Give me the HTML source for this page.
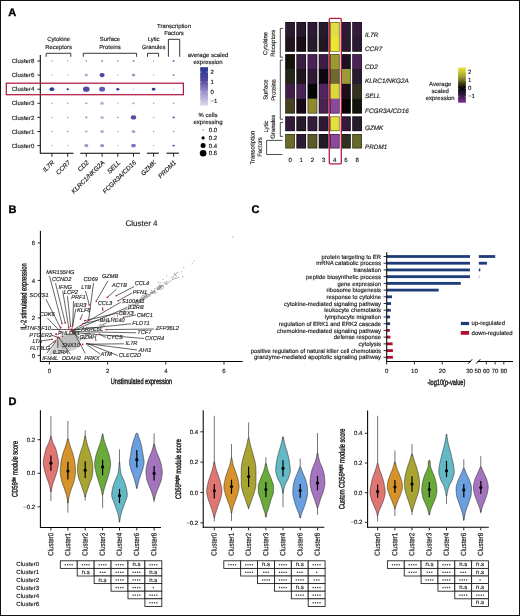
<!DOCTYPE html>
<html><head><meta charset="utf-8"><style>
html,body{margin:0;padding:0;background:#fff;}
body{width:520px;height:616px;overflow:hidden;}
svg{display:block;font-family:"Liberation Sans", sans-serif;will-change:transform;text-rendering:geometricPrecision;}
</style></head><body>
<svg width="520" height="616" viewBox="0 0 520 616">
<rect x="0" y="0" width="520" height="616" fill="#fff"/>
<text x="8.2" y="16.2" font-size="11" text-anchor="start" fill="#000" stroke="#000" stroke-width="0.35" font-weight="bold">A</text>
<line x1="40.3" y1="55" x2="40.3" y2="153.6" stroke="#000" stroke-width="1.05"/>
<line x1="37.4" y1="61" x2="40.3" y2="61" stroke="#111" stroke-width="0.9"/>
<text x="34.4" y="63.1" font-size="6.1" text-anchor="end" fill="#1a1a1a" stroke="#1a1a1a" stroke-width="0.15">Cluster8</text>
<line x1="37.4" y1="75.1" x2="40.3" y2="75.1" stroke="#111" stroke-width="0.9"/>
<text x="34.4" y="77.2" font-size="6.1" text-anchor="end" fill="#1a1a1a" stroke="#1a1a1a" stroke-width="0.15">Cluster6</text>
<line x1="37.4" y1="89.2" x2="40.3" y2="89.2" stroke="#111" stroke-width="0.9"/>
<text x="34.4" y="91.3" font-size="6.1" text-anchor="end" fill="#1a1a1a" stroke="#1a1a1a" stroke-width="0.15">Cluster4</text>
<line x1="37.4" y1="103.3" x2="40.3" y2="103.3" stroke="#111" stroke-width="0.9"/>
<text x="34.4" y="105.4" font-size="6.1" text-anchor="end" fill="#1a1a1a" stroke="#1a1a1a" stroke-width="0.15">Cluster3</text>
<line x1="37.4" y1="117.4" x2="40.3" y2="117.4" stroke="#111" stroke-width="0.9"/>
<text x="34.4" y="119.5" font-size="6.1" text-anchor="end" fill="#1a1a1a" stroke="#1a1a1a" stroke-width="0.15">Cluster2</text>
<line x1="37.4" y1="131.5" x2="40.3" y2="131.5" stroke="#111" stroke-width="0.9"/>
<text x="34.4" y="133.6" font-size="6.1" text-anchor="end" fill="#1a1a1a" stroke="#1a1a1a" stroke-width="0.15">Cluster1</text>
<line x1="37.4" y1="145.6" x2="40.3" y2="145.6" stroke="#111" stroke-width="0.9"/>
<text x="34.4" y="147.7" font-size="6.1" text-anchor="end" fill="#1a1a1a" stroke="#1a1a1a" stroke-width="0.15">Cluster0</text>
<line x1="40.3" y1="153.2" x2="73.5" y2="153.2" stroke="#000" stroke-width="1.05"/>
<line x1="80.2" y1="153.2" x2="140" y2="153.2" stroke="#000" stroke-width="1.05"/>
<line x1="146.9" y1="153.2" x2="158.9" y2="153.2" stroke="#000" stroke-width="1.05"/>
<line x1="166.5" y1="153.2" x2="178.9" y2="153.2" stroke="#000" stroke-width="1.05"/>
<line x1="51.9" y1="153.2" x2="51.9" y2="156.8" stroke="#111" stroke-width="0.9"/>
<text x="54.9" y="162.9" font-size="6.4" text-anchor="end" fill="#1a1a1a" stroke="#1a1a1a" stroke-width="0.15" font-style="italic" transform="rotate(-45 54.9 162.9)">IL7R</text>
<line x1="67.7" y1="153.2" x2="67.7" y2="156.8" stroke="#111" stroke-width="0.9"/>
<text x="70.7" y="162.9" font-size="6.4" text-anchor="end" fill="#1a1a1a" stroke="#1a1a1a" stroke-width="0.15" font-style="italic" transform="rotate(-45 70.7 162.9)">CCR7</text>
<line x1="86.3" y1="153.2" x2="86.3" y2="156.8" stroke="#111" stroke-width="0.9"/>
<text x="89.3" y="162.9" font-size="6.4" text-anchor="end" fill="#1a1a1a" stroke="#1a1a1a" stroke-width="0.15" font-style="italic" transform="rotate(-45 89.3 162.9)">CD2</text>
<line x1="102.1" y1="153.2" x2="102.1" y2="156.8" stroke="#111" stroke-width="0.9"/>
<text x="105.1" y="162.9" font-size="6.4" text-anchor="end" fill="#1a1a1a" stroke="#1a1a1a" stroke-width="0.15" font-style="italic" transform="rotate(-45 105.1 162.9)">KLRC1/NKG2A</text>
<line x1="117.8" y1="153.2" x2="117.8" y2="156.8" stroke="#111" stroke-width="0.9"/>
<text x="120.8" y="162.9" font-size="6.4" text-anchor="end" fill="#1a1a1a" stroke="#1a1a1a" stroke-width="0.15" font-style="italic" transform="rotate(-45 120.8 162.9)">SELL</text>
<line x1="133.5" y1="153.2" x2="133.5" y2="156.8" stroke="#111" stroke-width="0.9"/>
<text x="136.5" y="162.9" font-size="6.4" text-anchor="end" fill="#1a1a1a" stroke="#1a1a1a" stroke-width="0.15" font-style="italic" transform="rotate(-45 136.5 162.9)">FCGR3A/CD16</text>
<line x1="153.6" y1="153.2" x2="153.6" y2="156.8" stroke="#111" stroke-width="0.9"/>
<text x="156.6" y="162.9" font-size="6.4" text-anchor="end" fill="#1a1a1a" stroke="#1a1a1a" stroke-width="0.15" font-style="italic" transform="rotate(-45 156.6 162.9)">GZMK</text>
<line x1="173.6" y1="153.2" x2="173.6" y2="156.8" stroke="#111" stroke-width="0.9"/>
<text x="176.6" y="162.9" font-size="6.4" text-anchor="end" fill="#1a1a1a" stroke="#1a1a1a" stroke-width="0.15" font-style="italic" transform="rotate(-45 176.6 162.9)">PRDM1</text>
<path d="M46.2 56.8 L46.2 53.3 L70.8 53.3 L70.8 56.8" stroke="#222" stroke-width="0.9" fill="none"/>
<path d="M83.3 56.8 L83.3 53.3 L136.6 53.3 L136.6 56.8" stroke="#222" stroke-width="0.9" fill="none"/>
<path d="M147.5 56.8 L147.5 53.3 L158.6 53.3 L158.6 56.8" stroke="#222" stroke-width="0.9" fill="none"/>
<path d="M168.4 56.8 L168.4 39.3 L179.7 39.3 L179.7 56.8" stroke="#222" stroke-width="0.9" fill="none"/>
<text x="58.6" y="41.3" font-size="5.9" text-anchor="middle" fill="#1a1a1a" stroke="#1a1a1a" stroke-width="0.15">Cytokine</text>
<text x="58.6" y="48.5" font-size="5.9" text-anchor="middle" fill="#1a1a1a" stroke="#1a1a1a" stroke-width="0.15">Receptors</text>
<text x="110" y="41.3" font-size="5.9" text-anchor="middle" fill="#1a1a1a" stroke="#1a1a1a" stroke-width="0.15">Surface</text>
<text x="110" y="48.5" font-size="5.9" text-anchor="middle" fill="#1a1a1a" stroke="#1a1a1a" stroke-width="0.15">Proteins</text>
<text x="153.6" y="41.3" font-size="5.9" text-anchor="middle" fill="#1a1a1a" stroke="#1a1a1a" stroke-width="0.15">Lytic</text>
<text x="153.6" y="48.5" font-size="5.9" text-anchor="middle" fill="#1a1a1a" stroke="#1a1a1a" stroke-width="0.15">Granules</text>
<text x="174" y="27.5" font-size="5.9" text-anchor="middle" fill="#1a1a1a" stroke="#1a1a1a" stroke-width="0.15">Transcription</text>
<text x="174" y="34.6" font-size="5.9" text-anchor="middle" fill="#1a1a1a" stroke="#1a1a1a" stroke-width="0.15">Factors</text>
<ellipse cx="51.9" cy="61" rx="0.75" ry="0.68" fill="#a49ccf"/>
<ellipse cx="67.7" cy="61" rx="0.75" ry="0.68" fill="#a49ccf"/>
<ellipse cx="86.3" cy="61" rx="0.8" ry="0.72" fill="#7d73ba"/>
<ellipse cx="102.1" cy="61" rx="1" ry="0.9" fill="#9b92ca"/>
<ellipse cx="117.8" cy="61" rx="0.8" ry="0.72" fill="#7368b4"/>
<ellipse cx="133.5" cy="61" rx="1.1" ry="0.88" fill="#968cc7"/>
<ellipse cx="153.6" cy="61" rx="0.75" ry="0.68" fill="#a49ccf"/>
<ellipse cx="173.6" cy="61" rx="1" ry="0.9" fill="#7368b4"/>
<ellipse cx="51.9" cy="75.1" rx="0.75" ry="0.68" fill="#a49ccf"/>
<ellipse cx="67.7" cy="75.1" rx="0.75" ry="0.68" fill="#a49ccf"/>
<ellipse cx="86.3" cy="75.1" rx="1.6" ry="1.28" fill="#aea6d4"/>
<ellipse cx="102.1" cy="75.1" rx="2.6" ry="2.08" fill="#4a479f"/>
<ellipse cx="117.8" cy="75.1" rx="0.75" ry="0.68" fill="#9b92ca"/>
<ellipse cx="133.5" cy="75.1" rx="1.8" ry="1.44" fill="#a097cc"/>
<ellipse cx="153.6" cy="75.1" rx="0.75" ry="0.68" fill="#a49ccf"/>
<ellipse cx="173.6" cy="75.1" rx="1" ry="0.9" fill="#786eb7"/>
<ellipse cx="51.9" cy="89.2" rx="2.4" ry="1.92" fill="#303994"/>
<ellipse cx="67.7" cy="89.2" rx="1.2" ry="0.96" fill="#26348f"/>
<ellipse cx="86.3" cy="89.2" rx="3.3" ry="2.64" fill="#554ca4"/>
<ellipse cx="102.1" cy="89.2" rx="3" ry="2.4" fill="#6459ac"/>
<ellipse cx="117.8" cy="89.2" rx="1.6" ry="1.28" fill="#363c96"/>
<ellipse cx="133.5" cy="89.2" rx="0.75" ry="0.68" fill="#c7c1e1"/>
<ellipse cx="153.6" cy="89.2" rx="1.8" ry="1.44" fill="#303994"/>
<ellipse cx="173.6" cy="89.2" rx="0.75" ry="0.68" fill="#c7c1e1"/>
<ellipse cx="51.9" cy="103.3" rx="0.75" ry="0.68" fill="#a49ccf"/>
<ellipse cx="67.7" cy="103.3" rx="0.75" ry="0.68" fill="#9b92ca"/>
<ellipse cx="86.3" cy="103.3" rx="1.3" ry="1.04" fill="#aea6d4"/>
<ellipse cx="102.1" cy="103.3" rx="1.9" ry="1.52" fill="#b8b1d9"/>
<ellipse cx="117.8" cy="103.3" rx="0.75" ry="0.68" fill="#b3acd7"/>
<ellipse cx="133.5" cy="103.3" rx="1.4" ry="1.12" fill="#b8b1d9"/>
<ellipse cx="153.6" cy="103.3" rx="0.75" ry="0.68" fill="#a49ccf"/>
<ellipse cx="173.6" cy="103.3" rx="0.9" ry="0.81" fill="#a49ccf"/>
<ellipse cx="51.9" cy="117.4" rx="0.75" ry="0.68" fill="#a49ccf"/>
<ellipse cx="67.7" cy="117.4" rx="0.75" ry="0.68" fill="#968cc7"/>
<ellipse cx="86.3" cy="117.4" rx="1.3" ry="1.04" fill="#aea6d4"/>
<ellipse cx="102.1" cy="117.4" rx="1.9" ry="1.52" fill="#bdb6dc"/>
<ellipse cx="117.8" cy="117.4" rx="0.8" ry="0.72" fill="#7368b4"/>
<ellipse cx="133.5" cy="117.4" rx="2.7" ry="2.16" fill="#554ca4"/>
<ellipse cx="153.6" cy="117.4" rx="0.75" ry="0.68" fill="#a9a1d2"/>
<ellipse cx="173.6" cy="117.4" rx="1.1" ry="0.88" fill="#4a479f"/>
<ellipse cx="51.9" cy="131.5" rx="0.75" ry="0.68" fill="#a097cc"/>
<ellipse cx="67.7" cy="131.5" rx="0.75" ry="0.68" fill="#7d73ba"/>
<ellipse cx="86.3" cy="131.5" rx="1.3" ry="1.04" fill="#aea6d4"/>
<ellipse cx="102.1" cy="131.5" rx="1.9" ry="1.52" fill="#b3acd7"/>
<ellipse cx="117.8" cy="131.5" rx="0.75" ry="0.68" fill="#aea6d4"/>
<ellipse cx="133.5" cy="131.5" rx="1.9" ry="1.52" fill="#aea6d4"/>
<ellipse cx="153.6" cy="131.5" rx="0.75" ry="0.68" fill="#a49ccf"/>
<ellipse cx="173.6" cy="131.5" rx="0.8" ry="0.72" fill="#8278bc"/>
<ellipse cx="51.9" cy="145.6" rx="0.75" ry="0.68" fill="#a9a1d2"/>
<ellipse cx="67.7" cy="145.6" rx="0.75" ry="0.68" fill="#a49ccf"/>
<ellipse cx="86.3" cy="145.6" rx="2" ry="1.6" fill="#9b92ca"/>
<ellipse cx="102.1" cy="145.6" rx="2" ry="1.6" fill="#968cc7"/>
<ellipse cx="117.8" cy="145.6" rx="0.75" ry="0.68" fill="#a9a1d2"/>
<ellipse cx="133.5" cy="145.6" rx="2.4" ry="1.92" fill="#7d73ba"/>
<ellipse cx="153.6" cy="145.6" rx="0.75" ry="0.68" fill="#a49ccf"/>
<ellipse cx="173.6" cy="145.6" rx="1.2" ry="0.96" fill="#4a479f"/>
<rect x="6.3" y="83.2" width="177.1" height="11.5" fill="none" stroke="#b3193f" stroke-width="1.25"/>
<text x="208" y="57.1" font-size="6" text-anchor="middle" fill="#1a1a1a" stroke="#1a1a1a" stroke-width="0.15">average scaled</text>
<text x="208" y="64.1" font-size="6" text-anchor="middle" fill="#1a1a1a" stroke="#1a1a1a" stroke-width="0.15">expression</text>
<defs><linearGradient id="gA" x1="0" y1="0" x2="0" y2="1"><stop offset="0" stop-color="#283892"/><stop offset="0.35" stop-color="#5448a0"/><stop offset="0.65" stop-color="#9d96cb"/><stop offset="1" stop-color="#dbd8ec"/></linearGradient></defs>
<rect x="200.2" y="67.2" width="7.8" height="38.4" fill="url(#gA)"/>
<line x1="200.2" y1="72.1" x2="201.6" y2="72.1" stroke="#fff" stroke-width="0.5"/>
<line x1="206.6" y1="72.1" x2="208" y2="72.1" stroke="#fff" stroke-width="0.5"/>
<text x="210.6" y="74.2" font-size="6" text-anchor="start" fill="#1a1a1a" stroke="#1a1a1a" stroke-width="0.15">2</text>
<line x1="200.2" y1="81.9" x2="201.6" y2="81.9" stroke="#fff" stroke-width="0.5"/>
<line x1="206.6" y1="81.9" x2="208" y2="81.9" stroke="#fff" stroke-width="0.5"/>
<text x="210.6" y="84" font-size="6" text-anchor="start" fill="#1a1a1a" stroke="#1a1a1a" stroke-width="0.15">1</text>
<line x1="200.2" y1="91.7" x2="201.6" y2="91.7" stroke="#fff" stroke-width="0.5"/>
<line x1="206.6" y1="91.7" x2="208" y2="91.7" stroke="#fff" stroke-width="0.5"/>
<text x="210.6" y="93.8" font-size="6" text-anchor="start" fill="#1a1a1a" stroke="#1a1a1a" stroke-width="0.15">0</text>
<line x1="200.2" y1="101.3" x2="201.6" y2="101.3" stroke="#fff" stroke-width="0.5"/>
<line x1="206.6" y1="101.3" x2="208" y2="101.3" stroke="#fff" stroke-width="0.5"/>
<text x="210.6" y="103.4" font-size="6" text-anchor="start" fill="#1a1a1a" stroke="#1a1a1a" stroke-width="0.15">−1</text>
<text x="208" y="116.5" font-size="6" text-anchor="middle" fill="#1a1a1a" stroke="#1a1a1a" stroke-width="0.15">% cells</text>
<text x="208" y="123.7" font-size="6" text-anchor="middle" fill="#1a1a1a" stroke="#1a1a1a" stroke-width="0.15">expressing</text>
<circle cx="203.1" cy="129.8" r="0.5" fill="#000"/>
<text x="208.8" y="131.9" font-size="6" text-anchor="start" fill="#1a1a1a" stroke="#1a1a1a" stroke-width="0.15">0.0</text>
<circle cx="203.1" cy="137.9" r="1.6" fill="#000"/>
<text x="208.8" y="140" font-size="6" text-anchor="start" fill="#1a1a1a" stroke="#1a1a1a" stroke-width="0.15">0.2</text>
<circle cx="203.1" cy="145.5" r="2.5" fill="#000"/>
<text x="208.8" y="147.6" font-size="6" text-anchor="start" fill="#1a1a1a" stroke="#1a1a1a" stroke-width="0.15">0.4</text>
<circle cx="203.1" cy="153.2" r="3.3" fill="#000"/>
<text x="208.8" y="155.3" font-size="6" text-anchor="start" fill="#1a1a1a" stroke="#1a1a1a" stroke-width="0.15">0.6</text>
<rect x="285.3" y="22" width="9.6" height="15.15" fill="#2c1a31"/>
<rect x="296.47" y="22" width="9.6" height="15.15" fill="#261a2b"/>
<rect x="307.64" y="22" width="9.6" height="15.15" fill="#2e1a34"/>
<rect x="318.81" y="22" width="9.6" height="15.15" fill="#251b29"/>
<rect x="329.98" y="22" width="9.6" height="15.15" fill="#e2dd45"/>
<rect x="341.15" y="22" width="9.6" height="15.15" fill="#2d1a34"/>
<rect x="352.32" y="22" width="9.6" height="15.15" fill="#361c3e"/>
<rect x="285.3" y="36.9" width="9.6" height="14.8" fill="#22151f"/>
<rect x="296.47" y="36.9" width="9.6" height="14.8" fill="#1a0d18"/>
<rect x="307.64" y="36.9" width="9.6" height="14.8" fill="#271a2c"/>
<rect x="318.81" y="36.9" width="9.6" height="14.8" fill="#221825"/>
<rect x="329.98" y="36.9" width="9.6" height="14.8" fill="#ede532"/>
<rect x="341.15" y="36.9" width="9.6" height="14.8" fill="#2b1b31"/>
<rect x="352.32" y="36.9" width="9.6" height="14.8" fill="#2a1a31"/>
<rect x="285.3" y="54.2" width="9.6" height="15.05" fill="#13130c"/>
<rect x="296.47" y="54.2" width="9.6" height="15.05" fill="#3a1e41"/>
<rect x="307.64" y="54.2" width="9.6" height="15.05" fill="#4a2255"/>
<rect x="318.81" y="54.2" width="9.6" height="15.05" fill="#3d1f46"/>
<rect x="329.98" y="54.2" width="9.6" height="15.05" fill="#9e9a31"/>
<rect x="341.15" y="54.2" width="9.6" height="15.05" fill="#1e1021"/>
<rect x="352.32" y="54.2" width="9.6" height="15.05" fill="#4d2357"/>
<rect x="285.3" y="69" width="9.6" height="15.05" fill="#25251a"/>
<rect x="296.47" y="69" width="9.6" height="15.05" fill="#20141f"/>
<rect x="307.64" y="69" width="9.6" height="15.05" fill="#2f1935"/>
<rect x="318.81" y="69" width="9.6" height="15.05" fill="#0b0712"/>
<rect x="329.98" y="69" width="9.6" height="15.05" fill="#6e6a2e"/>
<rect x="341.15" y="69" width="9.6" height="15.05" fill="#9d9934"/>
<rect x="352.32" y="69" width="9.6" height="15.05" fill="#2a1a2f"/>
<rect x="285.3" y="83.8" width="9.6" height="15.15" fill="#3f1d48"/>
<rect x="296.47" y="83.8" width="9.6" height="15.15" fill="#4b2457"/>
<rect x="307.64" y="83.8" width="9.6" height="15.15" fill="#050505"/>
<rect x="318.81" y="83.8" width="9.6" height="15.15" fill="#51265e"/>
<rect x="329.98" y="83.8" width="9.6" height="15.15" fill="#dcd73b"/>
<rect x="341.15" y="83.8" width="9.6" height="15.15" fill="#1c0c1c"/>
<rect x="352.32" y="83.8" width="9.6" height="15.15" fill="#35331f"/>
<rect x="285.3" y="98.7" width="9.6" height="14.8" fill="#45401f"/>
<rect x="296.47" y="98.7" width="9.6" height="14.8" fill="#170818"/>
<rect x="307.64" y="98.7" width="9.6" height="14.8" fill="#8f8c30"/>
<rect x="318.81" y="98.7" width="9.6" height="14.8" fill="#4a2353"/>
<rect x="329.98" y="98.7" width="9.6" height="14.8" fill="#8a4a9b"/>
<rect x="341.15" y="98.7" width="9.6" height="14.8" fill="#070305"/>
<rect x="352.32" y="98.7" width="9.6" height="14.8" fill="#13140c"/>
<rect x="285.3" y="116.4" width="9.6" height="14.7" fill="#331a39"/>
<rect x="296.47" y="116.4" width="9.6" height="14.7" fill="#241a28"/>
<rect x="307.64" y="116.4" width="9.6" height="14.7" fill="#351c3d"/>
<rect x="318.81" y="116.4" width="9.6" height="14.7" fill="#2f1a34"/>
<rect x="329.98" y="116.4" width="9.6" height="14.7" fill="#e5e03d"/>
<rect x="341.15" y="116.4" width="9.6" height="14.7" fill="#331a39"/>
<rect x="352.32" y="116.4" width="9.6" height="14.7" fill="#261a2d"/>
<rect x="285.3" y="134" width="9.6" height="14.4" fill="#6d6b2a"/>
<rect x="296.47" y="134" width="9.6" height="14.4" fill="#2e1a34"/>
<rect x="307.64" y="134" width="9.6" height="14.4" fill="#5c5a28"/>
<rect x="318.81" y="134" width="9.6" height="14.4" fill="#231b28"/>
<rect x="329.98" y="134" width="9.6" height="14.4" fill="#8c489a"/>
<rect x="341.15" y="134" width="9.6" height="14.4" fill="#2f2f1f"/>
<rect x="352.32" y="134" width="9.6" height="14.4" fill="#686a2c"/>
<rect x="285.65" y="22.35" width="8.9" height="29" fill="none" stroke="#000" stroke-opacity="0.55" stroke-width="0.7"/>
<rect x="296.82" y="22.35" width="8.9" height="29" fill="none" stroke="#000" stroke-opacity="0.55" stroke-width="0.7"/>
<rect x="307.99" y="22.35" width="8.9" height="29" fill="none" stroke="#000" stroke-opacity="0.55" stroke-width="0.7"/>
<rect x="319.16" y="22.35" width="8.9" height="29" fill="none" stroke="#000" stroke-opacity="0.55" stroke-width="0.7"/>
<rect x="330.33" y="22.35" width="8.9" height="29" fill="none" stroke="#000" stroke-opacity="0.55" stroke-width="0.7"/>
<rect x="341.5" y="22.35" width="8.9" height="29" fill="none" stroke="#000" stroke-opacity="0.55" stroke-width="0.7"/>
<rect x="352.67" y="22.35" width="8.9" height="29" fill="none" stroke="#000" stroke-opacity="0.55" stroke-width="0.7"/>
<rect x="285.65" y="54.55" width="8.9" height="58.6" fill="none" stroke="#000" stroke-opacity="0.55" stroke-width="0.7"/>
<rect x="296.82" y="54.55" width="8.9" height="58.6" fill="none" stroke="#000" stroke-opacity="0.55" stroke-width="0.7"/>
<rect x="307.99" y="54.55" width="8.9" height="58.6" fill="none" stroke="#000" stroke-opacity="0.55" stroke-width="0.7"/>
<rect x="319.16" y="54.55" width="8.9" height="58.6" fill="none" stroke="#000" stroke-opacity="0.55" stroke-width="0.7"/>
<rect x="330.33" y="54.55" width="8.9" height="58.6" fill="none" stroke="#000" stroke-opacity="0.55" stroke-width="0.7"/>
<rect x="341.5" y="54.55" width="8.9" height="58.6" fill="none" stroke="#000" stroke-opacity="0.55" stroke-width="0.7"/>
<rect x="352.67" y="54.55" width="8.9" height="58.6" fill="none" stroke="#000" stroke-opacity="0.55" stroke-width="0.7"/>
<rect x="285.65" y="116.75" width="8.9" height="14" fill="none" stroke="#000" stroke-opacity="0.55" stroke-width="0.7"/>
<rect x="296.82" y="116.75" width="8.9" height="14" fill="none" stroke="#000" stroke-opacity="0.55" stroke-width="0.7"/>
<rect x="307.99" y="116.75" width="8.9" height="14" fill="none" stroke="#000" stroke-opacity="0.55" stroke-width="0.7"/>
<rect x="319.16" y="116.75" width="8.9" height="14" fill="none" stroke="#000" stroke-opacity="0.55" stroke-width="0.7"/>
<rect x="330.33" y="116.75" width="8.9" height="14" fill="none" stroke="#000" stroke-opacity="0.55" stroke-width="0.7"/>
<rect x="341.5" y="116.75" width="8.9" height="14" fill="none" stroke="#000" stroke-opacity="0.55" stroke-width="0.7"/>
<rect x="352.67" y="116.75" width="8.9" height="14" fill="none" stroke="#000" stroke-opacity="0.55" stroke-width="0.7"/>
<rect x="285.65" y="134.35" width="8.9" height="13.7" fill="none" stroke="#000" stroke-opacity="0.55" stroke-width="0.7"/>
<rect x="296.82" y="134.35" width="8.9" height="13.7" fill="none" stroke="#000" stroke-opacity="0.55" stroke-width="0.7"/>
<rect x="307.99" y="134.35" width="8.9" height="13.7" fill="none" stroke="#000" stroke-opacity="0.55" stroke-width="0.7"/>
<rect x="319.16" y="134.35" width="8.9" height="13.7" fill="none" stroke="#000" stroke-opacity="0.55" stroke-width="0.7"/>
<rect x="330.33" y="134.35" width="8.9" height="13.7" fill="none" stroke="#000" stroke-opacity="0.55" stroke-width="0.7"/>
<rect x="341.5" y="134.35" width="8.9" height="13.7" fill="none" stroke="#000" stroke-opacity="0.55" stroke-width="0.7"/>
<rect x="352.67" y="134.35" width="8.9" height="13.7" fill="none" stroke="#000" stroke-opacity="0.55" stroke-width="0.7"/>
<rect x="329.3" y="18.3" width="12.0" height="145.5" rx="1" fill="none" stroke="#b81c44" stroke-width="1.3"/>
<text x="290.1" y="161.8" font-size="6" text-anchor="middle" fill="#1a1a1a" stroke="#1a1a1a" stroke-width="0.15">0</text>
<text x="301.27" y="161.8" font-size="6" text-anchor="middle" fill="#1a1a1a" stroke="#1a1a1a" stroke-width="0.15">1</text>
<text x="312.44" y="161.8" font-size="6" text-anchor="middle" fill="#1a1a1a" stroke="#1a1a1a" stroke-width="0.15">2</text>
<text x="323.61" y="161.8" font-size="6" text-anchor="middle" fill="#1a1a1a" stroke="#1a1a1a" stroke-width="0.15">3</text>
<text x="334.78" y="161.8" font-size="6" text-anchor="middle" fill="#1a1a1a" stroke="#1a1a1a" stroke-width="0.15">4</text>
<text x="345.95" y="161.8" font-size="6" text-anchor="middle" fill="#1a1a1a" stroke="#1a1a1a" stroke-width="0.15">6</text>
<text x="357.12" y="161.8" font-size="6" text-anchor="middle" fill="#1a1a1a" stroke="#1a1a1a" stroke-width="0.15">8</text>
<text x="365" y="36.6" font-size="6.35" text-anchor="start" fill="#1a1a1a" stroke="#1a1a1a" stroke-width="0.15" font-style="italic">IL7R</text>
<text x="365" y="51.2" font-size="6.35" text-anchor="start" fill="#1a1a1a" stroke="#1a1a1a" stroke-width="0.15" font-style="italic">CCR7</text>
<text x="365" y="68.5" font-size="6.35" text-anchor="start" fill="#1a1a1a" stroke="#1a1a1a" stroke-width="0.15" font-style="italic">CD2</text>
<text x="365" y="83.4" font-size="6.35" text-anchor="start" fill="#1a1a1a" stroke="#1a1a1a" stroke-width="0.15" font-style="italic">KLRC1/NKG2A</text>
<text x="365" y="98.4" font-size="6.35" text-anchor="start" fill="#1a1a1a" stroke="#1a1a1a" stroke-width="0.15" font-style="italic">SELL</text>
<text x="365" y="113.1" font-size="6.35" text-anchor="start" fill="#1a1a1a" stroke="#1a1a1a" stroke-width="0.15" font-style="italic">FCGR3A/CD16</text>
<text x="365" y="130.3" font-size="6.35" text-anchor="start" fill="#1a1a1a" stroke="#1a1a1a" stroke-width="0.15" font-style="italic">GZMK</text>
<text x="365" y="148.5" font-size="6.35" text-anchor="start" fill="#1a1a1a" stroke="#1a1a1a" stroke-width="0.15" font-style="italic">PRDM1</text>
<path d="M283 28.4 L280.3 28.4 L280.3 57.2 L283 57.2" stroke="#222" stroke-width="0.8" fill="none"/>
<path d="M283 60.1 L280.3 60.1 L280.3 119.2 L283 119.2" stroke="#222" stroke-width="0.8" fill="none"/>
<path d="M283 122.4 L280.3 122.4 L280.3 136.4 L283 136.4" stroke="#222" stroke-width="0.8" fill="none"/>
<path d="M282.4 140.4 L266.6 140.4 L266.6 154.5 L282.4 154.5" stroke="#222" stroke-width="0.8" fill="none"/>
<text x="267.3" y="43.5" font-size="5.9" text-anchor="middle" fill="#1a1a1a" stroke="#1a1a1a" stroke-width="0.15" transform="rotate(-89.9 267.3 43.5)">Cytokine</text>
<text x="274.9" y="43.2" font-size="5.9" text-anchor="middle" fill="#1a1a1a" stroke="#1a1a1a" stroke-width="0.15" transform="rotate(-89.9 274.9 43.2)">Receptors</text>
<text x="267.6" y="89.7" font-size="5.9" text-anchor="middle" fill="#1a1a1a" stroke="#1a1a1a" stroke-width="0.15" transform="rotate(-89.9 267.6 89.7)">Surface</text>
<text x="275.6" y="90" font-size="5.9" text-anchor="middle" fill="#1a1a1a" stroke="#1a1a1a" stroke-width="0.15" transform="rotate(-89.9 275.6 90)">Proteins</text>
<text x="268" y="126.5" font-size="5.9" text-anchor="middle" fill="#1a1a1a" stroke="#1a1a1a" stroke-width="0.15" transform="rotate(-89.9 268 126.5)">Lytic</text>
<text x="274.9" y="126.7" font-size="5.9" text-anchor="middle" fill="#1a1a1a" stroke="#1a1a1a" stroke-width="0.15" transform="rotate(-89.9 274.9 126.7)">Granules</text>
<text x="254.6" y="147.5" font-size="5.9" text-anchor="middle" fill="#1a1a1a" stroke="#1a1a1a" stroke-width="0.15" transform="rotate(-89.9 254.6 147.5)">Transcription</text>
<text x="261.7" y="147" font-size="5.9" text-anchor="middle" fill="#1a1a1a" stroke="#1a1a1a" stroke-width="0.15" transform="rotate(-89.9 261.7 147)">Factors</text>
<text x="440.2" y="86" font-size="6" text-anchor="middle" fill="#1a1a1a" stroke="#1a1a1a" stroke-width="0.15">Average</text>
<text x="440.2" y="92.9" font-size="6" text-anchor="middle" fill="#1a1a1a" stroke="#1a1a1a" stroke-width="0.15">scaled</text>
<text x="440.2" y="100.4" font-size="6" text-anchor="middle" fill="#1a1a1a" stroke="#1a1a1a" stroke-width="0.15">expression</text>
<defs><linearGradient id="gH" x1="0" y1="0" x2="0" y2="1"><stop offset="0" stop-color="#ece63a"/><stop offset="0.25" stop-color="#a6a233"/><stop offset="0.58" stop-color="#050505"/><stop offset="0.8" stop-color="#3c1a46"/><stop offset="1" stop-color="#7d2f95"/></linearGradient></defs>
<rect x="458.1" y="67.5" width="7.8" height="35.2" fill="url(#gH)"/>
<line x1="458.1" y1="71.5" x2="459.5" y2="71.5" stroke="#fff" stroke-width="0.5" opacity="0.6"/>
<line x1="464.5" y1="71.5" x2="465.9" y2="71.5" stroke="#fff" stroke-width="0.5" opacity="0.6"/>
<text x="467.9" y="73.6" font-size="6" text-anchor="start" fill="#1a1a1a" stroke="#1a1a1a" stroke-width="0.15">2</text>
<line x1="458.1" y1="80.2" x2="459.5" y2="80.2" stroke="#fff" stroke-width="0.5" opacity="0.6"/>
<line x1="464.5" y1="80.2" x2="465.9" y2="80.2" stroke="#fff" stroke-width="0.5" opacity="0.6"/>
<text x="467.9" y="82.3" font-size="6" text-anchor="start" fill="#1a1a1a" stroke="#1a1a1a" stroke-width="0.15">1</text>
<line x1="458.1" y1="88.3" x2="459.5" y2="88.3" stroke="#fff" stroke-width="0.5" opacity="0.6"/>
<line x1="464.5" y1="88.3" x2="465.9" y2="88.3" stroke="#fff" stroke-width="0.5" opacity="0.6"/>
<text x="467.9" y="90.4" font-size="6" text-anchor="start" fill="#1a1a1a" stroke="#1a1a1a" stroke-width="0.15">0</text>
<line x1="458.1" y1="96.3" x2="459.5" y2="96.3" stroke="#fff" stroke-width="0.5" opacity="0.6"/>
<line x1="464.5" y1="96.3" x2="465.9" y2="96.3" stroke="#fff" stroke-width="0.5" opacity="0.6"/>
<text x="467.9" y="98.4" font-size="6" text-anchor="start" fill="#1a1a1a" stroke="#1a1a1a" stroke-width="0.15">−1</text>
<text x="8.6" y="213.1" font-size="11" text-anchor="start" fill="#000" stroke="#000" stroke-width="0.35" font-weight="bold">B</text>
<text x="141.5" y="226" font-size="8" text-anchor="middle" fill="#1a1a1a" stroke="#1a1a1a" stroke-width="0.15">Cluster 4</text>
<circle cx="81.97" cy="337.49" r="0.55" fill="#8e8e8e"/>
<circle cx="140.02" cy="302.09" r="0.55" fill="#8e8e8e"/>
<circle cx="161.05" cy="287" r="0.55" fill="#8e8e8e"/>
<circle cx="84.67" cy="339.71" r="0.55" fill="#8e8e8e"/>
<circle cx="100.79" cy="328" r="0.55" fill="#8e8e8e"/>
<circle cx="145.76" cy="296.75" r="0.55" fill="#8e8e8e"/>
<circle cx="108.7" cy="320.44" r="0.55" fill="#8e8e8e"/>
<circle cx="154.71" cy="290.61" r="0.55" fill="#8e8e8e"/>
<circle cx="94.87" cy="330.38" r="0.55" fill="#8e8e8e"/>
<circle cx="77.69" cy="340.52" r="0.55" fill="#8e8e8e"/>
<circle cx="128.78" cy="308.67" r="0.55" fill="#8e8e8e"/>
<circle cx="87.31" cy="334.53" r="0.55" fill="#8e8e8e"/>
<circle cx="121.98" cy="312.97" r="0.55" fill="#8e8e8e"/>
<circle cx="117.45" cy="316.31" r="0.55" fill="#8e8e8e"/>
<circle cx="91.44" cy="329.13" r="0.55" fill="#8e8e8e"/>
<circle cx="117.12" cy="315.01" r="0.55" fill="#8e8e8e"/>
<circle cx="107.95" cy="321.65" r="0.55" fill="#8e8e8e"/>
<circle cx="103.53" cy="324.64" r="0.55" fill="#8e8e8e"/>
<circle cx="125.26" cy="309.55" r="0.55" fill="#8e8e8e"/>
<circle cx="104.89" cy="321.13" r="0.55" fill="#8e8e8e"/>
<circle cx="132.38" cy="304.6" r="0.55" fill="#8e8e8e"/>
<circle cx="136.49" cy="300.28" r="0.55" fill="#8e8e8e"/>
<circle cx="111.2" cy="318.45" r="0.55" fill="#8e8e8e"/>
<circle cx="114.19" cy="318.86" r="0.55" fill="#8e8e8e"/>
<circle cx="128.75" cy="304.85" r="0.55" fill="#8e8e8e"/>
<circle cx="76.31" cy="342.27" r="0.55" fill="#8e8e8e"/>
<circle cx="83.83" cy="336.89" r="0.55" fill="#8e8e8e"/>
<circle cx="137.98" cy="303.84" r="0.55" fill="#8e8e8e"/>
<circle cx="158.7" cy="288.02" r="0.55" fill="#8e8e8e"/>
<circle cx="102.68" cy="324.67" r="0.55" fill="#8e8e8e"/>
<circle cx="128.39" cy="309.32" r="0.55" fill="#8e8e8e"/>
<circle cx="86.95" cy="334.53" r="0.55" fill="#8e8e8e"/>
<circle cx="104" cy="325.54" r="0.55" fill="#8e8e8e"/>
<circle cx="117.78" cy="314.49" r="0.55" fill="#8e8e8e"/>
<circle cx="86.41" cy="333.53" r="0.55" fill="#8e8e8e"/>
<circle cx="100.81" cy="324.41" r="0.55" fill="#8e8e8e"/>
<circle cx="88.88" cy="331.91" r="0.55" fill="#8e8e8e"/>
<circle cx="141.35" cy="297.15" r="0.55" fill="#8e8e8e"/>
<circle cx="142.76" cy="295.65" r="0.55" fill="#8e8e8e"/>
<circle cx="144.87" cy="299.05" r="0.55" fill="#8e8e8e"/>
<circle cx="153.96" cy="292.64" r="0.55" fill="#8e8e8e"/>
<circle cx="158.1" cy="289.48" r="0.55" fill="#8e8e8e"/>
<circle cx="78.81" cy="339.46" r="0.55" fill="#8e8e8e"/>
<circle cx="117.67" cy="315.56" r="0.55" fill="#8e8e8e"/>
<circle cx="144.5" cy="296.73" r="0.55" fill="#8e8e8e"/>
<circle cx="133.5" cy="305.16" r="0.55" fill="#8e8e8e"/>
<circle cx="82.61" cy="338.69" r="0.55" fill="#8e8e8e"/>
<circle cx="112.48" cy="317.62" r="0.55" fill="#8e8e8e"/>
<circle cx="128.65" cy="308.67" r="0.55" fill="#8e8e8e"/>
<circle cx="142.48" cy="299.5" r="0.55" fill="#8e8e8e"/>
<circle cx="75.25" cy="340.94" r="0.55" fill="#8e8e8e"/>
<circle cx="78.35" cy="337.49" r="0.55" fill="#8e8e8e"/>
<circle cx="123.87" cy="312.16" r="0.55" fill="#8e8e8e"/>
<circle cx="158.14" cy="289.2" r="0.55" fill="#8e8e8e"/>
<circle cx="87.38" cy="335.15" r="0.55" fill="#8e8e8e"/>
<circle cx="86.13" cy="333.85" r="0.55" fill="#8e8e8e"/>
<circle cx="94.09" cy="328.67" r="0.55" fill="#8e8e8e"/>
<circle cx="144.12" cy="298.12" r="0.55" fill="#8e8e8e"/>
<circle cx="150.44" cy="293.78" r="0.55" fill="#8e8e8e"/>
<circle cx="144.71" cy="296.84" r="0.55" fill="#8e8e8e"/>
<circle cx="160.04" cy="286.67" r="0.55" fill="#8e8e8e"/>
<circle cx="151.66" cy="292.35" r="0.55" fill="#8e8e8e"/>
<circle cx="154.73" cy="290.67" r="0.55" fill="#8e8e8e"/>
<circle cx="137.19" cy="300.74" r="0.55" fill="#8e8e8e"/>
<circle cx="149.81" cy="294.69" r="0.55" fill="#8e8e8e"/>
<circle cx="145.26" cy="295.97" r="0.55" fill="#8e8e8e"/>
<circle cx="124.33" cy="311.53" r="0.55" fill="#8e8e8e"/>
<circle cx="78.96" cy="339.1" r="0.55" fill="#8e8e8e"/>
<circle cx="75.81" cy="341.18" r="0.55" fill="#8e8e8e"/>
<circle cx="88.48" cy="333.45" r="0.55" fill="#8e8e8e"/>
<circle cx="79.28" cy="341.73" r="0.55" fill="#8e8e8e"/>
<circle cx="113.08" cy="318.08" r="0.55" fill="#8e8e8e"/>
<circle cx="88.15" cy="334.91" r="0.55" fill="#8e8e8e"/>
<circle cx="156.2" cy="288.08" r="0.55" fill="#8e8e8e"/>
<circle cx="163.58" cy="286.99" r="0.55" fill="#8e8e8e"/>
<circle cx="151.01" cy="293.11" r="0.55" fill="#8e8e8e"/>
<circle cx="127.99" cy="307.15" r="0.55" fill="#8e8e8e"/>
<circle cx="85.28" cy="334.64" r="0.55" fill="#8e8e8e"/>
<circle cx="154.92" cy="290.62" r="0.55" fill="#8e8e8e"/>
<circle cx="111.56" cy="318.1" r="0.55" fill="#8e8e8e"/>
<circle cx="93.8" cy="333.29" r="0.55" fill="#8e8e8e"/>
<circle cx="104.69" cy="325.05" r="0.55" fill="#8e8e8e"/>
<circle cx="139.59" cy="300.28" r="0.55" fill="#8e8e8e"/>
<circle cx="106.16" cy="321.78" r="0.55" fill="#8e8e8e"/>
<circle cx="107.49" cy="319.95" r="0.55" fill="#8e8e8e"/>
<circle cx="114.42" cy="316.23" r="0.55" fill="#8e8e8e"/>
<circle cx="100.43" cy="326.88" r="0.55" fill="#8e8e8e"/>
<circle cx="108.99" cy="320.45" r="0.55" fill="#8e8e8e"/>
<circle cx="133.63" cy="306.22" r="0.55" fill="#8e8e8e"/>
<circle cx="81.46" cy="338.81" r="0.55" fill="#8e8e8e"/>
<circle cx="140.73" cy="300.14" r="0.55" fill="#8e8e8e"/>
<circle cx="101.2" cy="326.11" r="0.55" fill="#8e8e8e"/>
<circle cx="135.12" cy="304.68" r="0.55" fill="#8e8e8e"/>
<circle cx="89.54" cy="334.42" r="0.55" fill="#8e8e8e"/>
<circle cx="160.49" cy="287.15" r="0.55" fill="#8e8e8e"/>
<circle cx="127.9" cy="308.88" r="0.55" fill="#8e8e8e"/>
<circle cx="80.17" cy="340.46" r="0.55" fill="#8e8e8e"/>
<circle cx="92.59" cy="331.76" r="0.55" fill="#8e8e8e"/>
<circle cx="102.93" cy="324.97" r="0.55" fill="#8e8e8e"/>
<circle cx="82.34" cy="335.97" r="0.55" fill="#8e8e8e"/>
<circle cx="151.73" cy="290.27" r="0.55" fill="#8e8e8e"/>
<circle cx="83.33" cy="335.17" r="0.55" fill="#8e8e8e"/>
<circle cx="135.79" cy="303.7" r="0.55" fill="#8e8e8e"/>
<circle cx="97.71" cy="328.99" r="0.55" fill="#8e8e8e"/>
<circle cx="144.38" cy="297.93" r="0.55" fill="#8e8e8e"/>
<circle cx="126.04" cy="309.14" r="0.55" fill="#8e8e8e"/>
<circle cx="102.87" cy="326.99" r="0.55" fill="#8e8e8e"/>
<circle cx="98.37" cy="327.55" r="0.55" fill="#8e8e8e"/>
<circle cx="150.33" cy="294.84" r="0.55" fill="#8e8e8e"/>
<circle cx="148.36" cy="294.86" r="0.55" fill="#8e8e8e"/>
<circle cx="83.08" cy="335.61" r="0.55" fill="#8e8e8e"/>
<circle cx="142.33" cy="300.14" r="0.55" fill="#8e8e8e"/>
<circle cx="123.79" cy="311.97" r="0.55" fill="#8e8e8e"/>
<circle cx="80.5" cy="338.68" r="0.55" fill="#8e8e8e"/>
<circle cx="124.09" cy="310.51" r="0.55" fill="#8e8e8e"/>
<circle cx="141.31" cy="299.54" r="0.55" fill="#8e8e8e"/>
<circle cx="124.82" cy="310.49" r="0.55" fill="#8e8e8e"/>
<circle cx="105.79" cy="323.5" r="0.55" fill="#8e8e8e"/>
<circle cx="160.93" cy="286.11" r="0.55" fill="#8e8e8e"/>
<circle cx="108.36" cy="322.41" r="0.55" fill="#8e8e8e"/>
<circle cx="152.75" cy="293.07" r="0.55" fill="#8e8e8e"/>
<circle cx="131.53" cy="305.55" r="0.55" fill="#8e8e8e"/>
<circle cx="104.24" cy="323.41" r="0.55" fill="#8e8e8e"/>
<circle cx="89.92" cy="333.2" r="0.55" fill="#8e8e8e"/>
<circle cx="101.2" cy="324.94" r="0.55" fill="#8e8e8e"/>
<circle cx="159.83" cy="288.08" r="0.55" fill="#8e8e8e"/>
<circle cx="123.04" cy="312.89" r="0.55" fill="#8e8e8e"/>
<circle cx="120.6" cy="312.04" r="0.55" fill="#8e8e8e"/>
<circle cx="83.69" cy="336.77" r="0.55" fill="#8e8e8e"/>
<circle cx="85.16" cy="334.78" r="0.55" fill="#8e8e8e"/>
<circle cx="94.17" cy="329.77" r="0.55" fill="#8e8e8e"/>
<circle cx="162.81" cy="285.75" r="0.55" fill="#8e8e8e"/>
<circle cx="80.46" cy="339.73" r="0.55" fill="#8e8e8e"/>
<circle cx="151.46" cy="290.53" r="0.55" fill="#8e8e8e"/>
<circle cx="146.14" cy="294.82" r="0.55" fill="#8e8e8e"/>
<circle cx="149.85" cy="295.93" r="0.55" fill="#8e8e8e"/>
<circle cx="151.8" cy="293.3" r="0.55" fill="#8e8e8e"/>
<circle cx="84.71" cy="336.84" r="0.55" fill="#8e8e8e"/>
<circle cx="102.76" cy="325.88" r="0.55" fill="#8e8e8e"/>
<circle cx="145.22" cy="293.13" r="0.55" fill="#8e8e8e"/>
<circle cx="95.36" cy="327.94" r="0.55" fill="#8e8e8e"/>
<circle cx="144.59" cy="299.18" r="0.55" fill="#8e8e8e"/>
<circle cx="91.84" cy="330.41" r="0.55" fill="#8e8e8e"/>
<circle cx="94.05" cy="330.01" r="0.55" fill="#8e8e8e"/>
<circle cx="157.83" cy="289.74" r="0.55" fill="#8e8e8e"/>
<circle cx="121.08" cy="312.29" r="0.55" fill="#8e8e8e"/>
<circle cx="78.17" cy="339.24" r="0.55" fill="#8e8e8e"/>
<circle cx="105.95" cy="322.95" r="0.55" fill="#8e8e8e"/>
<circle cx="160.63" cy="289.57" r="0.55" fill="#8e8e8e"/>
<circle cx="140.09" cy="300.19" r="0.55" fill="#8e8e8e"/>
<circle cx="85.33" cy="335.87" r="0.55" fill="#8e8e8e"/>
<circle cx="99.3" cy="325.34" r="0.55" fill="#8e8e8e"/>
<circle cx="140.26" cy="300.31" r="0.55" fill="#8e8e8e"/>
<circle cx="144.38" cy="297.1" r="0.55" fill="#8e8e8e"/>
<circle cx="140.35" cy="301.03" r="0.55" fill="#8e8e8e"/>
<circle cx="118.47" cy="313.66" r="0.55" fill="#8e8e8e"/>
<circle cx="90.33" cy="333.37" r="0.55" fill="#8e8e8e"/>
<circle cx="137.14" cy="302.99" r="0.55" fill="#8e8e8e"/>
<circle cx="159.08" cy="287.22" r="0.55" fill="#8e8e8e"/>
<circle cx="87.76" cy="333.24" r="0.55" fill="#8e8e8e"/>
<circle cx="146.68" cy="294.27" r="0.55" fill="#8e8e8e"/>
<circle cx="144.59" cy="296.18" r="0.55" fill="#8e8e8e"/>
<circle cx="139.66" cy="300.67" r="0.55" fill="#8e8e8e"/>
<circle cx="139.57" cy="300.55" r="0.55" fill="#8e8e8e"/>
<circle cx="146.49" cy="297.84" r="0.55" fill="#8e8e8e"/>
<circle cx="141.04" cy="301.28" r="0.55" fill="#8e8e8e"/>
<circle cx="145.9" cy="296.59" r="0.55" fill="#8e8e8e"/>
<circle cx="153.84" cy="291.75" r="0.55" fill="#8e8e8e"/>
<circle cx="157.79" cy="289.02" r="0.55" fill="#8e8e8e"/>
<circle cx="155.81" cy="292.91" r="0.55" fill="#8e8e8e"/>
<circle cx="143.57" cy="297.03" r="0.55" fill="#8e8e8e"/>
<circle cx="161.39" cy="287.75" r="0.55" fill="#8e8e8e"/>
<circle cx="147.9" cy="294.95" r="0.55" fill="#8e8e8e"/>
<circle cx="158.18" cy="287.01" r="0.55" fill="#8e8e8e"/>
<circle cx="154.8" cy="288.46" r="0.55" fill="#8e8e8e"/>
<circle cx="142.72" cy="298.45" r="0.55" fill="#8e8e8e"/>
<circle cx="161.95" cy="285.88" r="0.55" fill="#8e8e8e"/>
<circle cx="142.5" cy="299.42" r="0.55" fill="#8e8e8e"/>
<circle cx="149.06" cy="294.56" r="0.55" fill="#8e8e8e"/>
<circle cx="147.51" cy="294.05" r="0.55" fill="#8e8e8e"/>
<circle cx="152.16" cy="292.96" r="0.55" fill="#8e8e8e"/>
<circle cx="159.68" cy="286.89" r="0.55" fill="#8e8e8e"/>
<circle cx="159.98" cy="287.34" r="0.55" fill="#8e8e8e"/>
<circle cx="141.49" cy="299.95" r="0.55" fill="#8e8e8e"/>
<circle cx="145.66" cy="296.94" r="0.55" fill="#8e8e8e"/>
<circle cx="142.61" cy="299.35" r="0.55" fill="#8e8e8e"/>
<circle cx="142.5" cy="298.39" r="0.55" fill="#8e8e8e"/>
<circle cx="142.28" cy="298.34" r="0.55" fill="#8e8e8e"/>
<circle cx="136.54" cy="301.04" r="0.55" fill="#8e8e8e"/>
<circle cx="149.58" cy="294.67" r="0.55" fill="#8e8e8e"/>
<circle cx="160.49" cy="286.81" r="0.55" fill="#8e8e8e"/>
<circle cx="150.39" cy="292.26" r="0.55" fill="#8e8e8e"/>
<circle cx="142.58" cy="297.93" r="0.55" fill="#8e8e8e"/>
<circle cx="136.33" cy="301.43" r="0.55" fill="#8e8e8e"/>
<circle cx="157.81" cy="288.14" r="0.55" fill="#8e8e8e"/>
<circle cx="154.76" cy="292.83" r="0.55" fill="#8e8e8e"/>
<circle cx="145.56" cy="294.36" r="0.55" fill="#8e8e8e"/>
<circle cx="146.9" cy="296.52" r="0.55" fill="#8e8e8e"/>
<circle cx="162.92" cy="286.33" r="0.55" fill="#8e8e8e"/>
<circle cx="135.29" cy="304.05" r="0.55" fill="#8e8e8e"/>
<circle cx="146.39" cy="295.53" r="0.55" fill="#8e8e8e"/>
<circle cx="143.33" cy="298.05" r="0.55" fill="#8e8e8e"/>
<circle cx="133.87" cy="305.2" r="0.55" fill="#8e8e8e"/>
<circle cx="152.3" cy="291.83" r="0.55" fill="#8e8e8e"/>
<circle cx="153.11" cy="291.85" r="0.55" fill="#8e8e8e"/>
<circle cx="139.17" cy="301.21" r="0.55" fill="#8e8e8e"/>
<circle cx="159.94" cy="285.43" r="0.55" fill="#8e8e8e"/>
<circle cx="146.72" cy="297.3" r="0.55" fill="#8e8e8e"/>
<circle cx="140.99" cy="301.63" r="0.55" fill="#8e8e8e"/>
<circle cx="147.9" cy="296.04" r="0.55" fill="#8e8e8e"/>
<circle cx="157.36" cy="289.55" r="0.55" fill="#8e8e8e"/>
<circle cx="161.76" cy="285.41" r="0.55" fill="#8e8e8e"/>
<circle cx="137.68" cy="304.57" r="0.55" fill="#8e8e8e"/>
<circle cx="141.61" cy="299.33" r="0.55" fill="#8e8e8e"/>
<circle cx="159.28" cy="284.84" r="0.55" fill="#8e8e8e"/>
<circle cx="158.08" cy="286.63" r="0.55" fill="#8e8e8e"/>
<circle cx="131.19" cy="305.88" r="0.55" fill="#8e8e8e"/>
<circle cx="144.07" cy="295.18" r="0.55" fill="#8e8e8e"/>
<circle cx="131.2" cy="304.92" r="0.55" fill="#8e8e8e"/>
<circle cx="160.28" cy="285.84" r="0.55" fill="#8e8e8e"/>
<circle cx="160.84" cy="287.81" r="0.55" fill="#8e8e8e"/>
<circle cx="158.65" cy="288.6" r="0.55" fill="#8e8e8e"/>
<circle cx="143.13" cy="298.73" r="0.55" fill="#8e8e8e"/>
<circle cx="140.42" cy="299.16" r="0.55" fill="#8e8e8e"/>
<circle cx="133.16" cy="307.41" r="0.55" fill="#8e8e8e"/>
<circle cx="152.9" cy="292.94" r="0.55" fill="#8e8e8e"/>
<circle cx="162.67" cy="288.6" r="0.55" fill="#8e8e8e"/>
<circle cx="137.29" cy="301.13" r="0.55" fill="#8e8e8e"/>
<circle cx="137.28" cy="300.46" r="0.55" fill="#8e8e8e"/>
<circle cx="131.96" cy="305.79" r="0.55" fill="#8e8e8e"/>
<circle cx="141.94" cy="298.27" r="0.55" fill="#8e8e8e"/>
<circle cx="159.32" cy="289.08" r="0.55" fill="#8e8e8e"/>
<circle cx="154.04" cy="292.28" r="0.55" fill="#8e8e8e"/>
<circle cx="133.51" cy="304.98" r="0.55" fill="#8e8e8e"/>
<circle cx="136.31" cy="302.46" r="0.55" fill="#8e8e8e"/>
<circle cx="142.76" cy="297.98" r="0.55" fill="#8e8e8e"/>
<circle cx="159.14" cy="286.97" r="0.55" fill="#8e8e8e"/>
<circle cx="139.45" cy="300.62" r="0.55" fill="#8e8e8e"/>
<circle cx="131.03" cy="306.17" r="0.55" fill="#8e8e8e"/>
<circle cx="146.9" cy="295.53" r="0.55" fill="#8e8e8e"/>
<circle cx="138.16" cy="300.72" r="0.55" fill="#8e8e8e"/>
<circle cx="151.75" cy="292.61" r="0.55" fill="#8e8e8e"/>
<circle cx="143.44" cy="298.23" r="0.55" fill="#8e8e8e"/>
<circle cx="136.46" cy="301.34" r="0.55" fill="#8e8e8e"/>
<circle cx="140.49" cy="300.48" r="0.55" fill="#8e8e8e"/>
<circle cx="139.47" cy="300.35" r="0.55" fill="#8e8e8e"/>
<circle cx="160.5" cy="286" r="0.55" fill="#8e8e8e"/>
<circle cx="153.19" cy="291.62" r="0.55" fill="#8e8e8e"/>
<circle cx="154.74" cy="291.45" r="0.55" fill="#8e8e8e"/>
<circle cx="140.94" cy="300.26" r="0.55" fill="#8e8e8e"/>
<circle cx="144.23" cy="296.19" r="0.55" fill="#8e8e8e"/>
<circle cx="159.34" cy="288.73" r="0.55" fill="#8e8e8e"/>
<circle cx="153.12" cy="291.83" r="0.55" fill="#8e8e8e"/>
<circle cx="148.48" cy="296.27" r="0.55" fill="#8e8e8e"/>
<circle cx="138.08" cy="302.97" r="0.55" fill="#8e8e8e"/>
<circle cx="160.78" cy="286.04" r="0.55" fill="#8e8e8e"/>
<circle cx="136.97" cy="303.99" r="0.55" fill="#8e8e8e"/>
<circle cx="137.81" cy="301.53" r="0.55" fill="#8e8e8e"/>
<circle cx="147.24" cy="297.2" r="0.55" fill="#8e8e8e"/>
<circle cx="136.18" cy="302.99" r="0.55" fill="#8e8e8e"/>
<circle cx="158.62" cy="282.13" r="0.55" fill="#8e8e8e"/>
<circle cx="168.2" cy="282.06" r="0.55" fill="#8e8e8e"/>
<circle cx="175.22" cy="275.78" r="0.55" fill="#8e8e8e"/>
<circle cx="172.97" cy="279.37" r="0.55" fill="#8e8e8e"/>
<circle cx="178.63" cy="277.41" r="0.55" fill="#8e8e8e"/>
<circle cx="182.88" cy="276.67" r="0.55" fill="#8e8e8e"/>
<circle cx="174.34" cy="278.37" r="0.55" fill="#8e8e8e"/>
<circle cx="166.28" cy="281.66" r="0.55" fill="#8e8e8e"/>
<circle cx="175.58" cy="274.67" r="0.55" fill="#8e8e8e"/>
<circle cx="175.11" cy="278.55" r="0.55" fill="#8e8e8e"/>
<circle cx="176.28" cy="278.15" r="0.55" fill="#8e8e8e"/>
<circle cx="170.86" cy="281.05" r="0.55" fill="#8e8e8e"/>
<circle cx="164.02" cy="282.73" r="0.55" fill="#8e8e8e"/>
<circle cx="160.88" cy="282.69" r="0.55" fill="#8e8e8e"/>
<circle cx="173.65" cy="276.2" r="0.55" fill="#8e8e8e"/>
<circle cx="174.8" cy="274.31" r="0.55" fill="#8e8e8e"/>
<circle cx="172.96" cy="277.77" r="0.55" fill="#8e8e8e"/>
<circle cx="174.42" cy="273.39" r="0.55" fill="#8e8e8e"/>
<circle cx="162.95" cy="285.23" r="0.55" fill="#8e8e8e"/>
<circle cx="166.39" cy="283.37" r="0.55" fill="#8e8e8e"/>
<circle cx="176.54" cy="276" r="0.55" fill="#8e8e8e"/>
<circle cx="171.39" cy="277.79" r="0.55" fill="#8e8e8e"/>
<circle cx="167.91" cy="282.89" r="0.55" fill="#8e8e8e"/>
<circle cx="167.1" cy="284.28" r="0.55" fill="#8e8e8e"/>
<circle cx="165.78" cy="283.64" r="0.55" fill="#8e8e8e"/>
<circle cx="164.77" cy="282.21" r="0.55" fill="#8e8e8e"/>
<circle cx="172.66" cy="279.29" r="0.55" fill="#8e8e8e"/>
<circle cx="165.16" cy="284.06" r="0.55" fill="#8e8e8e"/>
<circle cx="194" cy="261" r="0.55" fill="#8e8e8e"/>
<circle cx="192.2" cy="263.7" r="0.55" fill="#8e8e8e"/>
<circle cx="232.9" cy="236.9" r="0.55" fill="#8e8e8e"/>
<circle cx="183.8" cy="267.8" r="0.55" fill="#8e8e8e"/>
<circle cx="181.4" cy="271.7" r="0.55" fill="#8e8e8e"/>
<circle cx="176.5" cy="273" r="0.55" fill="#8e8e8e"/>
<circle cx="166.8" cy="275.8" r="0.55" fill="#8e8e8e"/>
<circle cx="170" cy="281" r="0.55" fill="#8e8e8e"/>
<circle cx="177.7" cy="272.3" r="0.55" fill="#8e8e8e"/>
<circle cx="163" cy="279.5" r="0.55" fill="#8e8e8e"/>
<path d="M48.1 355 L55.6 341.7 L60.2 336 L67.7 333.1 L73.5 331.9 L78 337.7 L81.5 345.2 L74.6 349.8 L63 352.7 Z" fill="#cfcfcf"/>
<path d="M57 345 L61 338 L68 334.5 L74 334 L77 339 L79 344 L72 347.5 L63 349.5 Z" fill="#bdbdbd"/>
<line x1="40.4" y1="230.8" x2="40.4" y2="361.8" stroke="#000" stroke-width="1.05"/>
<line x1="40" y1="361.4" x2="242.7" y2="361.4" stroke="#000" stroke-width="1.05"/>
<line x1="37.7" y1="355.4" x2="40.4" y2="355.4" stroke="#111" stroke-width="0.9"/>
<text x="35.2" y="357.5" font-size="6" text-anchor="end" fill="#1a1a1a" stroke="#1a1a1a" stroke-width="0.15">0</text>
<line x1="49.4" y1="361.4" x2="49.4" y2="364.5" stroke="#111" stroke-width="0.9"/>
<text x="49.4" y="372.8" font-size="6" text-anchor="middle" fill="#1a1a1a" stroke="#1a1a1a" stroke-width="0.15">0</text>
<line x1="37.7" y1="317.9" x2="40.4" y2="317.9" stroke="#111" stroke-width="0.9"/>
<text x="35.2" y="320" font-size="6" text-anchor="end" fill="#1a1a1a" stroke="#1a1a1a" stroke-width="0.15">2</text>
<line x1="107.6" y1="361.4" x2="107.6" y2="364.5" stroke="#111" stroke-width="0.9"/>
<text x="107.6" y="372.8" font-size="6" text-anchor="middle" fill="#1a1a1a" stroke="#1a1a1a" stroke-width="0.15">2</text>
<line x1="37.7" y1="280.4" x2="40.4" y2="280.4" stroke="#111" stroke-width="0.9"/>
<text x="35.2" y="282.5" font-size="6" text-anchor="end" fill="#1a1a1a" stroke="#1a1a1a" stroke-width="0.15">4</text>
<line x1="165.8" y1="361.4" x2="165.8" y2="364.5" stroke="#111" stroke-width="0.9"/>
<text x="165.8" y="372.8" font-size="6" text-anchor="middle" fill="#1a1a1a" stroke="#1a1a1a" stroke-width="0.15">4</text>
<line x1="37.7" y1="242.9" x2="40.4" y2="242.9" stroke="#111" stroke-width="0.9"/>
<text x="35.2" y="245" font-size="6" text-anchor="end" fill="#1a1a1a" stroke="#1a1a1a" stroke-width="0.15">6</text>
<line x1="224" y1="361.4" x2="224" y2="364.5" stroke="#111" stroke-width="0.9"/>
<text x="224" y="372.8" font-size="6" text-anchor="middle" fill="#1a1a1a" stroke="#1a1a1a" stroke-width="0.15">6</text>
<text x="141.5" y="384.3" font-size="8" text-anchor="middle" fill="#1a1a1a" stroke="#1a1a1a" stroke-width="0.4" textLength="61.4" lengthAdjust="spacingAndGlyphs">Unstimulated expression</text>
<text x="26.4" y="296.6" font-size="8" text-anchor="middle" fill="#1a1a1a" stroke="#1a1a1a" stroke-width="0.4" transform="rotate(-89.9 26.4 296.6)" textLength="66.3" lengthAdjust="spacingAndGlyphs">IL-2 stimulated expression</text>
<line x1="49.5" y1="275.8" x2="61.9" y2="323.4" stroke="#222" stroke-width="0.7"/>
<line x1="55.5" y1="283.2" x2="65.2" y2="322.9" stroke="#222" stroke-width="0.7"/>
<line x1="62.7" y1="290.8" x2="68.8" y2="327.9" stroke="#222" stroke-width="0.7"/>
<line x1="67.5" y1="296.2" x2="70.6" y2="326.2" stroke="#222" stroke-width="0.7"/>
<line x1="73.5" y1="301.2" x2="72.7" y2="325.8" stroke="#222" stroke-width="0.7"/>
<line x1="75.8" y1="308.8" x2="71.7" y2="330" stroke="#222" stroke-width="0.7"/>
<line x1="82.5" y1="314.2" x2="80.4" y2="319" stroke="#222" stroke-width="0.7"/>
<line x1="46" y1="299.2" x2="60.5" y2="327.9" stroke="#222" stroke-width="0.7"/>
<line x1="47.2" y1="317.8" x2="60.4" y2="331.7" stroke="#222" stroke-width="0.7"/>
<line x1="93.5" y1="283" x2="88.6" y2="320.2" stroke="#222" stroke-width="0.7"/>
<line x1="85.5" y1="291" x2="89.3" y2="304.9" stroke="#222" stroke-width="0.7"/>
<line x1="108" y1="280.8" x2="96.2" y2="301.2" stroke="#222" stroke-width="0.7"/>
<line x1="116.5" y1="289.2" x2="107.3" y2="297.4" stroke="#222" stroke-width="0.7"/>
<line x1="134.2" y1="286.5" x2="116.2" y2="295.8" stroke="#222" stroke-width="0.7"/>
<line x1="132" y1="293" x2="118" y2="300.8" stroke="#222" stroke-width="0.7"/>
<line x1="102.7" y1="307" x2="102.7" y2="310" stroke="#222" stroke-width="0.7"/>
<line x1="121" y1="302" x2="72" y2="330.5" stroke="#222" stroke-width="0.7"/>
<line x1="127" y1="307.5" x2="72.5" y2="331" stroke="#222" stroke-width="0.7"/>
<line x1="118" y1="313" x2="84.7" y2="320.7" stroke="#222" stroke-width="0.7"/>
<line x1="136" y1="315" x2="123.5" y2="317.3" stroke="#222" stroke-width="0.7"/>
<line x1="99" y1="320" x2="82.8" y2="323.8" stroke="#222" stroke-width="0.7"/>
<line x1="131" y1="323.8" x2="72" y2="330" stroke="#222" stroke-width="0.7"/>
<line x1="154" y1="329" x2="106" y2="329.6" stroke="#222" stroke-width="0.7"/>
<line x1="136" y1="332.8" x2="73" y2="331.5" stroke="#222" stroke-width="0.7"/>
<line x1="106" y1="337.5" x2="99.3" y2="334.2" stroke="#222" stroke-width="0.7"/>
<line x1="144" y1="338.5" x2="73.5" y2="332.5" stroke="#222" stroke-width="0.7"/>
<line x1="124" y1="343.8" x2="88" y2="344.2" stroke="#222" stroke-width="0.7"/>
<line x1="137" y1="350" x2="86.5" y2="343.5" stroke="#222" stroke-width="0.7"/>
<line x1="100" y1="354" x2="86" y2="344" stroke="#222" stroke-width="0.7"/>
<line x1="118" y1="355.5" x2="87" y2="343.5" stroke="#222" stroke-width="0.7"/>
<line x1="85.3" y1="353.5" x2="73.8" y2="331.9" stroke="#222" stroke-width="0.7"/>
<line x1="70.3" y1="354.2" x2="58.2" y2="336.5" stroke="#222" stroke-width="0.7"/>
<line x1="57.8" y1="348" x2="57.8" y2="338" stroke="#222" stroke-width="0.7"/>
<line x1="46.7" y1="353.3" x2="55.3" y2="342.3" stroke="#222" stroke-width="0.7"/>
<line x1="48" y1="346.5" x2="56.5" y2="339.5" stroke="#222" stroke-width="0.7"/>
<line x1="40.5" y1="341" x2="52" y2="339.4" stroke="#222" stroke-width="0.7"/>
<line x1="51" y1="335" x2="60" y2="338" stroke="#222" stroke-width="0.7"/>
<line x1="51" y1="329.5" x2="70.9" y2="329.5" stroke="#222" stroke-width="0.7"/>
<line x1="80.5" y1="329.5" x2="72.5" y2="330" stroke="#222" stroke-width="0.7"/>
<line x1="79" y1="337.5" x2="72" y2="332" stroke="#222" stroke-width="0.7"/>
<circle cx="61.9" cy="323.4" r="0.8" fill="#c0182e"/>
<circle cx="65.2" cy="322.9" r="0.8" fill="#c0182e"/>
<circle cx="60.5" cy="327.9" r="0.8" fill="#c0182e"/>
<circle cx="68.8" cy="327.9" r="0.8" fill="#c0182e"/>
<circle cx="70.6" cy="326.2" r="0.8" fill="#c0182e"/>
<circle cx="72.7" cy="325.8" r="0.8" fill="#c0182e"/>
<circle cx="71.25" cy="329.3" r="0.8" fill="#c0182e"/>
<circle cx="71.7" cy="330.6" r="0.8" fill="#c0182e"/>
<circle cx="80.4" cy="319" r="0.8" fill="#c0182e"/>
<circle cx="84.7" cy="320.7" r="0.8" fill="#c0182e"/>
<circle cx="88.6" cy="320.2" r="0.8" fill="#c0182e"/>
<circle cx="80.9" cy="325.5" r="0.8" fill="#c0182e"/>
<circle cx="82.8" cy="323.8" r="0.8" fill="#c0182e"/>
<circle cx="60.4" cy="331.7" r="0.8" fill="#c0182e"/>
<circle cx="56.5" cy="334.4" r="0.8" fill="#c0182e"/>
<circle cx="62.6" cy="336.3" r="0.8" fill="#c0182e"/>
<circle cx="57.3" cy="337.7" r="0.8" fill="#c0182e"/>
<circle cx="52" cy="339.4" r="0.8" fill="#c0182e"/>
<circle cx="89.3" cy="304.9" r="0.8" fill="#c0182e"/>
<circle cx="96.2" cy="301.2" r="0.8" fill="#c0182e"/>
<circle cx="107.3" cy="297.4" r="0.8" fill="#c0182e"/>
<circle cx="116.2" cy="295.8" r="0.8" fill="#c0182e"/>
<circle cx="118" cy="300.8" r="0.8" fill="#c0182e"/>
<circle cx="102.7" cy="310" r="0.8" fill="#c0182e"/>
<circle cx="123.5" cy="317.3" r="0.8" fill="#c0182e"/>
<circle cx="106" cy="329.6" r="0.8" fill="#c0182e"/>
<circle cx="99.3" cy="334.2" r="0.8" fill="#c0182e"/>
<circle cx="95.8" cy="340.1" r="0.8" fill="#c0182e"/>
<circle cx="80.4" cy="344.6" r="0.8" fill="#c0182e"/>
<circle cx="82.7" cy="344.4" r="0.8" fill="#c0182e"/>
<circle cx="86.7" cy="343.5" r="0.8" fill="#c0182e"/>
<circle cx="53.8" cy="342.3" r="0.8" fill="#c0182e"/>
<circle cx="55.6" cy="341.2" r="0.8" fill="#c0182e"/>
<circle cx="58.2" cy="337.5" r="0.8" fill="#c0182e"/>
<circle cx="55.9" cy="334" r="0.8" fill="#c0182e"/>
<circle cx="60.8" cy="327.3" r="0.8" fill="#c0182e"/>
<circle cx="73" cy="331.5" r="0.8" fill="#c0182e"/>
<circle cx="70" cy="331" r="0.8" fill="#c0182e"/>
<text x="46.2" y="273.5" font-size="5.65" text-anchor="start" fill="#2a2a2a" stroke="#2a2a2a" stroke-width="0.15" font-style="italic">MIR155HG</text>
<text x="51.9" y="281.2" font-size="5.65" text-anchor="start" fill="#2a2a2a" stroke="#2a2a2a" stroke-width="0.15" font-style="italic">CCND2</text>
<text x="58.5" y="288.8" font-size="5.65" text-anchor="start" fill="#2a2a2a" stroke="#2a2a2a" stroke-width="0.15" font-style="italic">IFNG</text>
<text x="63.8" y="294.2" font-size="5.65" text-anchor="start" fill="#2a2a2a" stroke="#2a2a2a" stroke-width="0.15" font-style="italic">LCP2</text>
<text x="71.2" y="299.2" font-size="5.65" text-anchor="start" fill="#2a2a2a" stroke="#2a2a2a" stroke-width="0.15" font-style="italic">PRF1</text>
<text x="73.9" y="306.9" font-size="5.65" text-anchor="start" fill="#2a2a2a" stroke="#2a2a2a" stroke-width="0.15" font-style="italic">IER3</text>
<text x="77" y="312.3" font-size="5.65" text-anchor="start" fill="#2a2a2a" stroke="#2a2a2a" stroke-width="0.15" font-style="italic">KLF6</text>
<text x="29.6" y="296.9" font-size="5.65" text-anchor="start" fill="#2a2a2a" stroke="#2a2a2a" stroke-width="0.15" font-style="italic">SOCS1</text>
<text x="39.6" y="316.1" font-size="5.65" text-anchor="start" fill="#2a2a2a" stroke="#2a2a2a" stroke-width="0.15" font-style="italic">CDK6</text>
<text x="83.5" y="280.8" font-size="5.65" text-anchor="start" fill="#2a2a2a" stroke="#2a2a2a" stroke-width="0.15" font-style="italic">CD69</text>
<text x="81.2" y="288.9" font-size="5.65" text-anchor="start" fill="#2a2a2a" stroke="#2a2a2a" stroke-width="0.15" font-style="italic">LTB</text>
<text x="101.9" y="278.2" font-size="5.65" text-anchor="start" fill="#2a2a2a" stroke="#2a2a2a" stroke-width="0.15" font-style="italic">GZMB</text>
<text x="111.9" y="287.4" font-size="5.65" text-anchor="start" fill="#2a2a2a" stroke="#2a2a2a" stroke-width="0.15" font-style="italic">ACTB</text>
<text x="134.7" y="284.6" font-size="5.65" text-anchor="start" fill="#2a2a2a" stroke="#2a2a2a" stroke-width="0.15" font-style="italic">CCL4</text>
<text x="132.7" y="294.2" font-size="5.65" text-anchor="start" fill="#2a2a2a" stroke="#2a2a2a" stroke-width="0.15" font-style="italic">PFN1</text>
<text x="97.8" y="305.4" font-size="5.65" text-anchor="start" fill="#2a2a2a" stroke="#2a2a2a" stroke-width="0.15" font-style="italic">CCL3</text>
<text x="121.9" y="303" font-size="5.65" text-anchor="start" fill="#2a2a2a" stroke="#2a2a2a" stroke-width="0.15" font-style="italic">S100A11</text>
<text x="128" y="308.9" font-size="5.65" text-anchor="start" fill="#2a2a2a" stroke="#2a2a2a" stroke-width="0.15" font-style="italic">IL2RB</text>
<text x="118.8" y="314.6" font-size="5.65" text-anchor="start" fill="#2a2a2a" stroke="#2a2a2a" stroke-width="0.15" font-style="italic">CBX3</text>
<text x="136.8" y="316.6" font-size="5.65" text-anchor="start" fill="#2a2a2a" stroke="#2a2a2a" stroke-width="0.15" font-style="italic">CMC1</text>
<text x="99.6" y="321.9" font-size="5.65" text-anchor="start" fill="#2a2a2a" stroke="#2a2a2a" stroke-width="0.15" font-style="italic">BHLHE40</text>
<text x="132.2" y="325" font-size="5.65" text-anchor="start" fill="#2a2a2a" stroke="#2a2a2a" stroke-width="0.15" font-style="italic">FLOT1</text>
<text x="155.8" y="330.4" font-size="5.65" text-anchor="start" fill="#2a2a2a" stroke="#2a2a2a" stroke-width="0.15" font-style="italic">ZFP36L2</text>
<text x="137.3" y="334.2" font-size="5.65" text-anchor="start" fill="#2a2a2a" stroke="#2a2a2a" stroke-width="0.15" font-style="italic">TCF7</text>
<text x="107" y="339.2" font-size="5.65" text-anchor="start" fill="#2a2a2a" stroke="#2a2a2a" stroke-width="0.15" font-style="italic">CYCS</text>
<text x="145" y="340.1" font-size="5.65" text-anchor="start" fill="#2a2a2a" stroke="#2a2a2a" stroke-width="0.15" font-style="italic">CXCR4</text>
<text x="125.5" y="345.3" font-size="5.65" text-anchor="start" fill="#2a2a2a" stroke="#2a2a2a" stroke-width="0.15" font-style="italic">IL7R</text>
<text x="138.8" y="351.9" font-size="5.65" text-anchor="start" fill="#2a2a2a" stroke="#2a2a2a" stroke-width="0.15" font-style="italic">AHI1</text>
<text x="100.4" y="356.1" font-size="5.65" text-anchor="start" fill="#2a2a2a" stroke="#2a2a2a" stroke-width="0.15" font-style="italic">ATM</text>
<text x="118.8" y="357.3" font-size="5.65" text-anchor="start" fill="#2a2a2a" stroke="#2a2a2a" stroke-width="0.15" font-style="italic">CLEC2D</text>
<text x="84.2" y="359.6" font-size="5.65" text-anchor="start" fill="#2a2a2a" stroke="#2a2a2a" stroke-width="0.15" font-style="italic">PRKX</text>
<text x="61.9" y="359.6" font-size="5.65" text-anchor="start" fill="#2a2a2a" stroke="#2a2a2a" stroke-width="0.15" font-style="italic">DDAH2</text>
<text x="52.7" y="353.5" font-size="5.65" text-anchor="start" fill="#2a2a2a" stroke="#2a2a2a" stroke-width="0.15" font-style="italic">IL2RA</text>
<text x="42.2" y="359.6" font-size="5.65" text-anchor="start" fill="#2a2a2a" stroke="#2a2a2a" stroke-width="0.15" font-style="italic">IFI44L</text>
<text x="29.9" y="349.6" font-size="5.65" text-anchor="start" fill="#2a2a2a" stroke="#2a2a2a" stroke-width="0.15" font-style="italic">FLT3LG</text>
<text x="32.4" y="342.7" font-size="5.65" text-anchor="start" fill="#2a2a2a" stroke="#2a2a2a" stroke-width="0.15" font-style="italic">LTA</text>
<text x="29.3" y="336.5" font-size="5.65" text-anchor="start" fill="#2a2a2a" stroke="#2a2a2a" stroke-width="0.15" font-style="italic">PTGER2</text>
<text x="26.5" y="330.4" font-size="5.65" text-anchor="start" fill="#2a2a2a" stroke="#2a2a2a" stroke-width="0.15" font-style="italic">TNFSF10</text>
<text x="58" y="335" font-size="5.65" text-anchor="start" fill="#2a2a2a" stroke="#2a2a2a" stroke-width="0.15" font-style="italic">PHLDA1</text>
<text x="81.2" y="330.8" font-size="5.65" text-anchor="start" fill="#2a2a2a" stroke="#2a2a2a" stroke-width="0.15" font-style="italic">ARPC5L</text>
<text x="79.6" y="339.2" font-size="5.65" text-anchor="start" fill="#2a2a2a" stroke="#2a2a2a" stroke-width="0.15" font-style="italic">GZMH</text>
<text x="62" y="346.5" font-size="5.65" text-anchor="start" fill="#2a2a2a" stroke="#2a2a2a" stroke-width="0.15" font-style="italic">SNX10</text>
<text x="251.6" y="213.2" font-size="11" text-anchor="start" fill="#000" stroke="#000" stroke-width="0.35" font-weight="bold">C</text>
<rect x="387" y="255.1" width="83" height="2.8" fill="#1e3d78"/>
<rect x="478.8" y="255.1" width="16.4" height="2.8" fill="#1e3d78"/>
<line x1="383.6" y1="256.5" x2="386.7" y2="256.5" stroke="#111" stroke-width="0.85"/>
<text x="381" y="258.65" font-size="5.95" text-anchor="end" fill="#1a1a1a" stroke="#1a1a1a" stroke-width="0.15">protein targeting to ER</text>
<rect x="387" y="261.82" width="83" height="2.8" fill="#1e3d78"/>
<rect x="478.8" y="261.82" width="8.1" height="2.8" fill="#1e3d78"/>
<line x1="383.6" y1="263.22" x2="386.7" y2="263.22" stroke="#111" stroke-width="0.85"/>
<text x="381" y="265.37" font-size="5.95" text-anchor="end" fill="#1a1a1a" stroke="#1a1a1a" stroke-width="0.15">mRNA catabolic process</text>
<rect x="387" y="268.54" width="83" height="2.8" fill="#1e3d78"/>
<rect x="478.8" y="268.54" width="1.5" height="2.8" fill="#1e3d78"/>
<line x1="383.6" y1="269.94" x2="386.7" y2="269.94" stroke="#111" stroke-width="0.85"/>
<text x="381" y="272.09" font-size="5.95" text-anchor="end" fill="#1a1a1a" stroke="#1a1a1a" stroke-width="0.15">translation</text>
<rect x="387" y="275.26" width="83" height="2.8" fill="#1e3d78"/>
<rect x="478.8" y="275.26" width="0.8" height="2.8" fill="#b0bcd4"/>
<line x1="383.6" y1="276.66" x2="386.7" y2="276.66" stroke="#111" stroke-width="0.85"/>
<text x="381" y="278.81" font-size="5.95" text-anchor="end" fill="#1a1a1a" stroke="#1a1a1a" stroke-width="0.15">peptide biosynthetic process</text>
<rect x="387" y="281.98" width="73.8" height="2.8" fill="#1e3d78"/>
<line x1="383.6" y1="283.38" x2="386.7" y2="283.38" stroke="#111" stroke-width="0.85"/>
<text x="381" y="285.53" font-size="5.95" text-anchor="end" fill="#1a1a1a" stroke="#1a1a1a" stroke-width="0.15">gene expression</text>
<rect x="387" y="288.7" width="51.7" height="2.8" fill="#1e3d78"/>
<line x1="383.6" y1="290.1" x2="386.7" y2="290.1" stroke="#111" stroke-width="0.85"/>
<text x="381" y="292.25" font-size="5.95" text-anchor="end" fill="#1a1a1a" stroke="#1a1a1a" stroke-width="0.15">ribosome biogenesis</text>
<rect x="387" y="295.42" width="5" height="2.8" fill="#1e3d78"/>
<line x1="383.6" y1="296.82" x2="386.7" y2="296.82" stroke="#111" stroke-width="0.85"/>
<text x="381" y="298.97" font-size="5.95" text-anchor="end" fill="#1a1a1a" stroke="#1a1a1a" stroke-width="0.15">response to cytokine</text>
<rect x="387" y="302.14" width="4" height="2.8" fill="#1e3d78"/>
<line x1="383.6" y1="303.54" x2="386.7" y2="303.54" stroke="#111" stroke-width="0.85"/>
<text x="381" y="305.69" font-size="5.95" text-anchor="end" fill="#1a1a1a" stroke="#1a1a1a" stroke-width="0.15">cytokine-mediated signaling pathway</text>
<rect x="387" y="308.86" width="3.8" height="2.8" fill="#1e3d78"/>
<line x1="383.6" y1="310.26" x2="386.7" y2="310.26" stroke="#111" stroke-width="0.85"/>
<text x="381" y="312.41" font-size="5.95" text-anchor="end" fill="#1a1a1a" stroke="#1a1a1a" stroke-width="0.15">leukocyte chemotaxis</text>
<rect x="387" y="315.58" width="3.1" height="2.8" fill="#1e3d78"/>
<line x1="383.6" y1="316.98" x2="386.7" y2="316.98" stroke="#111" stroke-width="0.85"/>
<text x="381" y="319.13" font-size="5.95" text-anchor="end" fill="#1a1a1a" stroke="#1a1a1a" stroke-width="0.15">lymphocyte migration</text>
<rect x="387" y="322.3" width="3.1" height="2.8" fill="#1e3d78"/>
<line x1="383.6" y1="323.7" x2="386.7" y2="323.7" stroke="#111" stroke-width="0.85"/>
<text x="381" y="325.85" font-size="5.95" text-anchor="end" fill="#1a1a1a" stroke="#1a1a1a" stroke-width="0.15">regulation of ERK1 and ERK2 cascade</text>
<rect x="387" y="329.02" width="2.9" height="2.8" fill="#b0102e"/>
<line x1="383.6" y1="330.42" x2="386.7" y2="330.42" stroke="#111" stroke-width="0.85"/>
<text x="381" y="332.57" font-size="5.95" text-anchor="end" fill="#1a1a1a" stroke="#1a1a1a" stroke-width="0.15">chemokine-mediated signaling pathway</text>
<rect x="387" y="335.74" width="3.4" height="2.8" fill="#b0102e"/>
<line x1="383.6" y1="337.14" x2="386.7" y2="337.14" stroke="#111" stroke-width="0.85"/>
<text x="381" y="339.29" font-size="5.95" text-anchor="end" fill="#1a1a1a" stroke="#1a1a1a" stroke-width="0.15">defense response</text>
<rect x="387" y="342.46" width="5.6" height="2.8" fill="#b0102e"/>
<line x1="383.6" y1="343.86" x2="386.7" y2="343.86" stroke="#111" stroke-width="0.85"/>
<text x="381" y="346.01" font-size="5.95" text-anchor="end" fill="#1a1a1a" stroke="#1a1a1a" stroke-width="0.15">cytolysis</text>
<rect x="387" y="349.18" width="5.9" height="2.8" fill="#b0102e"/>
<line x1="383.6" y1="350.58" x2="386.7" y2="350.58" stroke="#111" stroke-width="0.85"/>
<text x="381" y="352.73" font-size="5.95" text-anchor="end" fill="#1a1a1a" stroke="#1a1a1a" stroke-width="0.15">positive regulation of natural killer cell chemotaxis</text>
<rect x="387" y="355.9" width="5.9" height="2.8" fill="#b0102e"/>
<line x1="383.6" y1="357.3" x2="386.7" y2="357.3" stroke="#111" stroke-width="0.85"/>
<text x="381" y="359.45" font-size="5.95" text-anchor="end" fill="#1a1a1a" stroke="#1a1a1a" stroke-width="0.15">granzyme-mediated apoptotic signaling pathway</text>
<line x1="386.7" y1="252.3" x2="386.7" y2="361.8" stroke="#000" stroke-width="1.05"/>
<line x1="386.3" y1="361.4" x2="471" y2="361.4" stroke="#000" stroke-width="1.05"/>
<line x1="477.5" y1="361.4" x2="513" y2="361.4" stroke="#000" stroke-width="1.05"/>
<line x1="468.2" y1="363.6" x2="472.2" y2="359.3" stroke="#000" stroke-width="1"/>
<line x1="476.2" y1="363.6" x2="480.3" y2="359.3" stroke="#000" stroke-width="1"/>
<line x1="386.6" y1="361.4" x2="386.6" y2="364.4" stroke="#111" stroke-width="0.9"/>
<text x="386.6" y="372.6" font-size="6" text-anchor="middle" fill="#1a1a1a" stroke="#1a1a1a" stroke-width="0.15">0</text>
<line x1="414.4" y1="361.4" x2="414.4" y2="364.4" stroke="#111" stroke-width="0.9"/>
<text x="414.4" y="372.6" font-size="6" text-anchor="middle" fill="#1a1a1a" stroke="#1a1a1a" stroke-width="0.15">10</text>
<line x1="442.2" y1="361.4" x2="442.2" y2="364.4" stroke="#111" stroke-width="0.9"/>
<text x="442.2" y="372.6" font-size="6" text-anchor="middle" fill="#1a1a1a" stroke="#1a1a1a" stroke-width="0.15">20</text>
<text x="469.6" y="372.6" font-size="6" text-anchor="middle" fill="#1a1a1a" stroke="#1a1a1a" stroke-width="0.15">30</text>
<text x="477.8" y="372.6" font-size="6" text-anchor="middle" fill="#1a1a1a" stroke="#1a1a1a" stroke-width="0.15">50</text>
<line x1="486.3" y1="361.4" x2="486.3" y2="364.4" stroke="#111" stroke-width="0.9"/>
<text x="486.3" y="372.6" font-size="6" text-anchor="middle" fill="#1a1a1a" stroke="#1a1a1a" stroke-width="0.15">60</text>
<line x1="495.1" y1="361.4" x2="495.1" y2="364.4" stroke="#111" stroke-width="0.9"/>
<text x="495.1" y="372.6" font-size="6" text-anchor="middle" fill="#1a1a1a" stroke="#1a1a1a" stroke-width="0.15">70</text>
<line x1="503.8" y1="361.4" x2="503.8" y2="364.4" stroke="#111" stroke-width="0.9"/>
<text x="503.8" y="372.6" font-size="6" text-anchor="middle" fill="#1a1a1a" stroke="#1a1a1a" stroke-width="0.15">80</text>
<text x="446.4" y="384.5" font-size="8" text-anchor="middle" fill="#1a1a1a" stroke="#1a1a1a" stroke-width="0.4" textLength="37.9" lengthAdjust="spacingAndGlyphs">-log10(p-value)</text>
<rect x="460.8" y="321.9" width="8.3" height="3.2" fill="#1e3d78"/>
<rect x="460.8" y="331" width="8.3" height="3.8" fill="#b0102e"/>
<text x="471.6" y="325.4" font-size="5.95" text-anchor="start" fill="#1a1a1a" stroke="#1a1a1a" stroke-width="0.15">up-regulated</text>
<text x="471.6" y="334.9" font-size="5.95" text-anchor="start" fill="#1a1a1a" stroke="#1a1a1a" stroke-width="0.15">down-regulated</text>
<text x="8.6" y="404.7" font-size="11" text-anchor="start" fill="#000" stroke="#000" stroke-width="0.35" font-weight="bold">D</text>
<line x1="40.4" y1="410.3" x2="40.4" y2="527.9" stroke="#000" stroke-width="1.05"/>
<line x1="40" y1="527.5" x2="161" y2="527.5" stroke="#000" stroke-width="1.05"/>
<line x1="37.6" y1="439.7" x2="40.4" y2="439.7" stroke="#111" stroke-width="0.9"/>
<text x="35.2" y="441.8" font-size="6" text-anchor="end" fill="#1a1a1a" stroke="#1a1a1a" stroke-width="0.15">0.2</text>
<line x1="37.6" y1="473.3" x2="40.4" y2="473.3" stroke="#111" stroke-width="0.9"/>
<text x="35.2" y="475.4" font-size="6" text-anchor="end" fill="#1a1a1a" stroke="#1a1a1a" stroke-width="0.15">0.0</text>
<line x1="37.6" y1="506.8" x2="40.4" y2="506.8" stroke="#111" stroke-width="0.9"/>
<text x="35.2" y="508.9" font-size="6" text-anchor="end" fill="#1a1a1a" stroke="#1a1a1a" stroke-width="0.15">−0.2</text>
<line x1="50.9" y1="527.5" x2="50.9" y2="530.5" stroke="#111" stroke-width="0.9"/>
<line x1="67.9" y1="527.5" x2="67.9" y2="530.5" stroke="#111" stroke-width="0.9"/>
<line x1="85.2" y1="527.5" x2="85.2" y2="530.5" stroke="#111" stroke-width="0.9"/>
<line x1="102.6" y1="527.5" x2="102.6" y2="530.5" stroke="#111" stroke-width="0.9"/>
<line x1="119.5" y1="527.5" x2="119.5" y2="530.5" stroke="#111" stroke-width="0.9"/>
<line x1="136.8" y1="527.5" x2="136.8" y2="530.5" stroke="#111" stroke-width="0.9"/>
<line x1="154.1" y1="527.5" x2="154.1" y2="530.5" stroke="#111" stroke-width="0.9"/>
<text x="0" y="0" font-size="6.2" text-anchor="end" fill="#1a1a1a" stroke="#1a1a1a" stroke-width="0.15" transform="translate(53.2 532.7) rotate(-89.9) scale(1 1.2)">Cluster0</text>
<text x="0" y="0" font-size="6.2" text-anchor="end" fill="#1a1a1a" stroke="#1a1a1a" stroke-width="0.15" transform="translate(70.2 532.7) rotate(-89.9) scale(1 1.2)">Cluster1</text>
<text x="0" y="0" font-size="6.2" text-anchor="end" fill="#1a1a1a" stroke="#1a1a1a" stroke-width="0.15" transform="translate(87.5 532.7) rotate(-89.9) scale(1 1.2)">Cluster2</text>
<text x="0" y="0" font-size="6.2" text-anchor="end" fill="#1a1a1a" stroke="#1a1a1a" stroke-width="0.15" transform="translate(104.9 532.7) rotate(-89.9) scale(1 1.2)">Cluster3</text>
<text x="0" y="0" font-size="6.2" text-anchor="end" fill="#1a1a1a" stroke="#1a1a1a" stroke-width="0.15" transform="translate(121.8 532.7) rotate(-89.9) scale(1 1.2)">Cluster4</text>
<text x="0" y="0" font-size="6.2" text-anchor="end" fill="#1a1a1a" stroke="#1a1a1a" stroke-width="0.15" transform="translate(139.1 532.7) rotate(-89.9) scale(1 1.2)">Cluster6</text>
<text x="0" y="0" font-size="6.2" text-anchor="end" fill="#1a1a1a" stroke="#1a1a1a" stroke-width="0.15" transform="translate(156.4 532.7) rotate(-89.9) scale(1 1.2)">Cluster8</text>
<line x1="50.9" y1="416.2" x2="50.9" y2="501" stroke="#2a2a2a" stroke-width="0.65"/>
<path d="M51.2 436.5 L51.33 437.12 L51.47 437.74 L51.63 438.35 L51.79 438.97 L51.97 439.59 L52.15 440.21 L52.35 440.83 L52.55 441.44 L52.76 442.06 L52.99 442.68 L53.26 443.3 L53.55 443.92 L53.85 444.53 L54.16 445.15 L54.47 445.77 L54.77 446.39 L55.05 447.01 L55.31 447.62 L55.55 448.24 L55.75 448.86 L55.94 449.48 L56.13 450.1 L56.31 450.71 L56.48 451.33 L56.64 451.95 L56.79 452.57 L56.94 453.19 L57.07 453.8 L57.2 454.42 L57.33 455.04 L57.45 455.66 L57.58 456.28 L57.71 456.89 L57.84 457.51 L57.96 458.13 L58.08 458.75 L58.19 459.37 L58.29 459.98 L58.37 460.6 L58.43 461.22 L58.48 461.84 L58.5 462.46 L58.49 463.07 L58.46 463.69 L58.41 464.31 L58.33 464.93 L58.23 465.54 L58.12 466.16 L58 466.78 L57.87 467.4 L57.74 468.02 L57.61 468.63 L57.49 469.25 L57.36 469.87 L57.22 470.49 L57.07 471.11 L56.91 471.72 L56.74 472.34 L56.56 472.96 L56.37 473.58 L56.19 474.2 L55.99 474.81 L55.8 475.43 L55.6 476.05 L55.41 476.67 L55.21 477.29 L55 477.9 L54.77 478.52 L54.54 479.14 L54.3 479.76 L54.06 480.38 L53.83 480.99 L53.6 481.61 L53.38 482.23 L53.17 482.85 L52.98 483.47 L52.8 484.08 L52.63 484.7 L52.46 485.32 L52.31 485.94 L52.15 486.56 L52.01 487.17 L51.87 487.79 L51.74 488.41 L51.62 489.03 L51.5 489.65 L51.39 490.26 L51.29 490.88 L51.2 491.5 L50.6 491.5 L50.51 490.88 L50.41 490.26 L50.3 489.65 L50.18 489.03 L50.06 488.41 L49.93 487.79 L49.79 487.17 L49.65 486.56 L49.49 485.94 L49.34 485.32 L49.17 484.7 L49 484.08 L48.82 483.47 L48.63 482.85 L48.42 482.23 L48.2 481.61 L47.97 480.99 L47.74 480.38 L47.5 479.76 L47.26 479.14 L47.03 478.52 L46.8 477.9 L46.59 477.29 L46.39 476.67 L46.2 476.05 L46 475.43 L45.81 474.81 L45.61 474.2 L45.43 473.58 L45.24 472.96 L45.06 472.34 L44.89 471.72 L44.73 471.11 L44.58 470.49 L44.44 469.87 L44.31 469.25 L44.19 468.63 L44.06 468.02 L43.93 467.4 L43.8 466.78 L43.68 466.16 L43.57 465.54 L43.47 464.93 L43.39 464.31 L43.34 463.69 L43.31 463.07 L43.3 462.46 L43.32 461.84 L43.37 461.22 L43.43 460.6 L43.51 459.98 L43.61 459.37 L43.72 458.75 L43.84 458.13 L43.96 457.51 L44.09 456.89 L44.22 456.28 L44.35 455.66 L44.47 455.04 L44.6 454.42 L44.73 453.8 L44.86 453.19 L45.01 452.57 L45.16 451.95 L45.32 451.33 L45.49 450.71 L45.67 450.1 L45.86 449.48 L46.05 448.86 L46.25 448.24 L46.49 447.62 L46.75 447.01 L47.03 446.39 L47.33 445.77 L47.64 445.15 L47.95 444.53 L48.25 443.92 L48.54 443.3 L48.81 442.68 L49.04 442.06 L49.25 441.44 L49.45 440.83 L49.65 440.21 L49.83 439.59 L50.01 438.97 L50.17 438.35 L50.33 437.74 L50.47 437.12 L50.6 436.5 Z" fill="#e07672" stroke="#222" stroke-width="0.55" stroke-linejoin="round"/>
<line x1="50.9" y1="455.5" x2="50.9" y2="470.7" stroke="#000" stroke-width="1.2"/>
<circle cx="50.9" cy="463.2" r="1.6" fill="#000"/>
<line x1="67.9" y1="421" x2="67.9" y2="512.7" stroke="#2a2a2a" stroke-width="0.65"/>
<path d="M68.2 438.9 L68.39 439.62 L68.58 440.34 L68.78 441.06 L68.98 441.78 L69.18 442.5 L69.39 443.22 L69.6 443.94 L69.81 444.66 L70.03 445.38 L70.25 446.1 L70.48 446.82 L70.71 447.54 L70.96 448.26 L71.21 448.98 L71.48 449.7 L71.75 450.42 L72.01 451.14 L72.27 451.86 L72.51 452.58 L72.74 453.3 L72.95 454.02 L73.15 454.74 L73.34 455.47 L73.53 456.19 L73.71 456.91 L73.9 457.63 L74.07 458.35 L74.24 459.07 L74.39 459.79 L74.53 460.51 L74.66 461.23 L74.77 461.95 L74.86 462.67 L74.94 463.39 L75.01 464.11 L75.09 464.83 L75.16 465.55 L75.22 466.27 L75.28 466.99 L75.34 467.71 L75.39 468.43 L75.43 469.15 L75.46 469.87 L75.48 470.59 L75.5 471.31 L75.5 472.03 L75.48 472.75 L75.43 473.47 L75.36 474.19 L75.28 474.91 L75.17 475.63 L75.05 476.35 L74.92 477.07 L74.78 477.79 L74.64 478.51 L74.49 479.23 L74.34 479.95 L74.18 480.67 L74.01 481.39 L73.81 482.11 L73.57 482.83 L73.32 483.55 L73.05 484.27 L72.77 484.99 L72.49 485.71 L72.22 486.43 L71.96 487.16 L71.71 487.88 L71.47 488.6 L71.22 489.32 L70.98 490.04 L70.73 490.76 L70.49 491.48 L70.25 492.2 L70.03 492.92 L69.81 493.64 L69.61 494.36 L69.43 495.08 L69.26 495.8 L69.1 496.52 L68.94 497.24 L68.8 497.96 L68.66 498.68 L68.53 499.4 L68.42 500.12 L68.32 500.84 L68.23 501.56 L68.16 502.28 L68.1 503 L67.7 503 L67.64 502.28 L67.57 501.56 L67.48 500.84 L67.38 500.12 L67.27 499.4 L67.14 498.68 L67 497.96 L66.86 497.24 L66.7 496.52 L66.54 495.8 L66.37 495.08 L66.19 494.36 L65.99 493.64 L65.77 492.92 L65.55 492.2 L65.31 491.48 L65.07 490.76 L64.82 490.04 L64.58 489.32 L64.33 488.6 L64.09 487.88 L63.84 487.16 L63.58 486.43 L63.31 485.71 L63.03 484.99 L62.75 484.27 L62.48 483.55 L62.23 482.83 L61.99 482.11 L61.79 481.39 L61.62 480.67 L61.46 479.95 L61.31 479.23 L61.16 478.51 L61.02 477.79 L60.88 477.07 L60.75 476.35 L60.63 475.63 L60.52 474.91 L60.44 474.19 L60.37 473.47 L60.32 472.75 L60.3 472.03 L60.3 471.31 L60.32 470.59 L60.34 469.87 L60.37 469.15 L60.41 468.43 L60.46 467.71 L60.52 466.99 L60.58 466.27 L60.64 465.55 L60.71 464.83 L60.79 464.11 L60.86 463.39 L60.94 462.67 L61.03 461.95 L61.14 461.23 L61.27 460.51 L61.41 459.79 L61.56 459.07 L61.73 458.35 L61.9 457.63 L62.09 456.91 L62.27 456.19 L62.46 455.47 L62.65 454.74 L62.85 454.02 L63.06 453.3 L63.29 452.58 L63.53 451.86 L63.79 451.14 L64.05 450.42 L64.32 449.7 L64.59 448.98 L64.84 448.26 L65.09 447.54 L65.32 446.82 L65.55 446.1 L65.77 445.38 L65.99 444.66 L66.2 443.94 L66.41 443.22 L66.62 442.5 L66.82 441.78 L67.02 441.06 L67.22 440.34 L67.41 439.62 L67.6 438.9 Z" fill="#d5932a" stroke="#222" stroke-width="0.55" stroke-linejoin="round"/>
<line x1="67.9" y1="461.8" x2="67.9" y2="479.6" stroke="#000" stroke-width="1.2"/>
<circle cx="67.9" cy="471" r="1.6" fill="#000"/>
<line x1="85.2" y1="430.3" x2="85.2" y2="500.5" stroke="#2a2a2a" stroke-width="0.65"/>
<path d="M85.5 436 L85.62 436.69 L85.74 437.37 L85.87 438.06 L86 438.74 L86.14 439.43 L86.28 440.11 L86.43 440.8 L86.59 441.48 L86.75 442.17 L86.91 442.85 L87.08 443.54 L87.26 444.22 L87.45 444.91 L87.65 445.6 L87.86 446.28 L88.09 446.97 L88.32 447.65 L88.56 448.34 L88.8 449.02 L89.05 449.71 L89.29 450.39 L89.53 451.08 L89.76 451.76 L89.98 452.45 L90.2 453.13 L90.4 453.82 L90.58 454.51 L90.77 455.19 L90.95 455.88 L91.14 456.56 L91.32 457.25 L91.49 457.93 L91.66 458.62 L91.81 459.3 L91.95 459.99 L92.07 460.67 L92.18 461.36 L92.27 462.04 L92.37 462.73 L92.46 463.42 L92.55 464.1 L92.63 464.79 L92.7 465.47 L92.77 466.16 L92.82 466.84 L92.86 467.53 L92.89 468.21 L92.9 468.9 L92.89 469.58 L92.87 470.27 L92.83 470.96 L92.77 471.64 L92.71 472.33 L92.64 473.01 L92.55 473.7 L92.46 474.38 L92.37 475.07 L92.27 475.75 L92.16 476.44 L92.02 477.12 L91.84 477.81 L91.62 478.49 L91.38 479.18 L91.12 479.87 L90.85 480.55 L90.57 481.24 L90.29 481.92 L90.02 482.61 L89.77 483.29 L89.54 483.98 L89.3 484.66 L89.06 485.35 L88.82 486.03 L88.59 486.72 L88.35 487.4 L88.11 488.09 L87.88 488.78 L87.65 489.46 L87.42 490.15 L87.19 490.83 L86.96 491.52 L86.71 492.2 L86.47 492.89 L86.24 493.57 L86.03 494.26 L85.86 494.94 L85.71 495.63 L85.6 496.31 L85.5 497 L84.9 497 L84.8 496.31 L84.69 495.63 L84.54 494.94 L84.37 494.26 L84.16 493.57 L83.93 492.89 L83.69 492.2 L83.44 491.52 L83.21 490.83 L82.98 490.15 L82.75 489.46 L82.52 488.78 L82.29 488.09 L82.05 487.4 L81.81 486.72 L81.58 486.03 L81.34 485.35 L81.1 484.66 L80.86 483.98 L80.63 483.29 L80.38 482.61 L80.11 481.92 L79.83 481.24 L79.55 480.55 L79.28 479.87 L79.02 479.18 L78.78 478.49 L78.56 477.81 L78.38 477.12 L78.24 476.44 L78.13 475.75 L78.03 475.07 L77.94 474.38 L77.85 473.7 L77.76 473.01 L77.69 472.33 L77.63 471.64 L77.57 470.96 L77.53 470.27 L77.51 469.58 L77.5 468.9 L77.51 468.21 L77.54 467.53 L77.58 466.84 L77.63 466.16 L77.7 465.47 L77.77 464.79 L77.85 464.1 L77.94 463.42 L78.03 462.73 L78.13 462.04 L78.22 461.36 L78.33 460.67 L78.45 459.99 L78.59 459.3 L78.74 458.62 L78.91 457.93 L79.08 457.25 L79.26 456.56 L79.45 455.88 L79.63 455.19 L79.82 454.51 L80 453.82 L80.2 453.13 L80.42 452.45 L80.64 451.76 L80.87 451.08 L81.11 450.39 L81.35 449.71 L81.6 449.02 L81.84 448.34 L82.08 447.65 L82.31 446.97 L82.54 446.28 L82.75 445.6 L82.95 444.91 L83.14 444.22 L83.32 443.54 L83.49 442.85 L83.65 442.17 L83.81 441.48 L83.97 440.8 L84.12 440.11 L84.26 439.43 L84.4 438.74 L84.53 438.06 L84.66 437.37 L84.78 436.69 L84.9 436 Z" fill="#a9a431" stroke="#222" stroke-width="0.55" stroke-linejoin="round"/>
<line x1="85.2" y1="461.3" x2="85.2" y2="477.9" stroke="#000" stroke-width="1.2"/>
<circle cx="85.2" cy="470.2" r="1.6" fill="#000"/>
<line x1="102.6" y1="433.9" x2="102.6" y2="507.8" stroke="#2a2a2a" stroke-width="0.65"/>
<path d="M102.9 433.9 L103 434.59 L103.11 435.27 L103.23 435.96 L103.36 436.65 L103.49 437.33 L103.64 438.02 L103.79 438.71 L103.95 439.39 L104.12 440.08 L104.29 440.77 L104.47 441.45 L104.66 442.14 L104.88 442.82 L105.12 443.51 L105.37 444.2 L105.63 444.88 L105.89 445.57 L106.16 446.26 L106.42 446.94 L106.68 447.63 L106.93 448.32 L107.17 449 L107.39 449.69 L107.62 450.38 L107.85 451.06 L108.08 451.75 L108.31 452.44 L108.53 453.12 L108.75 453.81 L108.96 454.5 L109.16 455.18 L109.34 455.87 L109.5 456.56 L109.65 457.24 L109.78 457.93 L109.91 458.61 L110.04 459.3 L110.17 459.99 L110.29 460.67 L110.39 461.36 L110.48 462.05 L110.55 462.73 L110.59 463.42 L110.6 464.11 L110.58 464.79 L110.53 465.48 L110.46 466.17 L110.36 466.85 L110.25 467.54 L110.12 468.23 L109.99 468.91 L109.84 469.6 L109.69 470.29 L109.54 470.97 L109.39 471.66 L109.25 472.34 L109.09 473.03 L108.93 473.72 L108.75 474.4 L108.56 475.09 L108.36 475.78 L108.15 476.46 L107.94 477.15 L107.73 477.84 L107.52 478.52 L107.3 479.21 L107.09 479.9 L106.88 480.58 L106.67 481.27 L106.44 481.96 L106.22 482.64 L105.98 483.33 L105.75 484.02 L105.52 484.7 L105.29 485.39 L105.07 486.08 L104.85 486.76 L104.64 487.45 L104.45 488.13 L104.26 488.82 L104.07 489.51 L103.89 490.19 L103.72 490.88 L103.55 491.57 L103.4 492.25 L103.25 492.94 L103.12 493.63 L103 494.31 L102.9 495 L102.3 495 L102.2 494.31 L102.08 493.63 L101.95 492.94 L101.8 492.25 L101.65 491.57 L101.48 490.88 L101.31 490.19 L101.13 489.51 L100.94 488.82 L100.75 488.13 L100.56 487.45 L100.35 486.76 L100.13 486.08 L99.91 485.39 L99.68 484.7 L99.45 484.02 L99.22 483.33 L98.98 482.64 L98.76 481.96 L98.53 481.27 L98.32 480.58 L98.11 479.9 L97.9 479.21 L97.68 478.52 L97.47 477.84 L97.26 477.15 L97.05 476.46 L96.84 475.78 L96.64 475.09 L96.45 474.4 L96.27 473.72 L96.11 473.03 L95.95 472.34 L95.81 471.66 L95.66 470.97 L95.51 470.29 L95.36 469.6 L95.21 468.91 L95.08 468.23 L94.95 467.54 L94.84 466.85 L94.74 466.17 L94.67 465.48 L94.62 464.79 L94.6 464.11 L94.61 463.42 L94.65 462.73 L94.72 462.05 L94.81 461.36 L94.91 460.67 L95.03 459.99 L95.16 459.3 L95.29 458.61 L95.42 457.93 L95.55 457.24 L95.7 456.56 L95.86 455.87 L96.04 455.18 L96.24 454.5 L96.45 453.81 L96.67 453.12 L96.89 452.44 L97.12 451.75 L97.35 451.06 L97.58 450.38 L97.81 449.69 L98.03 449 L98.27 448.32 L98.52 447.63 L98.78 446.94 L99.04 446.26 L99.31 445.57 L99.57 444.88 L99.83 444.2 L100.08 443.51 L100.32 442.82 L100.54 442.14 L100.73 441.45 L100.91 440.77 L101.08 440.08 L101.25 439.39 L101.41 438.71 L101.56 438.02 L101.71 437.33 L101.84 436.65 L101.97 435.96 L102.09 435.27 L102.2 434.59 L102.3 433.9 Z" fill="#6aaa3a" stroke="#222" stroke-width="0.55" stroke-linejoin="round"/>
<line x1="102.6" y1="459.7" x2="102.6" y2="475.3" stroke="#000" stroke-width="1.2"/>
<circle cx="102.6" cy="466.9" r="1.6" fill="#000"/>
<line x1="119.5" y1="449.4" x2="119.5" y2="522.4" stroke="#2a2a2a" stroke-width="0.65"/>
<path d="M119.8 462.3 L119.83 462.97 L119.86 463.64 L119.9 464.31 L119.94 464.97 L119.99 465.64 L120.05 466.31 L120.11 466.98 L120.17 467.65 L120.23 468.32 L120.3 468.99 L120.37 469.65 L120.45 470.32 L120.54 470.99 L120.64 471.66 L120.76 472.33 L120.88 473 L121.01 473.67 L121.19 474.33 L121.42 475 L121.69 475.67 L121.99 476.34 L122.31 477.01 L122.64 477.68 L122.97 478.34 L123.28 479.01 L123.57 479.68 L123.83 480.35 L124.1 481.02 L124.36 481.69 L124.62 482.36 L124.88 483.02 L125.13 483.69 L125.36 484.36 L125.58 485.03 L125.78 485.7 L125.95 486.37 L126.1 487.04 L126.24 487.7 L126.39 488.37 L126.53 489.04 L126.67 489.71 L126.8 490.38 L126.92 491.05 L127.03 491.72 L127.12 492.38 L127.2 493.05 L127.25 493.72 L127.29 494.39 L127.3 495.06 L127.26 495.73 L127.17 496.4 L127.03 497.06 L126.85 497.73 L126.64 498.4 L126.39 499.07 L126.13 499.74 L125.86 500.41 L125.59 501.08 L125.31 501.74 L125.05 502.41 L124.81 503.08 L124.58 503.75 L124.35 504.42 L124.11 505.09 L123.87 505.76 L123.62 506.42 L123.37 507.09 L123.12 507.76 L122.87 508.43 L122.62 509.1 L122.38 509.77 L122.15 510.43 L121.92 511.1 L121.71 511.77 L121.52 512.44 L121.33 513.11 L121.15 513.78 L120.97 514.45 L120.81 515.11 L120.65 515.78 L120.5 516.45 L120.37 517.12 L120.25 517.79 L120.14 518.46 L120.03 519.13 L119.94 519.79 L119.85 520.46 L119.77 521.13 L119.7 521.8 L119.3 521.8 L119.23 521.13 L119.15 520.46 L119.06 519.79 L118.97 519.13 L118.86 518.46 L118.75 517.79 L118.63 517.12 L118.5 516.45 L118.35 515.78 L118.19 515.11 L118.03 514.45 L117.85 513.78 L117.67 513.11 L117.48 512.44 L117.29 511.77 L117.08 511.1 L116.85 510.43 L116.62 509.77 L116.38 509.1 L116.13 508.43 L115.88 507.76 L115.63 507.09 L115.38 506.42 L115.13 505.76 L114.89 505.09 L114.65 504.42 L114.42 503.75 L114.19 503.08 L113.95 502.41 L113.69 501.74 L113.41 501.08 L113.14 500.41 L112.87 499.74 L112.61 499.07 L112.36 498.4 L112.15 497.73 L111.97 497.06 L111.83 496.4 L111.74 495.73 L111.7 495.06 L111.71 494.39 L111.75 493.72 L111.8 493.05 L111.88 492.38 L111.97 491.72 L112.08 491.05 L112.2 490.38 L112.33 489.71 L112.47 489.04 L112.61 488.37 L112.76 487.7 L112.9 487.04 L113.05 486.37 L113.22 485.7 L113.42 485.03 L113.64 484.36 L113.87 483.69 L114.12 483.02 L114.38 482.36 L114.64 481.69 L114.9 481.02 L115.17 480.35 L115.43 479.68 L115.72 479.01 L116.03 478.34 L116.36 477.68 L116.69 477.01 L117.01 476.34 L117.31 475.67 L117.58 475 L117.81 474.33 L117.99 473.67 L118.12 473 L118.24 472.33 L118.36 471.66 L118.46 470.99 L118.55 470.32 L118.63 469.65 L118.7 468.99 L118.77 468.32 L118.83 467.65 L118.89 466.98 L118.95 466.31 L119.01 465.64 L119.06 464.97 L119.1 464.31 L119.14 463.64 L119.17 462.97 L119.2 462.3 Z" fill="#63b9c6" stroke="#222" stroke-width="0.55" stroke-linejoin="round"/>
<line x1="119.5" y1="488.9" x2="119.5" y2="503.1" stroke="#000" stroke-width="1.2"/>
<circle cx="119.5" cy="495.7" r="1.6" fill="#000"/>
<line x1="136.8" y1="433.2" x2="136.8" y2="488.4" stroke="#2a2a2a" stroke-width="0.65"/>
<path d="M137 433.2 L137.78 433.82 L138.06 434.44 L138.2 435.06 L138.32 435.68 L138.49 436.3 L138.69 436.92 L138.92 437.54 L139.15 438.16 L139.39 438.78 L139.64 439.4 L139.87 440.02 L140.1 440.64 L140.3 441.26 L140.48 441.88 L140.65 442.5 L140.82 443.12 L140.98 443.74 L141.13 444.36 L141.28 444.98 L141.42 445.6 L141.56 446.22 L141.69 446.84 L141.82 447.47 L141.94 448.09 L142.06 448.71 L142.17 449.33 L142.28 449.95 L142.38 450.57 L142.48 451.19 L142.58 451.81 L142.67 452.43 L142.76 453.05 L142.86 453.67 L142.95 454.29 L143.04 454.91 L143.14 455.53 L143.24 456.15 L143.35 456.77 L143.47 457.39 L143.59 458.01 L143.71 458.63 L143.82 459.25 L143.91 459.87 L143.99 460.49 L144.06 461.11 L144.09 461.73 L144.1 462.35 L144.07 462.97 L144.01 463.59 L143.91 464.21 L143.8 464.83 L143.66 465.45 L143.52 466.07 L143.37 466.69 L143.21 467.31 L143.07 467.93 L142.91 468.55 L142.73 469.17 L142.54 469.79 L142.33 470.41 L142.11 471.03 L141.89 471.65 L141.66 472.27 L141.43 472.89 L141.21 473.51 L140.99 474.13 L140.78 474.76 L140.58 475.38 L140.37 476 L140.16 476.62 L139.96 477.24 L139.75 477.86 L139.55 478.48 L139.35 479.1 L139.15 479.72 L138.96 480.34 L138.78 480.96 L138.61 481.58 L138.44 482.2 L138.28 482.82 L138.12 483.44 L137.96 484.06 L137.81 484.68 L137.66 485.3 L137.52 485.92 L137.38 486.54 L137.25 487.16 L137.12 487.78 L137 488.4 L136.6 488.4 L136.48 487.78 L136.35 487.16 L136.22 486.54 L136.08 485.92 L135.94 485.3 L135.79 484.68 L135.64 484.06 L135.48 483.44 L135.32 482.82 L135.16 482.2 L134.99 481.58 L134.82 480.96 L134.64 480.34 L134.45 479.72 L134.25 479.1 L134.05 478.48 L133.85 477.86 L133.64 477.24 L133.44 476.62 L133.23 476 L133.02 475.38 L132.82 474.76 L132.61 474.13 L132.39 473.51 L132.17 472.89 L131.94 472.27 L131.71 471.65 L131.49 471.03 L131.27 470.41 L131.06 469.79 L130.87 469.17 L130.69 468.55 L130.53 467.93 L130.39 467.31 L130.23 466.69 L130.08 466.07 L129.94 465.45 L129.8 464.83 L129.69 464.21 L129.59 463.59 L129.53 462.97 L129.5 462.35 L129.51 461.73 L129.54 461.11 L129.61 460.49 L129.69 459.87 L129.78 459.25 L129.89 458.63 L130.01 458.01 L130.13 457.39 L130.25 456.77 L130.36 456.15 L130.46 455.53 L130.56 454.91 L130.65 454.29 L130.74 453.67 L130.84 453.05 L130.93 452.43 L131.02 451.81 L131.12 451.19 L131.22 450.57 L131.32 449.95 L131.43 449.33 L131.54 448.71 L131.66 448.09 L131.78 447.47 L131.91 446.84 L132.04 446.22 L132.18 445.6 L132.32 444.98 L132.47 444.36 L132.62 443.74 L132.78 443.12 L132.95 442.5 L133.12 441.88 L133.3 441.26 L133.5 440.64 L133.73 440.02 L133.96 439.4 L134.21 438.78 L134.45 438.16 L134.68 437.54 L134.91 436.92 L135.11 436.3 L135.28 435.68 L135.4 435.06 L135.54 434.44 L135.82 433.82 L136.6 433.2 Z" fill="#6a9fe0" stroke="#222" stroke-width="0.55" stroke-linejoin="round"/>
<line x1="136.8" y1="450" x2="136.8" y2="467.5" stroke="#000" stroke-width="1.2"/>
<circle cx="136.8" cy="459.7" r="1.6" fill="#000"/>
<line x1="154.1" y1="433.3" x2="154.1" y2="502.2" stroke="#2a2a2a" stroke-width="0.65"/>
<path d="M154.5 444.3 L154.64 444.93 L154.78 445.55 L154.93 446.18 L155.09 446.8 L155.26 447.43 L155.43 448.06 L155.61 448.68 L155.8 449.31 L155.99 449.93 L156.19 450.56 L156.39 451.18 L156.61 451.81 L156.85 452.44 L157.1 453.06 L157.36 453.69 L157.64 454.31 L157.91 454.94 L158.18 455.57 L158.45 456.19 L158.71 456.82 L158.96 457.44 L159.19 458.07 L159.41 458.69 L159.63 459.32 L159.85 459.95 L160.07 460.57 L160.28 461.2 L160.48 461.82 L160.67 462.45 L160.85 463.08 L161.02 463.7 L161.16 464.33 L161.29 464.95 L161.41 465.58 L161.52 466.2 L161.64 466.83 L161.75 467.46 L161.85 468.08 L161.95 468.71 L162.03 469.33 L162.1 469.96 L162.15 470.59 L162.19 471.21 L162.2 471.84 L162.19 472.46 L162.17 473.09 L162.13 473.71 L162.09 474.34 L162.03 474.97 L161.96 475.59 L161.88 476.22 L161.79 476.84 L161.7 477.47 L161.61 478.1 L161.51 478.72 L161.4 479.35 L161.26 479.97 L161.09 480.6 L160.89 481.22 L160.68 481.85 L160.45 482.48 L160.21 483.1 L159.96 483.73 L159.71 484.35 L159.47 484.98 L159.23 485.61 L159 486.23 L158.75 486.86 L158.49 487.48 L158.23 488.11 L157.95 488.73 L157.68 489.36 L157.42 489.99 L157.15 490.61 L156.9 491.24 L156.66 491.86 L156.44 492.49 L156.23 493.12 L156.03 493.74 L155.83 494.37 L155.64 494.99 L155.45 495.62 L155.28 496.24 L155.11 496.87 L154.95 497.5 L154.79 498.12 L154.65 498.75 L154.52 499.37 L154.4 500 L153.8 500 L153.68 499.37 L153.55 498.75 L153.41 498.12 L153.25 497.5 L153.09 496.87 L152.92 496.24 L152.75 495.62 L152.56 494.99 L152.37 494.37 L152.17 493.74 L151.97 493.12 L151.76 492.49 L151.54 491.86 L151.3 491.24 L151.05 490.61 L150.78 489.99 L150.52 489.36 L150.25 488.73 L149.97 488.11 L149.71 487.48 L149.45 486.86 L149.2 486.23 L148.97 485.61 L148.73 484.98 L148.49 484.35 L148.24 483.73 L147.99 483.1 L147.75 482.48 L147.52 481.85 L147.31 481.22 L147.11 480.6 L146.94 479.97 L146.8 479.35 L146.69 478.72 L146.59 478.1 L146.5 477.47 L146.41 476.84 L146.32 476.22 L146.24 475.59 L146.17 474.97 L146.11 474.34 L146.07 473.71 L146.03 473.09 L146.01 472.46 L146 471.84 L146.01 471.21 L146.05 470.59 L146.1 469.96 L146.17 469.33 L146.25 468.71 L146.35 468.08 L146.45 467.46 L146.56 466.83 L146.68 466.2 L146.79 465.58 L146.91 464.95 L147.04 464.33 L147.18 463.7 L147.35 463.08 L147.53 462.45 L147.72 461.82 L147.92 461.2 L148.13 460.57 L148.35 459.95 L148.57 459.32 L148.79 458.69 L149.01 458.07 L149.24 457.44 L149.49 456.82 L149.75 456.19 L150.02 455.57 L150.29 454.94 L150.56 454.31 L150.84 453.69 L151.1 453.06 L151.35 452.44 L151.59 451.81 L151.81 451.18 L152.01 450.56 L152.21 449.93 L152.4 449.31 L152.59 448.68 L152.77 448.06 L152.94 447.43 L153.11 446.8 L153.27 446.18 L153.42 445.55 L153.56 444.93 L153.7 444.3 Z" fill="#a474be" stroke="#222" stroke-width="0.55" stroke-linejoin="round"/>
<line x1="154.1" y1="466.1" x2="154.1" y2="480.5" stroke="#000" stroke-width="1.2"/>
<circle cx="154.1" cy="473.3" r="1.6" fill="#000"/>
<text transform="translate(17.6 468.9) rotate(-89.9)" font-size="8" text-anchor="middle" fill="#1a1a1a" stroke="#1a1a1a" stroke-width="0.4" textLength="56.2" lengthAdjust="spacingAndGlyphs">CD56<tspan font-size="4.96" dy="-2.2">dim</tspan><tspan dy="2.2"> module score</tspan></text>
<rect x="60.3" y="560.8" width="16.92" height="7.6" fill="#fff" stroke="#1a1a1a" stroke-width="0.85"/>
<rect x="64.76" y="564.1" width="1.25" height="1.3" fill="#333"/>
<rect x="67.01" y="564.1" width="1.25" height="1.3" fill="#333"/>
<rect x="69.26" y="564.1" width="1.25" height="1.3" fill="#333"/>
<rect x="71.51" y="564.1" width="1.25" height="1.3" fill="#333"/>
<rect x="77.22" y="560.8" width="16.92" height="7.6" fill="#fff" stroke="#1a1a1a" stroke-width="0.85"/>
<rect x="81.68" y="564.1" width="1.25" height="1.3" fill="#333"/>
<rect x="83.93" y="564.1" width="1.25" height="1.3" fill="#333"/>
<rect x="86.18" y="564.1" width="1.25" height="1.3" fill="#333"/>
<rect x="88.43" y="564.1" width="1.25" height="1.3" fill="#333"/>
<rect x="94.14" y="560.8" width="16.92" height="7.6" fill="#fff" stroke="#1a1a1a" stroke-width="0.85"/>
<rect x="98.6" y="564.1" width="1.25" height="1.3" fill="#333"/>
<rect x="100.85" y="564.1" width="1.25" height="1.3" fill="#333"/>
<rect x="103.1" y="564.1" width="1.25" height="1.3" fill="#333"/>
<rect x="105.35" y="564.1" width="1.25" height="1.3" fill="#333"/>
<rect x="111.06" y="560.8" width="16.92" height="7.6" fill="#fff" stroke="#1a1a1a" stroke-width="0.85"/>
<rect x="115.52" y="564.1" width="1.25" height="1.3" fill="#333"/>
<rect x="117.77" y="564.1" width="1.25" height="1.3" fill="#333"/>
<rect x="120.02" y="564.1" width="1.25" height="1.3" fill="#333"/>
<rect x="122.27" y="564.1" width="1.25" height="1.3" fill="#333"/>
<rect x="127.98" y="560.8" width="16.92" height="7.6" fill="#fff" stroke="#1a1a1a" stroke-width="0.85"/>
<text x="136.44" y="566.4" font-size="6" text-anchor="middle" fill="#222" stroke="#222" stroke-width="0.15">n.s</text>
<rect x="144.9" y="560.8" width="16.92" height="7.6" fill="#fff" stroke="#1a1a1a" stroke-width="0.85"/>
<rect x="149.36" y="564.1" width="1.25" height="1.3" fill="#333"/>
<rect x="151.61" y="564.1" width="1.25" height="1.3" fill="#333"/>
<rect x="153.86" y="564.1" width="1.25" height="1.3" fill="#333"/>
<rect x="156.11" y="564.1" width="1.25" height="1.3" fill="#333"/>
<rect x="77.22" y="568.4" width="16.92" height="7.6" fill="#fff" stroke="#1a1a1a" stroke-width="0.85"/>
<text x="85.68" y="574" font-size="6" text-anchor="middle" fill="#222" stroke="#222" stroke-width="0.15">n.s</text>
<rect x="94.14" y="568.4" width="16.92" height="7.6" fill="#fff" stroke="#1a1a1a" stroke-width="0.85"/>
<rect x="99.72" y="571.7" width="1.25" height="1.3" fill="#333"/>
<rect x="101.97" y="571.7" width="1.25" height="1.3" fill="#333"/>
<rect x="104.22" y="571.7" width="1.25" height="1.3" fill="#333"/>
<rect x="111.06" y="568.4" width="16.92" height="7.6" fill="#fff" stroke="#1a1a1a" stroke-width="0.85"/>
<rect x="115.52" y="571.7" width="1.25" height="1.3" fill="#333"/>
<rect x="117.77" y="571.7" width="1.25" height="1.3" fill="#333"/>
<rect x="120.02" y="571.7" width="1.25" height="1.3" fill="#333"/>
<rect x="122.27" y="571.7" width="1.25" height="1.3" fill="#333"/>
<rect x="127.98" y="568.4" width="16.92" height="7.6" fill="#fff" stroke="#1a1a1a" stroke-width="0.85"/>
<rect x="132.44" y="571.7" width="1.25" height="1.3" fill="#333"/>
<rect x="134.69" y="571.7" width="1.25" height="1.3" fill="#333"/>
<rect x="136.94" y="571.7" width="1.25" height="1.3" fill="#333"/>
<rect x="139.19" y="571.7" width="1.25" height="1.3" fill="#333"/>
<rect x="144.9" y="568.4" width="16.92" height="7.6" fill="#fff" stroke="#1a1a1a" stroke-width="0.85"/>
<text x="153.36" y="574" font-size="6" text-anchor="middle" fill="#222" stroke="#222" stroke-width="0.15">n.s</text>
<rect x="94.14" y="576" width="16.92" height="7.6" fill="#fff" stroke="#1a1a1a" stroke-width="0.85"/>
<text x="102.6" y="581.6" font-size="6" text-anchor="middle" fill="#222" stroke="#222" stroke-width="0.15">n.s</text>
<rect x="111.06" y="576" width="16.92" height="7.6" fill="#fff" stroke="#1a1a1a" stroke-width="0.85"/>
<rect x="115.52" y="579.3" width="1.25" height="1.3" fill="#333"/>
<rect x="117.77" y="579.3" width="1.25" height="1.3" fill="#333"/>
<rect x="120.02" y="579.3" width="1.25" height="1.3" fill="#333"/>
<rect x="122.27" y="579.3" width="1.25" height="1.3" fill="#333"/>
<rect x="127.98" y="576" width="16.92" height="7.6" fill="#fff" stroke="#1a1a1a" stroke-width="0.85"/>
<rect x="132.44" y="579.3" width="1.25" height="1.3" fill="#333"/>
<rect x="134.69" y="579.3" width="1.25" height="1.3" fill="#333"/>
<rect x="136.94" y="579.3" width="1.25" height="1.3" fill="#333"/>
<rect x="139.19" y="579.3" width="1.25" height="1.3" fill="#333"/>
<rect x="144.9" y="576" width="16.92" height="7.6" fill="#fff" stroke="#1a1a1a" stroke-width="0.85"/>
<text x="153.36" y="581.6" font-size="6" text-anchor="middle" fill="#222" stroke="#222" stroke-width="0.15">n.s</text>
<rect x="111.06" y="583.6" width="16.92" height="7.6" fill="#fff" stroke="#1a1a1a" stroke-width="0.85"/>
<rect x="115.52" y="586.9" width="1.25" height="1.3" fill="#333"/>
<rect x="117.77" y="586.9" width="1.25" height="1.3" fill="#333"/>
<rect x="120.02" y="586.9" width="1.25" height="1.3" fill="#333"/>
<rect x="122.27" y="586.9" width="1.25" height="1.3" fill="#333"/>
<rect x="127.98" y="583.6" width="16.92" height="7.6" fill="#fff" stroke="#1a1a1a" stroke-width="0.85"/>
<rect x="132.44" y="586.9" width="1.25" height="1.3" fill="#333"/>
<rect x="134.69" y="586.9" width="1.25" height="1.3" fill="#333"/>
<rect x="136.94" y="586.9" width="1.25" height="1.3" fill="#333"/>
<rect x="139.19" y="586.9" width="1.25" height="1.3" fill="#333"/>
<rect x="144.9" y="583.6" width="16.92" height="7.6" fill="#fff" stroke="#1a1a1a" stroke-width="0.85"/>
<rect x="152.74" y="586.9" width="1.25" height="1.3" fill="#333"/>
<rect x="127.98" y="591.2" width="16.92" height="7.6" fill="#fff" stroke="#1a1a1a" stroke-width="0.85"/>
<rect x="132.44" y="594.5" width="1.25" height="1.3" fill="#333"/>
<rect x="134.69" y="594.5" width="1.25" height="1.3" fill="#333"/>
<rect x="136.94" y="594.5" width="1.25" height="1.3" fill="#333"/>
<rect x="139.19" y="594.5" width="1.25" height="1.3" fill="#333"/>
<rect x="144.9" y="591.2" width="16.92" height="7.6" fill="#fff" stroke="#1a1a1a" stroke-width="0.85"/>
<rect x="149.36" y="594.5" width="1.25" height="1.3" fill="#333"/>
<rect x="151.61" y="594.5" width="1.25" height="1.3" fill="#333"/>
<rect x="153.86" y="594.5" width="1.25" height="1.3" fill="#333"/>
<rect x="156.11" y="594.5" width="1.25" height="1.3" fill="#333"/>
<rect x="144.9" y="598.8" width="16.92" height="7.7" fill="#fff" stroke="#1a1a1a" stroke-width="0.85"/>
<rect x="149.36" y="602.1" width="1.25" height="1.3" fill="#333"/>
<rect x="151.61" y="602.1" width="1.25" height="1.3" fill="#333"/>
<rect x="153.86" y="602.1" width="1.25" height="1.3" fill="#333"/>
<rect x="156.11" y="602.1" width="1.25" height="1.3" fill="#333"/>
<text x="16.3" y="565.5" font-size="6.15" text-anchor="start" fill="#1a1a1a" stroke="#1a1a1a" stroke-width="0.15">Cluster0</text>
<text x="16.3" y="573.5" font-size="6.15" text-anchor="start" fill="#1a1a1a" stroke="#1a1a1a" stroke-width="0.15">Cluster1</text>
<text x="16.3" y="581.5" font-size="6.15" text-anchor="start" fill="#1a1a1a" stroke="#1a1a1a" stroke-width="0.15">Cluster2</text>
<text x="16.3" y="589.5" font-size="6.15" text-anchor="start" fill="#1a1a1a" stroke="#1a1a1a" stroke-width="0.15">Cluster3</text>
<text x="16.3" y="597.5" font-size="6.15" text-anchor="start" fill="#1a1a1a" stroke="#1a1a1a" stroke-width="0.15">Cluster4</text>
<text x="16.3" y="605.5" font-size="6.15" text-anchor="start" fill="#1a1a1a" stroke="#1a1a1a" stroke-width="0.15">Cluster6</text>
<line x1="203.2" y1="410.3" x2="203.2" y2="527.7" stroke="#000" stroke-width="1.05"/>
<line x1="202.8" y1="527.3" x2="324.3" y2="527.3" stroke="#000" stroke-width="1.05"/>
<line x1="200.4" y1="431.8" x2="203.2" y2="431.8" stroke="#111" stroke-width="0.9"/>
<text x="198" y="433.9" font-size="6" text-anchor="end" fill="#1a1a1a" stroke="#1a1a1a" stroke-width="0.15">0.4</text>
<line x1="200.4" y1="462.1" x2="203.2" y2="462.1" stroke="#111" stroke-width="0.9"/>
<text x="198" y="464.2" font-size="6" text-anchor="end" fill="#1a1a1a" stroke="#1a1a1a" stroke-width="0.15">0.2</text>
<line x1="200.4" y1="492.5" x2="203.2" y2="492.5" stroke="#111" stroke-width="0.9"/>
<text x="198" y="494.6" font-size="6" text-anchor="end" fill="#1a1a1a" stroke="#1a1a1a" stroke-width="0.15">0.0</text>
<line x1="200.4" y1="522.8" x2="203.2" y2="522.8" stroke="#111" stroke-width="0.9"/>
<text x="198" y="524.9" font-size="6" text-anchor="end" fill="#1a1a1a" stroke="#1a1a1a" stroke-width="0.15">−0.2</text>
<line x1="214.3" y1="527.3" x2="214.3" y2="530.3" stroke="#111" stroke-width="0.9"/>
<line x1="231.5" y1="527.3" x2="231.5" y2="530.3" stroke="#111" stroke-width="0.9"/>
<line x1="248.6" y1="527.3" x2="248.6" y2="530.3" stroke="#111" stroke-width="0.9"/>
<line x1="265.9" y1="527.3" x2="265.9" y2="530.3" stroke="#111" stroke-width="0.9"/>
<line x1="283" y1="527.3" x2="283" y2="530.3" stroke="#111" stroke-width="0.9"/>
<line x1="300.2" y1="527.3" x2="300.2" y2="530.3" stroke="#111" stroke-width="0.9"/>
<line x1="317.5" y1="527.3" x2="317.5" y2="530.3" stroke="#111" stroke-width="0.9"/>
<text x="0" y="0" font-size="6.2" text-anchor="end" fill="#1a1a1a" stroke="#1a1a1a" stroke-width="0.15" transform="translate(216.6 532.7) rotate(-89.9) scale(1 1.2)">Cluster0</text>
<text x="0" y="0" font-size="6.2" text-anchor="end" fill="#1a1a1a" stroke="#1a1a1a" stroke-width="0.15" transform="translate(233.8 532.7) rotate(-89.9) scale(1 1.2)">Cluster1</text>
<text x="0" y="0" font-size="6.2" text-anchor="end" fill="#1a1a1a" stroke="#1a1a1a" stroke-width="0.15" transform="translate(250.9 532.7) rotate(-89.9) scale(1 1.2)">Cluster2</text>
<text x="0" y="0" font-size="6.2" text-anchor="end" fill="#1a1a1a" stroke="#1a1a1a" stroke-width="0.15" transform="translate(268.2 532.7) rotate(-89.9) scale(1 1.2)">Cluster3</text>
<text x="0" y="0" font-size="6.2" text-anchor="end" fill="#1a1a1a" stroke="#1a1a1a" stroke-width="0.15" transform="translate(285.3 532.7) rotate(-89.9) scale(1 1.2)">Cluster4</text>
<text x="0" y="0" font-size="6.2" text-anchor="end" fill="#1a1a1a" stroke="#1a1a1a" stroke-width="0.15" transform="translate(302.5 532.7) rotate(-89.9) scale(1 1.2)">Cluster6</text>
<text x="0" y="0" font-size="6.2" text-anchor="end" fill="#1a1a1a" stroke="#1a1a1a" stroke-width="0.15" transform="translate(319.8 532.7) rotate(-89.9) scale(1 1.2)">Cluster8</text>
<line x1="214.3" y1="415.8" x2="214.3" y2="521.4" stroke="#2a2a2a" stroke-width="0.65"/>
<path d="M214.7 462.1 L214.79 462.72 L214.89 463.34 L215 463.97 L215.11 464.59 L215.23 465.21 L215.36 465.83 L215.5 466.46 L215.64 467.08 L215.78 467.7 L215.93 468.32 L216.09 468.95 L216.25 469.57 L216.43 470.19 L216.63 470.81 L216.84 471.44 L217.05 472.06 L217.28 472.68 L217.5 473.3 L217.72 473.93 L217.95 474.55 L218.16 475.17 L218.37 475.79 L218.57 476.42 L218.77 477.04 L218.98 477.66 L219.18 478.28 L219.39 478.91 L219.59 479.53 L219.79 480.15 L219.97 480.77 L220.15 481.4 L220.31 482.02 L220.46 482.64 L220.6 483.26 L220.75 483.89 L220.89 484.51 L221.04 485.13 L221.18 485.75 L221.32 486.38 L221.45 487 L221.56 487.62 L221.67 488.24 L221.76 488.87 L221.82 489.49 L221.87 490.11 L221.9 490.73 L221.9 491.36 L221.87 491.98 L221.81 492.6 L221.74 493.22 L221.64 493.85 L221.54 494.47 L221.41 495.09 L221.28 495.71 L221.15 496.34 L221.01 496.96 L220.87 497.58 L220.73 498.2 L220.57 498.83 L220.38 499.45 L220.17 500.07 L219.95 500.69 L219.72 501.32 L219.48 501.94 L219.23 502.56 L218.99 503.18 L218.76 503.81 L218.53 504.43 L218.31 505.05 L218.1 505.67 L217.89 506.3 L217.67 506.92 L217.46 507.54 L217.25 508.16 L217.04 508.79 L216.83 509.41 L216.63 510.03 L216.43 510.65 L216.23 511.28 L216.04 511.9 L215.85 512.52 L215.65 513.14 L215.47 513.77 L215.28 514.39 L215.11 515.01 L214.96 515.63 L214.82 516.26 L214.71 516.88 L214.6 517.5 L214 517.5 L213.89 516.88 L213.78 516.26 L213.64 515.63 L213.49 515.01 L213.32 514.39 L213.13 513.77 L212.95 513.14 L212.75 512.52 L212.56 511.9 L212.37 511.28 L212.17 510.65 L211.97 510.03 L211.77 509.41 L211.56 508.79 L211.35 508.16 L211.14 507.54 L210.93 506.92 L210.71 506.3 L210.5 505.67 L210.29 505.05 L210.07 504.43 L209.84 503.81 L209.61 503.18 L209.37 502.56 L209.12 501.94 L208.88 501.32 L208.65 500.69 L208.43 500.07 L208.22 499.45 L208.03 498.83 L207.87 498.2 L207.73 497.58 L207.59 496.96 L207.45 496.34 L207.32 495.71 L207.19 495.09 L207.06 494.47 L206.96 493.85 L206.86 493.22 L206.79 492.6 L206.73 491.98 L206.7 491.36 L206.7 490.73 L206.73 490.11 L206.78 489.49 L206.84 488.87 L206.93 488.24 L207.04 487.62 L207.15 487 L207.28 486.38 L207.42 485.75 L207.56 485.13 L207.71 484.51 L207.85 483.89 L208 483.26 L208.14 482.64 L208.29 482.02 L208.45 481.4 L208.63 480.77 L208.81 480.15 L209.01 479.53 L209.21 478.91 L209.42 478.28 L209.62 477.66 L209.83 477.04 L210.03 476.42 L210.23 475.79 L210.44 475.17 L210.65 474.55 L210.88 473.93 L211.1 473.3 L211.32 472.68 L211.55 472.06 L211.76 471.44 L211.97 470.81 L212.17 470.19 L212.35 469.57 L212.51 468.95 L212.67 468.32 L212.82 467.7 L212.96 467.08 L213.1 466.46 L213.24 465.83 L213.37 465.21 L213.49 464.59 L213.6 463.97 L213.71 463.34 L213.81 462.72 L213.9 462.1 Z" fill="#e07672" stroke="#222" stroke-width="0.55" stroke-linejoin="round"/>
<line x1="214.3" y1="484" x2="214.3" y2="498.6" stroke="#000" stroke-width="1.2"/>
<circle cx="214.3" cy="490.8" r="1.6" fill="#000"/>
<line x1="231.5" y1="444.1" x2="231.5" y2="521" stroke="#2a2a2a" stroke-width="0.65"/>
<path d="M231.9 457.9 L231.97 458.52 L232.06 459.14 L232.15 459.76 L232.25 460.38 L232.37 461 L232.49 461.61 L232.61 462.23 L232.75 462.85 L232.88 463.47 L233.03 464.09 L233.18 464.71 L233.34 465.33 L233.52 465.95 L233.72 466.57 L233.94 467.19 L234.16 467.81 L234.4 468.42 L234.64 469.04 L234.87 469.66 L235.1 470.28 L235.33 470.9 L235.54 471.52 L235.74 472.14 L235.95 472.76 L236.16 473.38 L236.37 474 L236.58 474.62 L236.78 475.23 L236.99 475.85 L237.18 476.47 L237.37 477.09 L237.55 477.71 L237.72 478.33 L237.87 478.95 L238.01 479.57 L238.14 480.19 L238.26 480.81 L238.38 481.43 L238.51 482.04 L238.63 482.66 L238.74 483.28 L238.84 483.9 L238.93 484.52 L239 485.14 L239.06 485.76 L239.09 486.38 L239.1 487 L239.07 487.62 L239.02 488.24 L238.93 488.86 L238.81 489.47 L238.68 490.09 L238.53 490.71 L238.37 491.33 L238.2 491.95 L238.03 492.57 L237.86 493.19 L237.7 493.81 L237.53 494.43 L237.36 495.05 L237.16 495.67 L236.96 496.28 L236.75 496.9 L236.54 497.52 L236.32 498.14 L236.09 498.76 L235.87 499.38 L235.65 500 L235.43 500.62 L235.21 501.24 L234.98 501.86 L234.74 502.48 L234.5 503.09 L234.25 503.71 L234.01 504.33 L233.77 504.95 L233.55 505.57 L233.33 506.19 L233.13 506.81 L232.95 507.43 L232.78 508.05 L232.63 508.67 L232.48 509.29 L232.35 509.9 L232.22 510.52 L232.1 511.14 L231.99 511.76 L231.89 512.38 L231.8 513 L231.2 513 L231.11 512.38 L231.01 511.76 L230.9 511.14 L230.78 510.52 L230.65 509.9 L230.52 509.29 L230.37 508.67 L230.22 508.05 L230.05 507.43 L229.87 506.81 L229.67 506.19 L229.45 505.57 L229.23 504.95 L228.99 504.33 L228.75 503.71 L228.5 503.09 L228.26 502.48 L228.02 501.86 L227.79 501.24 L227.57 500.62 L227.35 500 L227.13 499.38 L226.91 498.76 L226.68 498.14 L226.46 497.52 L226.25 496.9 L226.04 496.28 L225.84 495.67 L225.64 495.05 L225.47 494.43 L225.3 493.81 L225.14 493.19 L224.97 492.57 L224.8 491.95 L224.63 491.33 L224.47 490.71 L224.32 490.09 L224.19 489.47 L224.07 488.86 L223.98 488.24 L223.93 487.62 L223.9 487 L223.91 486.38 L223.94 485.76 L224 485.14 L224.07 484.52 L224.16 483.9 L224.26 483.28 L224.37 482.66 L224.49 482.04 L224.62 481.43 L224.74 480.81 L224.86 480.19 L224.99 479.57 L225.13 478.95 L225.28 478.33 L225.45 477.71 L225.63 477.09 L225.82 476.47 L226.01 475.85 L226.22 475.23 L226.42 474.62 L226.63 474 L226.84 473.38 L227.05 472.76 L227.26 472.14 L227.46 471.52 L227.67 470.9 L227.9 470.28 L228.13 469.66 L228.36 469.04 L228.6 468.42 L228.84 467.81 L229.06 467.19 L229.28 466.57 L229.48 465.95 L229.66 465.33 L229.82 464.71 L229.97 464.09 L230.12 463.47 L230.25 462.85 L230.39 462.23 L230.51 461.61 L230.63 461 L230.75 460.38 L230.85 459.76 L230.94 459.14 L231.03 458.52 L231.1 457.9 Z" fill="#d5932a" stroke="#222" stroke-width="0.55" stroke-linejoin="round"/>
<line x1="231.5" y1="479.7" x2="231.5" y2="493.8" stroke="#000" stroke-width="1.2"/>
<circle cx="231.5" cy="486.6" r="1.6" fill="#000"/>
<line x1="248.6" y1="422.4" x2="248.6" y2="509.3" stroke="#2a2a2a" stroke-width="0.65"/>
<path d="M249 437.9 L249.14 438.69 L249.28 439.48 L249.44 440.26 L249.59 441.05 L249.76 441.84 L249.93 442.63 L250.1 443.41 L250.28 444.2 L250.46 444.99 L250.65 445.78 L250.84 446.56 L251.05 447.35 L251.26 448.14 L251.49 448.93 L251.72 449.71 L251.95 450.5 L252.19 451.29 L252.42 452.08 L252.65 452.87 L252.88 453.65 L253.09 454.44 L253.32 455.23 L253.54 456.02 L253.77 456.8 L254 457.59 L254.22 458.38 L254.43 459.17 L254.63 459.95 L254.82 460.74 L254.98 461.53 L255.12 462.32 L255.25 463.1 L255.38 463.89 L255.5 464.68 L255.62 465.47 L255.72 466.26 L255.8 467.04 L255.86 467.83 L255.9 468.62 L255.92 469.41 L255.93 470.19 L255.95 470.98 L255.96 471.77 L255.97 472.56 L255.98 473.34 L255.99 474.13 L255.99 474.92 L256 475.71 L256 476.49 L256 477.28 L256 478.07 L255.99 478.86 L255.99 479.64 L255.98 480.43 L255.97 481.22 L255.96 482.01 L255.94 482.8 L255.93 483.58 L255.91 484.37 L255.89 485.16 L255.83 485.95 L255.72 486.73 L255.57 487.52 L255.4 488.31 L255.2 489.1 L255 489.88 L254.79 490.67 L254.58 491.46 L254.37 492.25 L254.13 493.03 L253.87 493.82 L253.6 494.61 L253.31 495.4 L253.02 496.19 L252.72 496.97 L252.42 497.76 L252.14 498.55 L251.86 499.34 L251.59 500.12 L251.32 500.91 L251.06 501.7 L250.79 502.49 L250.53 503.27 L250.26 504.06 L249.99 504.85 L249.72 505.64 L249.45 506.42 L249.18 507.21 L248.9 508 L248.3 508 L248.02 507.21 L247.75 506.42 L247.48 505.64 L247.21 504.85 L246.94 504.06 L246.67 503.27 L246.41 502.49 L246.14 501.7 L245.88 500.91 L245.61 500.12 L245.34 499.34 L245.06 498.55 L244.78 497.76 L244.48 496.97 L244.18 496.19 L243.89 495.4 L243.6 494.61 L243.33 493.82 L243.07 493.03 L242.83 492.25 L242.62 491.46 L242.41 490.67 L242.2 489.88 L242 489.1 L241.8 488.31 L241.63 487.52 L241.48 486.73 L241.37 485.95 L241.31 485.16 L241.29 484.37 L241.27 483.58 L241.26 482.8 L241.24 482.01 L241.23 481.22 L241.22 480.43 L241.21 479.64 L241.21 478.86 L241.2 478.07 L241.2 477.28 L241.2 476.49 L241.2 475.71 L241.21 474.92 L241.21 474.13 L241.22 473.34 L241.23 472.56 L241.24 471.77 L241.25 470.98 L241.27 470.19 L241.28 469.41 L241.3 468.62 L241.34 467.83 L241.4 467.04 L241.48 466.26 L241.58 465.47 L241.7 464.68 L241.82 463.89 L241.95 463.1 L242.08 462.32 L242.22 461.53 L242.38 460.74 L242.57 459.95 L242.77 459.17 L242.98 458.38 L243.2 457.59 L243.43 456.8 L243.66 456.02 L243.88 455.23 L244.11 454.44 L244.32 453.65 L244.55 452.87 L244.78 452.08 L245.01 451.29 L245.25 450.5 L245.48 449.71 L245.71 448.93 L245.94 448.14 L246.15 447.35 L246.36 446.56 L246.55 445.78 L246.74 444.99 L246.92 444.2 L247.1 443.41 L247.27 442.63 L247.44 441.84 L247.61 441.05 L247.76 440.26 L247.92 439.48 L248.06 438.69 L248.2 437.9 Z" fill="#a9a431" stroke="#222" stroke-width="0.55" stroke-linejoin="round"/>
<line x1="248.6" y1="466.5" x2="248.6" y2="487" stroke="#000" stroke-width="1.2"/>
<circle cx="248.6" cy="476.6" r="1.6" fill="#000"/>
<line x1="265.9" y1="457.3" x2="265.9" y2="517.1" stroke="#2a2a2a" stroke-width="0.65"/>
<path d="M266.4 463.8 L266.5 464.4 L266.61 465 L266.73 465.6 L266.85 466.2 L266.98 466.79 L267.13 467.39 L267.27 467.99 L267.43 468.59 L267.59 469.19 L267.75 469.79 L267.93 470.39 L268.11 470.99 L268.32 471.59 L268.55 472.18 L268.78 472.78 L269.03 473.38 L269.29 473.98 L269.55 474.58 L269.81 475.18 L270.07 475.78 L270.33 476.38 L270.57 476.98 L270.8 477.57 L271.02 478.17 L271.23 478.77 L271.45 479.37 L271.68 479.97 L271.91 480.57 L272.14 481.17 L272.37 481.77 L272.6 482.37 L272.8 482.96 L272.99 483.56 L273.16 484.16 L273.3 484.76 L273.41 485.36 L273.47 485.96 L273.5 486.56 L273.5 487.16 L273.5 487.76 L273.5 488.35 L273.5 488.95 L273.5 489.55 L273.5 490.15 L273.5 490.75 L273.5 491.35 L273.48 491.95 L273.41 492.55 L273.3 493.14 L273.16 493.74 L272.98 494.34 L272.78 494.94 L272.56 495.54 L272.34 496.14 L272.1 496.74 L271.86 497.34 L271.63 497.94 L271.41 498.53 L271.21 499.13 L271.03 499.73 L270.86 500.33 L270.68 500.93 L270.51 501.53 L270.34 502.13 L270.16 502.73 L269.99 503.33 L269.82 503.92 L269.65 504.52 L269.47 505.12 L269.3 505.72 L269.12 506.32 L268.94 506.92 L268.76 507.52 L268.57 508.12 L268.37 508.72 L268.16 509.31 L267.95 509.91 L267.73 510.51 L267.52 511.11 L267.31 511.71 L267.12 512.31 L266.93 512.91 L266.77 513.51 L266.62 514.11 L266.49 514.7 L266.38 515.3 L266.27 515.9 L266.18 516.5 L266.1 517.1 L265.7 517.1 L265.62 516.5 L265.53 515.9 L265.42 515.3 L265.31 514.7 L265.18 514.11 L265.03 513.51 L264.87 512.91 L264.68 512.31 L264.49 511.71 L264.28 511.11 L264.07 510.51 L263.85 509.91 L263.64 509.31 L263.43 508.72 L263.23 508.12 L263.04 507.52 L262.86 506.92 L262.68 506.32 L262.5 505.72 L262.33 505.12 L262.15 504.52 L261.98 503.92 L261.81 503.33 L261.64 502.73 L261.46 502.13 L261.29 501.53 L261.12 500.93 L260.94 500.33 L260.77 499.73 L260.59 499.13 L260.39 498.53 L260.17 497.94 L259.94 497.34 L259.7 496.74 L259.46 496.14 L259.24 495.54 L259.02 494.94 L258.82 494.34 L258.64 493.74 L258.5 493.14 L258.39 492.55 L258.32 491.95 L258.3 491.35 L258.3 490.75 L258.3 490.15 L258.3 489.55 L258.3 488.95 L258.3 488.35 L258.3 487.76 L258.3 487.16 L258.3 486.56 L258.33 485.96 L258.39 485.36 L258.5 484.76 L258.64 484.16 L258.81 483.56 L259 482.96 L259.2 482.37 L259.43 481.77 L259.66 481.17 L259.89 480.57 L260.12 479.97 L260.35 479.37 L260.57 478.77 L260.78 478.17 L261 477.57 L261.23 476.98 L261.47 476.38 L261.73 475.78 L261.99 475.18 L262.25 474.58 L262.51 473.98 L262.77 473.38 L263.02 472.78 L263.25 472.18 L263.48 471.59 L263.69 470.99 L263.87 470.39 L264.05 469.79 L264.21 469.19 L264.37 468.59 L264.53 467.99 L264.67 467.39 L264.82 466.79 L264.95 466.2 L265.07 465.6 L265.19 465 L265.3 464.4 L265.4 463.8 Z" fill="#6aaa3a" stroke="#222" stroke-width="0.55" stroke-linejoin="round"/>
<line x1="265.9" y1="482" x2="265.9" y2="497.3" stroke="#000" stroke-width="1.2"/>
<circle cx="265.9" cy="489.5" r="1.6" fill="#000"/>
<line x1="283" y1="436.9" x2="283" y2="507.2" stroke="#2a2a2a" stroke-width="0.65"/>
<path d="M283.3 436.9 L283.42 437.53 L283.54 438.16 L283.67 438.79 L283.8 439.42 L283.93 440.05 L284.07 440.68 L284.21 441.31 L284.35 441.94 L284.5 442.57 L284.65 443.2 L284.81 443.83 L284.96 444.46 L285.12 445.09 L285.28 445.72 L285.46 446.36 L285.64 446.99 L285.83 447.62 L286.03 448.25 L286.23 448.88 L286.43 449.51 L286.63 450.14 L286.83 450.77 L287.02 451.4 L287.2 452.03 L287.38 452.66 L287.55 453.29 L287.71 453.92 L287.88 454.55 L288.05 455.18 L288.21 455.81 L288.37 456.44 L288.53 457.07 L288.68 457.7 L288.82 458.33 L288.95 458.96 L289.08 459.59 L289.19 460.22 L289.29 460.85 L289.39 461.48 L289.48 462.11 L289.58 462.74 L289.68 463.37 L289.77 464 L289.86 464.63 L289.94 465.27 L290.02 465.9 L290.09 466.53 L290.15 467.16 L290.21 467.79 L290.25 468.42 L290.28 469.05 L290.3 469.68 L290.3 470.31 L290.27 470.94 L290.21 471.57 L290.12 472.2 L290 472.83 L289.87 473.46 L289.71 474.09 L289.54 474.72 L289.36 475.35 L289.17 475.98 L288.97 476.61 L288.77 477.24 L288.58 477.87 L288.35 478.5 L288.06 479.13 L287.75 479.76 L287.4 480.39 L287.04 481.02 L286.68 481.65 L286.32 482.28 L285.99 482.91 L285.69 483.54 L285.43 484.18 L285.19 484.81 L284.96 485.44 L284.74 486.07 L284.53 486.7 L284.34 487.33 L284.16 487.96 L284 488.59 L283.85 489.22 L283.71 489.85 L283.58 490.48 L283.48 491.11 L283.4 491.74 L283.34 492.37 L283.3 493 L282.7 493 L282.66 492.37 L282.6 491.74 L282.52 491.11 L282.42 490.48 L282.29 489.85 L282.15 489.22 L282 488.59 L281.84 487.96 L281.66 487.33 L281.47 486.7 L281.26 486.07 L281.04 485.44 L280.81 484.81 L280.57 484.18 L280.31 483.54 L280.01 482.91 L279.68 482.28 L279.32 481.65 L278.96 481.02 L278.6 480.39 L278.25 479.76 L277.94 479.13 L277.65 478.5 L277.42 477.87 L277.23 477.24 L277.03 476.61 L276.83 475.98 L276.64 475.35 L276.46 474.72 L276.29 474.09 L276.13 473.46 L276 472.83 L275.88 472.2 L275.79 471.57 L275.73 470.94 L275.7 470.31 L275.7 469.68 L275.72 469.05 L275.75 468.42 L275.79 467.79 L275.85 467.16 L275.91 466.53 L275.98 465.9 L276.06 465.27 L276.14 464.63 L276.23 464 L276.32 463.37 L276.42 462.74 L276.52 462.11 L276.61 461.48 L276.71 460.85 L276.81 460.22 L276.92 459.59 L277.05 458.96 L277.18 458.33 L277.32 457.7 L277.47 457.07 L277.63 456.44 L277.79 455.81 L277.95 455.18 L278.12 454.55 L278.29 453.92 L278.45 453.29 L278.62 452.66 L278.8 452.03 L278.98 451.4 L279.17 450.77 L279.37 450.14 L279.57 449.51 L279.77 448.88 L279.97 448.25 L280.17 447.62 L280.36 446.99 L280.54 446.36 L280.72 445.72 L280.88 445.09 L281.04 444.46 L281.19 443.83 L281.35 443.2 L281.5 442.57 L281.65 441.94 L281.79 441.31 L281.93 440.68 L282.07 440.05 L282.2 439.42 L282.33 438.79 L282.46 438.16 L282.58 437.53 L282.7 436.9 Z" fill="#63b9c6" stroke="#222" stroke-width="0.55" stroke-linejoin="round"/>
<line x1="283" y1="460.3" x2="283" y2="476.6" stroke="#000" stroke-width="1.2"/>
<circle cx="283" cy="468.4" r="1.6" fill="#000"/>
<line x1="300.2" y1="458.5" x2="300.2" y2="518" stroke="#2a2a2a" stroke-width="0.65"/>
<path d="M300.7 467 L300.9 467.57 L301.1 468.15 L301.31 468.72 L301.52 469.29 L301.73 469.87 L301.94 470.44 L302.16 471.01 L302.37 471.58 L302.59 472.16 L302.82 472.73 L303.04 473.3 L303.28 473.88 L303.53 474.45 L303.79 475.02 L304.05 475.6 L304.32 476.17 L304.58 476.74 L304.83 477.31 L305.07 477.89 L305.29 478.46 L305.49 479.03 L305.66 479.61 L305.83 480.18 L305.99 480.75 L306.15 481.33 L306.31 481.9 L306.46 482.47 L306.61 483.04 L306.74 483.62 L306.87 484.19 L306.98 484.76 L307.08 485.34 L307.17 485.91 L307.24 486.48 L307.3 487.06 L307.34 487.63 L307.38 488.2 L307.42 488.78 L307.46 489.35 L307.49 489.92 L307.53 490.49 L307.55 491.07 L307.57 491.64 L307.59 492.21 L307.6 492.79 L307.6 493.36 L307.58 493.93 L307.53 494.51 L307.46 495.08 L307.36 495.65 L307.25 496.22 L307.12 496.8 L306.99 497.37 L306.85 497.94 L306.71 498.52 L306.57 499.09 L306.44 499.66 L306.3 500.24 L306.15 500.81 L306 501.38 L305.83 501.96 L305.66 502.53 L305.48 503.1 L305.3 503.67 L305.11 504.25 L304.92 504.82 L304.72 505.39 L304.53 505.97 L304.33 506.54 L304.13 507.11 L303.93 507.69 L303.71 508.26 L303.48 508.83 L303.24 509.4 L303 509.98 L302.75 510.55 L302.52 511.12 L302.28 511.7 L302.06 512.27 L301.85 512.84 L301.66 513.42 L301.48 513.99 L301.31 514.56 L301.14 515.13 L300.98 515.71 L300.82 516.28 L300.67 516.85 L300.53 517.43 L300.4 518 L300 518 L299.87 517.43 L299.73 516.85 L299.58 516.28 L299.42 515.71 L299.26 515.13 L299.09 514.56 L298.92 513.99 L298.74 513.42 L298.55 512.84 L298.34 512.27 L298.12 511.7 L297.88 511.12 L297.65 510.55 L297.4 509.98 L297.16 509.4 L296.92 508.83 L296.69 508.26 L296.47 507.69 L296.27 507.11 L296.07 506.54 L295.87 505.97 L295.68 505.39 L295.48 504.82 L295.29 504.25 L295.1 503.67 L294.92 503.1 L294.74 502.53 L294.57 501.96 L294.4 501.38 L294.25 500.81 L294.1 500.24 L293.96 499.66 L293.83 499.09 L293.69 498.52 L293.55 497.94 L293.41 497.37 L293.28 496.8 L293.15 496.22 L293.04 495.65 L292.94 495.08 L292.87 494.51 L292.82 493.93 L292.8 493.36 L292.8 492.79 L292.81 492.21 L292.83 491.64 L292.85 491.07 L292.87 490.49 L292.91 489.92 L292.94 489.35 L292.98 488.78 L293.02 488.2 L293.06 487.63 L293.1 487.06 L293.16 486.48 L293.23 485.91 L293.32 485.34 L293.42 484.76 L293.53 484.19 L293.66 483.62 L293.79 483.04 L293.94 482.47 L294.09 481.9 L294.25 481.33 L294.41 480.75 L294.57 480.18 L294.74 479.61 L294.91 479.03 L295.11 478.46 L295.33 477.89 L295.57 477.31 L295.82 476.74 L296.08 476.17 L296.35 475.6 L296.61 475.02 L296.87 474.45 L297.12 473.88 L297.36 473.3 L297.58 472.73 L297.81 472.16 L298.03 471.58 L298.24 471.01 L298.46 470.44 L298.67 469.87 L298.88 469.29 L299.09 468.72 L299.3 468.15 L299.5 467.57 L299.7 467 Z" fill="#6a9fe0" stroke="#222" stroke-width="0.55" stroke-linejoin="round"/>
<line x1="300.2" y1="484" x2="300.2" y2="497.7" stroke="#000" stroke-width="1.2"/>
<circle cx="300.2" cy="490.5" r="1.6" fill="#000"/>
<line x1="317.5" y1="433.1" x2="317.5" y2="514.9" stroke="#2a2a2a" stroke-width="0.65"/>
<path d="M317.9 453.1 L317.97 453.72 L318.06 454.33 L318.15 454.95 L318.26 455.57 L318.37 456.18 L318.5 456.8 L318.63 457.42 L318.77 458.03 L318.92 458.65 L319.07 459.27 L319.23 459.89 L319.39 460.5 L319.56 461.12 L319.76 461.74 L319.98 462.35 L320.23 462.97 L320.5 463.59 L320.78 464.2 L321.06 464.82 L321.34 465.44 L321.62 466.05 L321.89 466.67 L322.14 467.29 L322.37 467.9 L322.58 468.52 L322.76 469.14 L322.94 469.76 L323.12 470.37 L323.29 470.99 L323.45 471.61 L323.61 472.22 L323.77 472.84 L323.91 473.46 L324.04 474.07 L324.16 474.69 L324.26 475.31 L324.35 475.92 L324.43 476.54 L324.5 477.16 L324.57 477.77 L324.64 478.39 L324.7 479.01 L324.76 479.62 L324.81 480.24 L324.85 480.86 L324.88 481.48 L324.9 482.09 L324.9 482.71 L324.88 483.33 L324.84 483.94 L324.78 484.56 L324.7 485.18 L324.6 485.79 L324.5 486.41 L324.38 487.03 L324.26 487.64 L324.12 488.26 L323.99 488.88 L323.85 489.49 L323.72 490.11 L323.58 490.73 L323.41 491.34 L323.22 491.96 L323.01 492.58 L322.79 493.2 L322.56 493.81 L322.32 494.43 L322.08 495.05 L321.83 495.66 L321.59 496.28 L321.36 496.9 L321.13 497.51 L320.92 498.13 L320.71 498.75 L320.51 499.36 L320.3 499.98 L320.1 500.6 L319.89 501.21 L319.69 501.83 L319.49 502.45 L319.29 503.07 L319.1 503.68 L318.9 504.3 L318.71 504.92 L318.52 505.53 L318.33 506.15 L318.15 506.77 L317.98 507.38 L317.8 508 L317.2 508 L317.02 507.38 L316.85 506.77 L316.67 506.15 L316.48 505.53 L316.29 504.92 L316.1 504.3 L315.9 503.68 L315.71 503.07 L315.51 502.45 L315.31 501.83 L315.11 501.21 L314.9 500.6 L314.7 499.98 L314.49 499.36 L314.29 498.75 L314.08 498.13 L313.87 497.51 L313.64 496.9 L313.41 496.28 L313.17 495.66 L312.92 495.05 L312.68 494.43 L312.44 493.81 L312.21 493.2 L311.99 492.58 L311.78 491.96 L311.59 491.34 L311.42 490.73 L311.28 490.11 L311.15 489.49 L311.01 488.88 L310.88 488.26 L310.74 487.64 L310.62 487.03 L310.5 486.41 L310.4 485.79 L310.3 485.18 L310.22 484.56 L310.16 483.94 L310.12 483.33 L310.1 482.71 L310.1 482.09 L310.12 481.48 L310.15 480.86 L310.19 480.24 L310.24 479.62 L310.3 479.01 L310.36 478.39 L310.43 477.77 L310.5 477.16 L310.57 476.54 L310.65 475.92 L310.74 475.31 L310.84 474.69 L310.96 474.07 L311.09 473.46 L311.23 472.84 L311.39 472.22 L311.55 471.61 L311.71 470.99 L311.88 470.37 L312.06 469.76 L312.24 469.14 L312.42 468.52 L312.63 467.9 L312.86 467.29 L313.11 466.67 L313.38 466.05 L313.66 465.44 L313.94 464.82 L314.22 464.2 L314.5 463.59 L314.77 462.97 L315.02 462.35 L315.24 461.74 L315.44 461.12 L315.61 460.5 L315.77 459.89 L315.93 459.27 L316.08 458.65 L316.23 458.03 L316.37 457.42 L316.5 456.8 L316.63 456.18 L316.74 455.57 L316.85 454.95 L316.94 454.33 L317.03 453.72 L317.1 453.1 Z" fill="#a474be" stroke="#222" stroke-width="0.55" stroke-linejoin="round"/>
<line x1="317.5" y1="475.8" x2="317.5" y2="490.3" stroke="#000" stroke-width="1.2"/>
<circle cx="317.5" cy="483" r="1.6" fill="#000"/>
<text transform="translate(181 469) rotate(-89.9)" font-size="8" text-anchor="middle" fill="#1a1a1a" stroke="#1a1a1a" stroke-width="0.4" textLength="60" lengthAdjust="spacingAndGlyphs">CD56<tspan font-size="4.96" dy="-2.2">bright</tspan><tspan dy="2.2"> module score</tspan></text>
<rect x="223.8" y="560.8" width="16.88" height="7.6" fill="#fff" stroke="#1a1a1a" stroke-width="0.85"/>
<rect x="228.24" y="564.1" width="1.25" height="1.3" fill="#333"/>
<rect x="230.49" y="564.1" width="1.25" height="1.3" fill="#333"/>
<rect x="232.74" y="564.1" width="1.25" height="1.3" fill="#333"/>
<rect x="234.99" y="564.1" width="1.25" height="1.3" fill="#333"/>
<rect x="240.68" y="560.8" width="16.88" height="7.6" fill="#fff" stroke="#1a1a1a" stroke-width="0.85"/>
<rect x="245.12" y="564.1" width="1.25" height="1.3" fill="#333"/>
<rect x="247.37" y="564.1" width="1.25" height="1.3" fill="#333"/>
<rect x="249.62" y="564.1" width="1.25" height="1.3" fill="#333"/>
<rect x="251.87" y="564.1" width="1.25" height="1.3" fill="#333"/>
<rect x="257.56" y="560.8" width="16.88" height="7.6" fill="#fff" stroke="#1a1a1a" stroke-width="0.85"/>
<text x="266" y="566.4" font-size="6" text-anchor="middle" fill="#222" stroke="#222" stroke-width="0.15">n.s</text>
<rect x="274.44" y="560.8" width="16.88" height="7.6" fill="#fff" stroke="#1a1a1a" stroke-width="0.85"/>
<rect x="278.88" y="564.1" width="1.25" height="1.3" fill="#333"/>
<rect x="281.13" y="564.1" width="1.25" height="1.3" fill="#333"/>
<rect x="283.38" y="564.1" width="1.25" height="1.3" fill="#333"/>
<rect x="285.63" y="564.1" width="1.25" height="1.3" fill="#333"/>
<rect x="291.32" y="560.8" width="16.88" height="7.6" fill="#fff" stroke="#1a1a1a" stroke-width="0.85"/>
<text x="299.76" y="566.4" font-size="6" text-anchor="middle" fill="#222" stroke="#222" stroke-width="0.15">n.s</text>
<rect x="308.2" y="560.8" width="16.88" height="7.6" fill="#fff" stroke="#1a1a1a" stroke-width="0.85"/>
<rect x="312.64" y="564.1" width="1.25" height="1.3" fill="#333"/>
<rect x="314.89" y="564.1" width="1.25" height="1.3" fill="#333"/>
<rect x="317.14" y="564.1" width="1.25" height="1.3" fill="#333"/>
<rect x="319.39" y="564.1" width="1.25" height="1.3" fill="#333"/>
<rect x="240.68" y="568.4" width="16.88" height="7.6" fill="#fff" stroke="#1a1a1a" stroke-width="0.85"/>
<rect x="245.12" y="571.7" width="1.25" height="1.3" fill="#333"/>
<rect x="247.37" y="571.7" width="1.25" height="1.3" fill="#333"/>
<rect x="249.62" y="571.7" width="1.25" height="1.3" fill="#333"/>
<rect x="251.87" y="571.7" width="1.25" height="1.3" fill="#333"/>
<rect x="257.56" y="568.4" width="16.88" height="7.6" fill="#fff" stroke="#1a1a1a" stroke-width="0.85"/>
<rect x="263.12" y="571.7" width="1.25" height="1.3" fill="#333"/>
<rect x="265.38" y="571.7" width="1.25" height="1.3" fill="#333"/>
<rect x="267.62" y="571.7" width="1.25" height="1.3" fill="#333"/>
<rect x="274.44" y="568.4" width="16.88" height="7.6" fill="#fff" stroke="#1a1a1a" stroke-width="0.85"/>
<rect x="278.88" y="571.7" width="1.25" height="1.3" fill="#333"/>
<rect x="281.13" y="571.7" width="1.25" height="1.3" fill="#333"/>
<rect x="283.38" y="571.7" width="1.25" height="1.3" fill="#333"/>
<rect x="285.63" y="571.7" width="1.25" height="1.3" fill="#333"/>
<rect x="291.32" y="568.4" width="16.88" height="7.6" fill="#fff" stroke="#1a1a1a" stroke-width="0.85"/>
<rect x="296.88" y="571.7" width="1.25" height="1.3" fill="#333"/>
<rect x="299.13" y="571.7" width="1.25" height="1.3" fill="#333"/>
<rect x="301.38" y="571.7" width="1.25" height="1.3" fill="#333"/>
<rect x="308.2" y="568.4" width="16.88" height="7.6" fill="#fff" stroke="#1a1a1a" stroke-width="0.85"/>
<rect x="316.01" y="571.7" width="1.25" height="1.3" fill="#333"/>
<rect x="257.56" y="576" width="16.88" height="7.6" fill="#fff" stroke="#1a1a1a" stroke-width="0.85"/>
<rect x="262" y="579.3" width="1.25" height="1.3" fill="#333"/>
<rect x="264.25" y="579.3" width="1.25" height="1.3" fill="#333"/>
<rect x="266.5" y="579.3" width="1.25" height="1.3" fill="#333"/>
<rect x="268.75" y="579.3" width="1.25" height="1.3" fill="#333"/>
<rect x="274.44" y="576" width="16.88" height="7.6" fill="#fff" stroke="#1a1a1a" stroke-width="0.85"/>
<rect x="278.88" y="579.3" width="1.25" height="1.3" fill="#333"/>
<rect x="281.13" y="579.3" width="1.25" height="1.3" fill="#333"/>
<rect x="283.38" y="579.3" width="1.25" height="1.3" fill="#333"/>
<rect x="285.63" y="579.3" width="1.25" height="1.3" fill="#333"/>
<rect x="291.32" y="576" width="16.88" height="7.6" fill="#fff" stroke="#1a1a1a" stroke-width="0.85"/>
<rect x="295.76" y="579.3" width="1.25" height="1.3" fill="#333"/>
<rect x="298.01" y="579.3" width="1.25" height="1.3" fill="#333"/>
<rect x="300.26" y="579.3" width="1.25" height="1.3" fill="#333"/>
<rect x="302.51" y="579.3" width="1.25" height="1.3" fill="#333"/>
<rect x="308.2" y="576" width="16.88" height="7.6" fill="#fff" stroke="#1a1a1a" stroke-width="0.85"/>
<rect x="313.76" y="579.3" width="1.25" height="1.3" fill="#333"/>
<rect x="316.01" y="579.3" width="1.25" height="1.3" fill="#333"/>
<rect x="318.26" y="579.3" width="1.25" height="1.3" fill="#333"/>
<rect x="274.44" y="583.6" width="16.88" height="7.6" fill="#fff" stroke="#1a1a1a" stroke-width="0.85"/>
<rect x="278.88" y="586.9" width="1.25" height="1.3" fill="#333"/>
<rect x="281.13" y="586.9" width="1.25" height="1.3" fill="#333"/>
<rect x="283.38" y="586.9" width="1.25" height="1.3" fill="#333"/>
<rect x="285.63" y="586.9" width="1.25" height="1.3" fill="#333"/>
<rect x="291.32" y="583.6" width="16.88" height="7.6" fill="#fff" stroke="#1a1a1a" stroke-width="0.85"/>
<text x="299.76" y="589.2" font-size="6" text-anchor="middle" fill="#222" stroke="#222" stroke-width="0.15">n.s</text>
<rect x="308.2" y="583.6" width="16.88" height="7.6" fill="#fff" stroke="#1a1a1a" stroke-width="0.85"/>
<rect x="312.64" y="586.9" width="1.25" height="1.3" fill="#333"/>
<rect x="314.89" y="586.9" width="1.25" height="1.3" fill="#333"/>
<rect x="317.14" y="586.9" width="1.25" height="1.3" fill="#333"/>
<rect x="319.39" y="586.9" width="1.25" height="1.3" fill="#333"/>
<rect x="291.32" y="591.2" width="16.88" height="7.6" fill="#fff" stroke="#1a1a1a" stroke-width="0.85"/>
<rect x="295.76" y="594.5" width="1.25" height="1.3" fill="#333"/>
<rect x="298.01" y="594.5" width="1.25" height="1.3" fill="#333"/>
<rect x="300.26" y="594.5" width="1.25" height="1.3" fill="#333"/>
<rect x="302.51" y="594.5" width="1.25" height="1.3" fill="#333"/>
<rect x="308.2" y="591.2" width="16.88" height="7.6" fill="#fff" stroke="#1a1a1a" stroke-width="0.85"/>
<rect x="312.64" y="594.5" width="1.25" height="1.3" fill="#333"/>
<rect x="314.89" y="594.5" width="1.25" height="1.3" fill="#333"/>
<rect x="317.14" y="594.5" width="1.25" height="1.3" fill="#333"/>
<rect x="319.39" y="594.5" width="1.25" height="1.3" fill="#333"/>
<rect x="308.2" y="598.8" width="16.88" height="7.7" fill="#fff" stroke="#1a1a1a" stroke-width="0.85"/>
<rect x="312.64" y="602.1" width="1.25" height="1.3" fill="#333"/>
<rect x="314.89" y="602.1" width="1.25" height="1.3" fill="#333"/>
<rect x="317.14" y="602.1" width="1.25" height="1.3" fill="#333"/>
<rect x="319.39" y="602.1" width="1.25" height="1.3" fill="#333"/>
<line x1="367.6" y1="410.5" x2="367.6" y2="527.7" stroke="#000" stroke-width="1.05"/>
<line x1="367.2" y1="527.3" x2="488.8" y2="527.3" stroke="#000" stroke-width="1.05"/>
<line x1="364.8" y1="433.3" x2="367.6" y2="433.3" stroke="#111" stroke-width="0.9"/>
<text x="362.4" y="435.4" font-size="6" text-anchor="end" fill="#1a1a1a" stroke="#1a1a1a" stroke-width="0.15">0.4</text>
<line x1="364.8" y1="463" x2="367.6" y2="463" stroke="#111" stroke-width="0.9"/>
<text x="362.4" y="465.1" font-size="6" text-anchor="end" fill="#1a1a1a" stroke="#1a1a1a" stroke-width="0.15">0.2</text>
<line x1="364.8" y1="492.7" x2="367.6" y2="492.7" stroke="#111" stroke-width="0.9"/>
<text x="362.4" y="494.8" font-size="6" text-anchor="end" fill="#1a1a1a" stroke="#1a1a1a" stroke-width="0.15">0.0</text>
<line x1="364.8" y1="522.3" x2="367.6" y2="522.3" stroke="#111" stroke-width="0.9"/>
<text x="362.4" y="524.4" font-size="6" text-anchor="end" fill="#1a1a1a" stroke="#1a1a1a" stroke-width="0.15">−0.2</text>
<line x1="377.6" y1="527.3" x2="377.6" y2="530.3" stroke="#111" stroke-width="0.9"/>
<line x1="394.9" y1="527.3" x2="394.9" y2="530.3" stroke="#111" stroke-width="0.9"/>
<line x1="412" y1="527.3" x2="412" y2="530.3" stroke="#111" stroke-width="0.9"/>
<line x1="429.3" y1="527.3" x2="429.3" y2="530.3" stroke="#111" stroke-width="0.9"/>
<line x1="446.5" y1="527.3" x2="446.5" y2="530.3" stroke="#111" stroke-width="0.9"/>
<line x1="463.8" y1="527.3" x2="463.8" y2="530.3" stroke="#111" stroke-width="0.9"/>
<line x1="480.8" y1="527.3" x2="480.8" y2="530.3" stroke="#111" stroke-width="0.9"/>
<text x="0" y="0" font-size="6.2" text-anchor="end" fill="#1a1a1a" stroke="#1a1a1a" stroke-width="0.15" transform="translate(379.9 532.7) rotate(-89.9) scale(1 1.2)">Cluster0</text>
<text x="0" y="0" font-size="6.2" text-anchor="end" fill="#1a1a1a" stroke="#1a1a1a" stroke-width="0.15" transform="translate(397.2 532.7) rotate(-89.9) scale(1 1.2)">Cluster1</text>
<text x="0" y="0" font-size="6.2" text-anchor="end" fill="#1a1a1a" stroke="#1a1a1a" stroke-width="0.15" transform="translate(414.3 532.7) rotate(-89.9) scale(1 1.2)">Cluster2</text>
<text x="0" y="0" font-size="6.2" text-anchor="end" fill="#1a1a1a" stroke="#1a1a1a" stroke-width="0.15" transform="translate(431.6 532.7) rotate(-89.9) scale(1 1.2)">Cluster3</text>
<text x="0" y="0" font-size="6.2" text-anchor="end" fill="#1a1a1a" stroke="#1a1a1a" stroke-width="0.15" transform="translate(448.8 532.7) rotate(-89.9) scale(1 1.2)">Cluster4</text>
<text x="0" y="0" font-size="6.2" text-anchor="end" fill="#1a1a1a" stroke="#1a1a1a" stroke-width="0.15" transform="translate(466.1 532.7) rotate(-89.9) scale(1 1.2)">Cluster6</text>
<text x="0" y="0" font-size="6.2" text-anchor="end" fill="#1a1a1a" stroke="#1a1a1a" stroke-width="0.15" transform="translate(483.1 532.7) rotate(-89.9) scale(1 1.2)">Cluster8</text>
<line x1="377.6" y1="415.8" x2="377.6" y2="521.5" stroke="#2a2a2a" stroke-width="0.65"/>
<path d="M378 463.5 L378.14 464.09 L378.28 464.68 L378.43 465.27 L378.59 465.86 L378.74 466.45 L378.9 467.04 L379.07 467.63 L379.24 468.22 L379.41 468.81 L379.59 469.4 L379.77 469.99 L379.96 470.58 L380.15 471.17 L380.36 471.76 L380.58 472.35 L380.81 472.94 L381.04 473.53 L381.27 474.12 L381.5 474.71 L381.72 475.3 L381.94 475.89 L382.14 476.48 L382.33 477.07 L382.5 477.66 L382.67 478.25 L382.84 478.84 L383 479.43 L383.16 480.02 L383.32 480.61 L383.46 481.2 L383.61 481.79 L383.74 482.38 L383.86 482.97 L383.98 483.56 L384.09 484.15 L384.19 484.74 L384.3 485.33 L384.41 485.92 L384.52 486.51 L384.62 487.1 L384.72 487.69 L384.82 488.28 L384.91 488.87 L384.99 489.46 L385.06 490.04 L385.11 490.63 L385.16 491.22 L385.19 491.81 L385.2 492.4 L385.19 492.99 L385.15 493.58 L385.07 494.17 L384.98 494.76 L384.86 495.35 L384.73 495.94 L384.59 496.53 L384.43 497.12 L384.27 497.71 L384.1 498.3 L383.94 498.89 L383.78 499.48 L383.61 500.07 L383.41 500.66 L383.2 501.25 L382.98 501.84 L382.74 502.43 L382.5 503.02 L382.24 503.61 L381.99 504.2 L381.73 504.79 L381.48 505.38 L381.23 505.97 L380.99 506.56 L380.74 507.15 L380.48 507.74 L380.22 508.33 L379.96 508.92 L379.7 509.51 L379.45 510.1 L379.21 510.69 L378.98 511.28 L378.78 511.87 L378.58 512.46 L378.39 513.05 L378.22 513.64 L378.08 514.23 L377.96 514.82 L377.87 515.41 L377.8 516 L377.4 516 L377.33 515.41 L377.24 514.82 L377.12 514.23 L376.98 513.64 L376.81 513.05 L376.62 512.46 L376.42 511.87 L376.22 511.28 L375.99 510.69 L375.75 510.1 L375.5 509.51 L375.24 508.92 L374.98 508.33 L374.72 507.74 L374.46 507.15 L374.21 506.56 L373.97 505.97 L373.72 505.38 L373.47 504.79 L373.21 504.2 L372.96 503.61 L372.7 503.02 L372.46 502.43 L372.22 501.84 L372 501.25 L371.79 500.66 L371.59 500.07 L371.42 499.48 L371.26 498.89 L371.1 498.3 L370.93 497.71 L370.77 497.12 L370.61 496.53 L370.47 495.94 L370.34 495.35 L370.22 494.76 L370.13 494.17 L370.05 493.58 L370.01 492.99 L370 492.4 L370.01 491.81 L370.04 491.22 L370.09 490.63 L370.14 490.04 L370.21 489.46 L370.29 488.87 L370.38 488.28 L370.48 487.69 L370.58 487.1 L370.68 486.51 L370.79 485.92 L370.9 485.33 L371.01 484.74 L371.11 484.15 L371.22 483.56 L371.34 482.97 L371.46 482.38 L371.59 481.79 L371.74 481.2 L371.88 480.61 L372.04 480.02 L372.2 479.43 L372.36 478.84 L372.53 478.25 L372.7 477.66 L372.87 477.07 L373.06 476.48 L373.26 475.89 L373.48 475.3 L373.7 474.71 L373.93 474.12 L374.16 473.53 L374.39 472.94 L374.62 472.35 L374.84 471.76 L375.05 471.17 L375.24 470.58 L375.43 469.99 L375.61 469.4 L375.79 468.81 L375.96 468.22 L376.13 467.63 L376.3 467.04 L376.46 466.45 L376.61 465.86 L376.77 465.27 L376.92 464.68 L377.06 464.09 L377.2 463.5 Z" fill="#e07672" stroke="#222" stroke-width="0.55" stroke-linejoin="round"/>
<line x1="377.6" y1="484.6" x2="377.6" y2="497.7" stroke="#000" stroke-width="1.2"/>
<circle cx="377.6" cy="491.4" r="1.6" fill="#000"/>
<line x1="394.9" y1="450.4" x2="394.9" y2="516" stroke="#2a2a2a" stroke-width="0.65"/>
<path d="M395.3 462.1 L395.41 462.62 L395.53 463.14 L395.66 463.66 L395.78 464.19 L395.92 464.71 L396.06 465.23 L396.2 465.75 L396.35 466.27 L396.51 466.79 L396.66 467.31 L396.83 467.83 L396.99 468.36 L397.16 468.88 L397.34 469.4 L397.53 469.92 L397.73 470.44 L397.94 470.96 L398.16 471.48 L398.39 472.01 L398.62 472.53 L398.85 473.05 L399.07 473.57 L399.3 474.09 L399.51 474.61 L399.72 475.13 L399.91 475.66 L400.1 476.18 L400.28 476.7 L400.47 477.22 L400.66 477.74 L400.85 478.26 L401.04 478.78 L401.21 479.3 L401.39 479.83 L401.55 480.35 L401.69 480.87 L401.83 481.39 L401.95 481.91 L402.04 482.43 L402.12 482.95 L402.19 483.48 L402.26 484 L402.33 484.52 L402.39 485.04 L402.44 485.56 L402.47 486.08 L402.49 486.6 L402.5 487.12 L402.47 487.65 L402.41 488.17 L402.33 488.69 L402.22 489.21 L402.08 489.73 L401.93 490.25 L401.77 490.77 L401.6 491.3 L401.42 491.82 L401.23 492.34 L401.05 492.86 L400.87 493.38 L400.7 493.9 L400.53 494.42 L400.34 494.94 L400.14 495.47 L399.93 495.99 L399.72 496.51 L399.49 497.03 L399.27 497.55 L399.04 498.07 L398.81 498.59 L398.59 499.12 L398.37 499.64 L398.15 500.16 L397.95 500.68 L397.75 501.2 L397.55 501.72 L397.35 502.24 L397.16 502.77 L396.96 503.29 L396.77 503.81 L396.59 504.33 L396.4 504.85 L396.22 505.37 L396.04 505.89 L395.86 506.41 L395.69 506.94 L395.52 507.46 L395.36 507.98 L395.2 508.5 L394.6 508.5 L394.44 507.98 L394.28 507.46 L394.11 506.94 L393.94 506.41 L393.76 505.89 L393.58 505.37 L393.4 504.85 L393.21 504.33 L393.03 503.81 L392.84 503.29 L392.64 502.77 L392.45 502.24 L392.25 501.72 L392.05 501.2 L391.85 500.68 L391.65 500.16 L391.43 499.64 L391.21 499.12 L390.99 498.59 L390.76 498.07 L390.53 497.55 L390.31 497.03 L390.08 496.51 L389.87 495.99 L389.66 495.47 L389.46 494.94 L389.27 494.42 L389.1 493.9 L388.93 493.38 L388.75 492.86 L388.57 492.34 L388.38 491.82 L388.2 491.3 L388.03 490.77 L387.87 490.25 L387.72 489.73 L387.58 489.21 L387.47 488.69 L387.39 488.17 L387.33 487.65 L387.3 487.12 L387.31 486.6 L387.33 486.08 L387.36 485.56 L387.41 485.04 L387.47 484.52 L387.54 484 L387.61 483.48 L387.68 482.95 L387.76 482.43 L387.85 481.91 L387.97 481.39 L388.11 480.87 L388.25 480.35 L388.41 479.83 L388.59 479.3 L388.76 478.78 L388.95 478.26 L389.14 477.74 L389.33 477.22 L389.52 476.7 L389.7 476.18 L389.89 475.66 L390.08 475.13 L390.29 474.61 L390.5 474.09 L390.73 473.57 L390.95 473.05 L391.18 472.53 L391.41 472.01 L391.64 471.48 L391.86 470.96 L392.07 470.44 L392.27 469.92 L392.46 469.4 L392.64 468.88 L392.81 468.36 L392.97 467.83 L393.14 467.31 L393.29 466.79 L393.45 466.27 L393.6 465.75 L393.74 465.23 L393.88 464.71 L394.02 464.19 L394.14 463.66 L394.27 463.14 L394.39 462.62 L394.5 462.1 Z" fill="#d5932a" stroke="#222" stroke-width="0.55" stroke-linejoin="round"/>
<line x1="394.9" y1="480.1" x2="394.9" y2="492.8" stroke="#000" stroke-width="1.2"/>
<circle cx="394.9" cy="487" r="1.6" fill="#000"/>
<line x1="412" y1="444" x2="412" y2="515.1" stroke="#2a2a2a" stroke-width="0.65"/>
<path d="M412.5 454.3 L412.67 454.94 L412.85 455.59 L413.03 456.23 L413.21 456.87 L413.4 457.51 L413.58 458.16 L413.77 458.8 L413.96 459.44 L414.16 460.08 L414.35 460.73 L414.55 461.37 L414.76 462.01 L414.97 462.66 L415.2 463.3 L415.42 463.94 L415.64 464.58 L415.87 465.23 L416.09 465.87 L416.31 466.51 L416.51 467.15 L416.71 467.8 L416.9 468.44 L417.09 469.08 L417.28 469.72 L417.47 470.37 L417.65 471.01 L417.84 471.65 L418.01 472.3 L418.18 472.94 L418.34 473.58 L418.49 474.22 L418.63 474.87 L418.76 475.51 L418.86 476.15 L418.96 476.79 L419.05 477.44 L419.14 478.08 L419.23 478.72 L419.31 479.37 L419.39 480.01 L419.46 480.65 L419.52 481.29 L419.56 481.94 L419.59 482.58 L419.6 483.22 L419.59 483.86 L419.57 484.51 L419.53 485.15 L419.48 485.79 L419.42 486.43 L419.34 487.08 L419.26 487.72 L419.17 488.36 L419.08 489.01 L418.98 489.65 L418.89 490.29 L418.77 490.93 L418.62 491.58 L418.45 492.22 L418.26 492.86 L418.06 493.5 L417.84 494.15 L417.62 494.79 L417.4 495.43 L417.17 496.08 L416.96 496.72 L416.75 497.36 L416.54 498 L416.33 498.65 L416.12 499.29 L415.9 499.93 L415.68 500.57 L415.46 501.22 L415.24 501.86 L415.03 502.5 L414.81 503.14 L414.6 503.79 L414.39 504.43 L414.19 505.07 L413.98 505.72 L413.78 506.36 L413.58 507 L413.38 507.64 L413.18 508.29 L412.99 508.93 L412.81 509.57 L412.63 510.21 L412.46 510.86 L412.3 511.5 L411.7 511.5 L411.54 510.86 L411.37 510.21 L411.19 509.57 L411.01 508.93 L410.82 508.29 L410.62 507.64 L410.42 507 L410.22 506.36 L410.02 505.72 L409.81 505.07 L409.61 504.43 L409.4 503.79 L409.19 503.14 L408.97 502.5 L408.76 501.86 L408.54 501.22 L408.32 500.57 L408.1 499.93 L407.88 499.29 L407.67 498.65 L407.46 498 L407.25 497.36 L407.04 496.72 L406.83 496.08 L406.6 495.43 L406.38 494.79 L406.16 494.15 L405.94 493.5 L405.74 492.86 L405.55 492.22 L405.38 491.58 L405.23 490.93 L405.11 490.29 L405.02 489.65 L404.92 489.01 L404.83 488.36 L404.74 487.72 L404.66 487.08 L404.58 486.43 L404.52 485.79 L404.47 485.15 L404.43 484.51 L404.41 483.86 L404.4 483.22 L404.41 482.58 L404.44 481.94 L404.48 481.29 L404.54 480.65 L404.61 480.01 L404.69 479.37 L404.77 478.72 L404.86 478.08 L404.95 477.44 L405.04 476.79 L405.14 476.15 L405.24 475.51 L405.37 474.87 L405.51 474.22 L405.66 473.58 L405.82 472.94 L405.99 472.3 L406.16 471.65 L406.35 471.01 L406.53 470.37 L406.72 469.72 L406.91 469.08 L407.1 468.44 L407.29 467.8 L407.49 467.15 L407.69 466.51 L407.91 465.87 L408.13 465.23 L408.36 464.58 L408.58 463.94 L408.8 463.3 L409.03 462.66 L409.24 462.01 L409.45 461.37 L409.65 460.73 L409.84 460.08 L410.04 459.44 L410.23 458.8 L410.42 458.16 L410.6 457.51 L410.79 456.87 L410.97 456.23 L411.15 455.59 L411.33 454.94 L411.5 454.3 Z" fill="#a9a431" stroke="#222" stroke-width="0.55" stroke-linejoin="round"/>
<line x1="412" y1="476.2" x2="412" y2="491.8" stroke="#000" stroke-width="1.2"/>
<circle cx="412" cy="484" r="1.6" fill="#000"/>
<line x1="429.3" y1="460.4" x2="429.3" y2="515.1" stroke="#2a2a2a" stroke-width="0.65"/>
<path d="M429.6 460.4 L430.01 461.01 L430.21 461.63 L430.26 462.24 L430.29 462.86 L430.31 463.47 L430.33 464.09 L430.35 464.7 L430.39 465.32 L430.46 465.93 L430.58 466.55 L430.74 467.16 L430.93 467.78 L431.15 468.39 L431.38 469 L431.62 469.62 L431.85 470.23 L432.08 470.85 L432.31 471.46 L432.57 472.08 L432.84 472.69 L433.11 473.31 L433.4 473.92 L433.67 474.54 L433.93 475.15 L434.18 475.77 L434.39 476.38 L434.59 476.99 L434.79 477.61 L434.98 478.22 L435.16 478.84 L435.34 479.45 L435.51 480.07 L435.67 480.68 L435.82 481.3 L435.95 481.91 L436.07 482.53 L436.18 483.14 L436.27 483.76 L436.36 484.37 L436.45 484.98 L436.53 485.6 L436.61 486.21 L436.68 486.83 L436.75 487.44 L436.81 488.06 L436.85 488.67 L436.88 489.29 L436.9 489.9 L436.9 490.52 L436.87 491.13 L436.82 491.74 L436.75 492.36 L436.67 492.97 L436.57 493.59 L436.45 494.2 L436.33 494.82 L436.2 495.43 L436.06 496.05 L435.92 496.66 L435.78 497.28 L435.62 497.89 L435.42 498.51 L435.2 499.12 L434.95 499.73 L434.69 500.35 L434.41 500.96 L434.12 501.58 L433.84 502.19 L433.56 502.81 L433.28 503.42 L433.03 504.04 L432.77 504.65 L432.51 505.27 L432.25 505.88 L431.98 506.5 L431.72 507.11 L431.47 507.72 L431.23 508.34 L431.01 508.95 L430.81 509.57 L430.63 510.18 L430.46 510.8 L430.29 511.41 L430.13 512.03 L429.98 512.64 L429.84 513.26 L429.72 513.87 L429.6 514.49 L429.5 515.1 L429.1 515.1 L429 514.49 L428.88 513.87 L428.76 513.26 L428.62 512.64 L428.47 512.03 L428.31 511.41 L428.14 510.8 L427.97 510.18 L427.79 509.57 L427.59 508.95 L427.37 508.34 L427.13 507.72 L426.88 507.11 L426.62 506.5 L426.35 505.88 L426.09 505.27 L425.83 504.65 L425.57 504.04 L425.32 503.42 L425.04 502.81 L424.76 502.19 L424.48 501.58 L424.19 500.96 L423.91 500.35 L423.65 499.73 L423.4 499.12 L423.18 498.51 L422.98 497.89 L422.82 497.28 L422.68 496.66 L422.54 496.05 L422.4 495.43 L422.27 494.82 L422.15 494.2 L422.03 493.59 L421.93 492.97 L421.85 492.36 L421.78 491.74 L421.73 491.13 L421.7 490.52 L421.7 489.9 L421.72 489.29 L421.75 488.67 L421.79 488.06 L421.85 487.44 L421.92 486.83 L421.99 486.21 L422.07 485.6 L422.15 484.98 L422.24 484.37 L422.33 483.76 L422.42 483.14 L422.53 482.53 L422.65 481.91 L422.78 481.3 L422.93 480.68 L423.09 480.07 L423.26 479.45 L423.44 478.84 L423.62 478.22 L423.81 477.61 L424.01 476.99 L424.21 476.38 L424.42 475.77 L424.67 475.15 L424.93 474.54 L425.2 473.92 L425.49 473.31 L425.76 472.69 L426.03 472.08 L426.29 471.46 L426.52 470.85 L426.75 470.23 L426.98 469.62 L427.22 469 L427.45 468.39 L427.67 467.78 L427.86 467.16 L428.02 466.55 L428.14 465.93 L428.21 465.32 L428.25 464.7 L428.27 464.09 L428.29 463.47 L428.31 462.86 L428.34 462.24 L428.39 461.63 L428.59 461.01 L429 460.4 Z" fill="#6aaa3a" stroke="#222" stroke-width="0.55" stroke-linejoin="round"/>
<line x1="429.3" y1="482" x2="429.3" y2="497.3" stroke="#000" stroke-width="1.2"/>
<circle cx="429.3" cy="489.5" r="1.6" fill="#000"/>
<line x1="446.5" y1="434.3" x2="446.5" y2="504.1" stroke="#2a2a2a" stroke-width="0.65"/>
<path d="M446.8 434.3 L446.87 434.99 L446.95 435.69 L447.03 436.38 L447.13 437.07 L447.23 437.77 L447.33 438.46 L447.44 439.15 L447.56 439.85 L447.68 440.54 L447.8 441.23 L447.93 441.93 L448.06 442.62 L448.21 443.31 L448.37 444.01 L448.54 444.7 L448.72 445.39 L448.91 446.09 L449.1 446.78 L449.29 447.47 L449.49 448.17 L449.67 448.86 L449.86 449.55 L450.04 450.24 L450.21 450.94 L450.39 451.63 L450.56 452.32 L450.73 453.02 L450.91 453.71 L451.08 454.4 L451.25 455.1 L451.42 455.79 L451.59 456.48 L451.75 457.18 L451.92 457.87 L452.08 458.56 L452.25 459.26 L452.43 459.95 L452.6 460.64 L452.77 461.34 L452.94 462.03 L453.09 462.72 L453.24 463.42 L453.38 464.11 L453.5 464.8 L453.6 465.5 L453.69 466.19 L453.79 466.88 L453.88 467.58 L453.96 468.27 L454.04 468.96 L454.11 469.66 L454.16 470.35 L454.19 471.04 L454.2 471.74 L454.17 472.43 L454.11 473.12 L454 473.82 L453.87 474.51 L453.7 475.2 L453.52 475.9 L453.31 476.59 L453.09 477.28 L452.87 477.98 L452.64 478.67 L452.41 479.36 L452.16 480.06 L451.84 480.75 L451.48 481.44 L451.1 482.13 L450.7 482.83 L450.3 483.52 L449.93 484.21 L449.59 484.91 L449.3 485.6 L449.05 486.29 L448.81 486.99 L448.59 487.68 L448.37 488.37 L448.17 489.07 L447.98 489.76 L447.8 490.45 L447.63 491.15 L447.47 491.84 L447.31 492.53 L447.16 493.23 L447.03 493.92 L446.92 494.61 L446.85 495.31 L446.8 496 L446.2 496 L446.15 495.31 L446.08 494.61 L445.97 493.92 L445.84 493.23 L445.69 492.53 L445.53 491.84 L445.37 491.15 L445.2 490.45 L445.02 489.76 L444.83 489.07 L444.63 488.37 L444.41 487.68 L444.19 486.99 L443.95 486.29 L443.7 485.6 L443.41 484.91 L443.07 484.21 L442.7 483.52 L442.3 482.83 L441.9 482.13 L441.52 481.44 L441.16 480.75 L440.84 480.06 L440.59 479.36 L440.36 478.67 L440.13 477.98 L439.91 477.28 L439.69 476.59 L439.48 475.9 L439.3 475.2 L439.13 474.51 L439 473.82 L438.89 473.12 L438.83 472.43 L438.8 471.74 L438.81 471.04 L438.84 470.35 L438.89 469.66 L438.96 468.96 L439.04 468.27 L439.12 467.58 L439.21 466.88 L439.31 466.19 L439.4 465.5 L439.5 464.8 L439.62 464.11 L439.76 463.42 L439.91 462.72 L440.06 462.03 L440.23 461.34 L440.4 460.64 L440.57 459.95 L440.75 459.26 L440.92 458.56 L441.08 457.87 L441.25 457.18 L441.41 456.48 L441.58 455.79 L441.75 455.1 L441.92 454.4 L442.09 453.71 L442.27 453.02 L442.44 452.32 L442.61 451.63 L442.79 450.94 L442.96 450.24 L443.14 449.55 L443.33 448.86 L443.51 448.17 L443.71 447.47 L443.9 446.78 L444.09 446.09 L444.28 445.39 L444.46 444.7 L444.63 444.01 L444.79 443.31 L444.94 442.62 L445.07 441.93 L445.2 441.23 L445.32 440.54 L445.44 439.85 L445.56 439.15 L445.67 438.46 L445.77 437.77 L445.87 437.07 L445.97 436.38 L446.05 435.69 L446.13 434.99 L446.2 434.3 Z" fill="#63b9c6" stroke="#222" stroke-width="0.55" stroke-linejoin="round"/>
<line x1="446.5" y1="461" x2="446.5" y2="477.2" stroke="#000" stroke-width="1.2"/>
<circle cx="446.5" cy="470.8" r="1.6" fill="#000"/>
<line x1="463.8" y1="459.3" x2="463.8" y2="520.3" stroke="#2a2a2a" stroke-width="0.65"/>
<path d="M464.4 468.6 L464.62 469.18 L464.84 469.76 L465.07 470.34 L465.3 470.92 L465.53 471.5 L465.76 472.09 L466 472.67 L466.24 473.25 L466.49 473.83 L466.73 474.41 L466.98 474.99 L467.25 475.57 L467.53 476.15 L467.82 476.73 L468.12 477.31 L468.41 477.89 L468.7 478.48 L468.97 479.06 L469.23 479.64 L469.46 480.22 L469.67 480.8 L469.85 481.38 L470.04 481.96 L470.23 482.54 L470.42 483.12 L470.6 483.7 L470.77 484.28 L470.93 484.87 L471.08 485.45 L471.21 486.03 L471.32 486.61 L471.41 487.19 L471.47 487.77 L471.5 488.35 L471.5 488.93 L471.49 489.51 L471.47 490.09 L471.44 490.67 L471.41 491.26 L471.37 491.84 L471.33 492.42 L471.28 493 L471.22 493.58 L471.17 494.16 L471.11 494.74 L471.03 495.32 L470.93 495.9 L470.8 496.48 L470.65 497.06 L470.49 497.64 L470.3 498.23 L470.11 498.81 L469.9 499.39 L469.69 499.97 L469.48 500.55 L469.27 501.13 L469.06 501.71 L468.87 502.29 L468.68 502.87 L468.48 503.45 L468.28 504.03 L468.07 504.62 L467.86 505.2 L467.65 505.78 L467.43 506.36 L467.22 506.94 L467.01 507.52 L466.8 508.1 L466.6 508.68 L466.4 509.26 L466.21 509.84 L466.03 510.42 L465.85 511.01 L465.67 511.59 L465.5 512.17 L465.33 512.75 L465.17 513.33 L465.02 513.91 L464.88 514.49 L464.77 515.07 L464.66 515.65 L464.55 516.23 L464.45 516.81 L464.35 517.4 L464.27 517.98 L464.19 518.56 L464.11 519.14 L464.05 519.72 L464 520.3 L463.6 520.3 L463.55 519.72 L463.49 519.14 L463.41 518.56 L463.33 517.98 L463.25 517.4 L463.15 516.81 L463.05 516.23 L462.94 515.65 L462.83 515.07 L462.72 514.49 L462.58 513.91 L462.43 513.33 L462.27 512.75 L462.1 512.17 L461.93 511.59 L461.75 511.01 L461.57 510.42 L461.39 509.84 L461.2 509.26 L461 508.68 L460.8 508.1 L460.59 507.52 L460.38 506.94 L460.17 506.36 L459.95 505.78 L459.74 505.2 L459.53 504.62 L459.32 504.03 L459.12 503.45 L458.92 502.87 L458.73 502.29 L458.54 501.71 L458.33 501.13 L458.12 500.55 L457.91 499.97 L457.7 499.39 L457.49 498.81 L457.3 498.23 L457.11 497.64 L456.95 497.06 L456.8 496.48 L456.67 495.9 L456.57 495.32 L456.49 494.74 L456.43 494.16 L456.38 493.58 L456.32 493 L456.27 492.42 L456.23 491.84 L456.19 491.26 L456.16 490.67 L456.13 490.09 L456.11 489.51 L456.1 488.93 L456.1 488.35 L456.13 487.77 L456.19 487.19 L456.28 486.61 L456.39 486.03 L456.52 485.45 L456.67 484.87 L456.83 484.28 L457 483.7 L457.18 483.12 L457.37 482.54 L457.56 481.96 L457.75 481.38 L457.93 480.8 L458.14 480.22 L458.37 479.64 L458.63 479.06 L458.9 478.48 L459.19 477.89 L459.48 477.31 L459.78 476.73 L460.07 476.15 L460.35 475.57 L460.62 474.99 L460.87 474.41 L461.11 473.83 L461.36 473.25 L461.6 472.67 L461.84 472.09 L462.07 471.5 L462.3 470.92 L462.53 470.34 L462.76 469.76 L462.98 469.18 L463.2 468.6 Z" fill="#6a9fe0" stroke="#222" stroke-width="0.55" stroke-linejoin="round"/>
<line x1="463.8" y1="484" x2="463.8" y2="497.3" stroke="#000" stroke-width="1.2"/>
<circle cx="463.8" cy="489.9" r="1.6" fill="#000"/>
<line x1="480.8" y1="456.2" x2="480.8" y2="513.3" stroke="#2a2a2a" stroke-width="0.65"/>
<path d="M481.3 467 L481.5 467.51 L481.71 468.01 L481.92 468.52 L482.13 469.02 L482.34 469.53 L482.55 470.03 L482.76 470.54 L482.97 471.04 L483.19 471.55 L483.41 472.06 L483.62 472.56 L483.84 473.07 L484.07 473.57 L484.3 474.08 L484.55 474.58 L484.81 475.09 L485.07 475.6 L485.32 476.1 L485.57 476.61 L485.82 477.11 L486.05 477.62 L486.26 478.12 L486.45 478.63 L486.62 479.13 L486.77 479.64 L486.91 480.15 L487.05 480.65 L487.19 481.16 L487.32 481.66 L487.46 482.17 L487.58 482.67 L487.7 483.18 L487.81 483.69 L487.91 484.19 L488 484.7 L488.07 485.2 L488.13 485.71 L488.17 486.21 L488.19 486.72 L488.2 487.22 L488.19 487.73 L488.15 488.24 L488.11 488.74 L488.05 489.25 L487.98 489.75 L487.9 490.26 L487.81 490.76 L487.71 491.27 L487.61 491.78 L487.51 492.28 L487.4 492.79 L487.3 493.29 L487.19 493.8 L487.07 494.3 L486.93 494.81 L486.78 495.31 L486.62 495.82 L486.45 496.33 L486.27 496.83 L486.09 497.34 L485.9 497.84 L485.7 498.35 L485.51 498.85 L485.32 499.36 L485.12 499.87 L484.93 500.37 L484.74 500.88 L484.56 501.38 L484.37 501.89 L484.17 502.39 L483.97 502.9 L483.76 503.4 L483.56 503.91 L483.35 504.42 L483.15 504.92 L482.95 505.43 L482.75 505.93 L482.57 506.44 L482.39 506.94 L482.22 507.45 L482.05 507.96 L481.88 508.46 L481.72 508.97 L481.58 509.47 L481.45 509.98 L481.34 510.48 L481.25 510.99 L481.17 511.49 L481.1 512 L480.5 512 L480.43 511.49 L480.35 510.99 L480.26 510.48 L480.15 509.98 L480.02 509.47 L479.88 508.97 L479.72 508.46 L479.55 507.96 L479.38 507.45 L479.21 506.94 L479.03 506.44 L478.85 505.93 L478.65 505.43 L478.45 504.92 L478.25 504.42 L478.04 503.91 L477.84 503.4 L477.63 502.9 L477.43 502.39 L477.23 501.89 L477.04 501.38 L476.86 500.88 L476.67 500.37 L476.48 499.87 L476.28 499.36 L476.09 498.85 L475.9 498.35 L475.7 497.84 L475.51 497.34 L475.33 496.83 L475.15 496.33 L474.98 495.82 L474.82 495.31 L474.67 494.81 L474.53 494.3 L474.41 493.8 L474.3 493.29 L474.2 492.79 L474.09 492.28 L473.99 491.78 L473.89 491.27 L473.79 490.76 L473.7 490.26 L473.62 489.75 L473.55 489.25 L473.49 488.74 L473.45 488.24 L473.41 487.73 L473.4 487.22 L473.41 486.72 L473.43 486.21 L473.47 485.71 L473.53 485.2 L473.6 484.7 L473.69 484.19 L473.79 483.69 L473.9 483.18 L474.02 482.67 L474.14 482.17 L474.28 481.66 L474.41 481.16 L474.55 480.65 L474.69 480.15 L474.83 479.64 L474.98 479.13 L475.15 478.63 L475.34 478.12 L475.55 477.62 L475.78 477.11 L476.03 476.61 L476.28 476.1 L476.53 475.6 L476.79 475.09 L477.05 474.58 L477.3 474.08 L477.53 473.57 L477.76 473.07 L477.98 472.56 L478.19 472.06 L478.41 471.55 L478.63 471.04 L478.84 470.54 L479.05 470.03 L479.26 469.53 L479.47 469.02 L479.68 468.52 L479.89 468.01 L480.1 467.51 L480.3 467 Z" fill="#a474be" stroke="#222" stroke-width="0.55" stroke-linejoin="round"/>
<line x1="480.8" y1="481.1" x2="480.8" y2="493.8" stroke="#000" stroke-width="1.2"/>
<circle cx="480.8" cy="487.5" r="1.6" fill="#000"/>
<text transform="translate(344.6 468.9) rotate(-89.9)" font-size="8" text-anchor="middle" fill="#1a1a1a" stroke="#1a1a1a" stroke-width="0.4" textLength="80.7" lengthAdjust="spacingAndGlyphs">Custom CD56<tspan font-size="4.96" dy="-2.2">bright</tspan><tspan dy="2.2"> module score</tspan></text>
<rect x="387.4" y="560.8" width="16.85" height="7.6" fill="#fff" stroke="#1a1a1a" stroke-width="0.85"/>
<rect x="391.82" y="564.1" width="1.25" height="1.3" fill="#333"/>
<rect x="394.07" y="564.1" width="1.25" height="1.3" fill="#333"/>
<rect x="396.32" y="564.1" width="1.25" height="1.3" fill="#333"/>
<rect x="398.57" y="564.1" width="1.25" height="1.3" fill="#333"/>
<rect x="404.25" y="560.8" width="16.85" height="7.6" fill="#fff" stroke="#1a1a1a" stroke-width="0.85"/>
<rect x="408.68" y="564.1" width="1.25" height="1.3" fill="#333"/>
<rect x="410.93" y="564.1" width="1.25" height="1.3" fill="#333"/>
<rect x="413.18" y="564.1" width="1.25" height="1.3" fill="#333"/>
<rect x="415.43" y="564.1" width="1.25" height="1.3" fill="#333"/>
<rect x="421.1" y="560.8" width="16.85" height="7.6" fill="#fff" stroke="#1a1a1a" stroke-width="0.85"/>
<text x="429.52" y="566.4" font-size="6" text-anchor="middle" fill="#222" stroke="#222" stroke-width="0.15">n.s</text>
<rect x="437.95" y="560.8" width="16.85" height="7.6" fill="#fff" stroke="#1a1a1a" stroke-width="0.85"/>
<rect x="442.38" y="564.1" width="1.25" height="1.3" fill="#333"/>
<rect x="444.62" y="564.1" width="1.25" height="1.3" fill="#333"/>
<rect x="446.88" y="564.1" width="1.25" height="1.3" fill="#333"/>
<rect x="449.12" y="564.1" width="1.25" height="1.3" fill="#333"/>
<rect x="454.8" y="560.8" width="16.85" height="7.6" fill="#fff" stroke="#1a1a1a" stroke-width="0.85"/>
<text x="463.22" y="566.4" font-size="6" text-anchor="middle" fill="#222" stroke="#222" stroke-width="0.15">n.s</text>
<rect x="471.65" y="560.8" width="16.85" height="7.6" fill="#fff" stroke="#1a1a1a" stroke-width="0.85"/>
<text x="480.07" y="566.4" font-size="6" text-anchor="middle" fill="#222" stroke="#222" stroke-width="0.15">n.s</text>
<rect x="404.25" y="568.4" width="16.85" height="7.6" fill="#fff" stroke="#1a1a1a" stroke-width="0.85"/>
<rect x="408.68" y="571.7" width="1.25" height="1.3" fill="#333"/>
<rect x="410.93" y="571.7" width="1.25" height="1.3" fill="#333"/>
<rect x="413.18" y="571.7" width="1.25" height="1.3" fill="#333"/>
<rect x="415.43" y="571.7" width="1.25" height="1.3" fill="#333"/>
<rect x="421.1" y="568.4" width="16.85" height="7.6" fill="#fff" stroke="#1a1a1a" stroke-width="0.85"/>
<rect x="426.65" y="571.7" width="1.25" height="1.3" fill="#333"/>
<rect x="428.9" y="571.7" width="1.25" height="1.3" fill="#333"/>
<rect x="431.15" y="571.7" width="1.25" height="1.3" fill="#333"/>
<rect x="437.95" y="568.4" width="16.85" height="7.6" fill="#fff" stroke="#1a1a1a" stroke-width="0.85"/>
<rect x="442.38" y="571.7" width="1.25" height="1.3" fill="#333"/>
<rect x="444.62" y="571.7" width="1.25" height="1.3" fill="#333"/>
<rect x="446.88" y="571.7" width="1.25" height="1.3" fill="#333"/>
<rect x="449.12" y="571.7" width="1.25" height="1.3" fill="#333"/>
<rect x="454.8" y="568.4" width="16.85" height="7.6" fill="#fff" stroke="#1a1a1a" stroke-width="0.85"/>
<rect x="460.35" y="571.7" width="1.25" height="1.3" fill="#333"/>
<rect x="462.6" y="571.7" width="1.25" height="1.3" fill="#333"/>
<rect x="464.85" y="571.7" width="1.25" height="1.3" fill="#333"/>
<rect x="471.65" y="568.4" width="16.85" height="7.6" fill="#fff" stroke="#1a1a1a" stroke-width="0.85"/>
<text x="480.07" y="574" font-size="6" text-anchor="middle" fill="#222" stroke="#222" stroke-width="0.15">n.s</text>
<rect x="421.1" y="576" width="16.85" height="7.6" fill="#fff" stroke="#1a1a1a" stroke-width="0.85"/>
<rect x="425.52" y="579.3" width="1.25" height="1.3" fill="#333"/>
<rect x="427.77" y="579.3" width="1.25" height="1.3" fill="#333"/>
<rect x="430.02" y="579.3" width="1.25" height="1.3" fill="#333"/>
<rect x="432.27" y="579.3" width="1.25" height="1.3" fill="#333"/>
<rect x="437.95" y="576" width="16.85" height="7.6" fill="#fff" stroke="#1a1a1a" stroke-width="0.85"/>
<rect x="442.38" y="579.3" width="1.25" height="1.3" fill="#333"/>
<rect x="444.62" y="579.3" width="1.25" height="1.3" fill="#333"/>
<rect x="446.88" y="579.3" width="1.25" height="1.3" fill="#333"/>
<rect x="449.12" y="579.3" width="1.25" height="1.3" fill="#333"/>
<rect x="454.8" y="576" width="16.85" height="7.6" fill="#fff" stroke="#1a1a1a" stroke-width="0.85"/>
<rect x="459.22" y="579.3" width="1.25" height="1.3" fill="#333"/>
<rect x="461.47" y="579.3" width="1.25" height="1.3" fill="#333"/>
<rect x="463.72" y="579.3" width="1.25" height="1.3" fill="#333"/>
<rect x="465.97" y="579.3" width="1.25" height="1.3" fill="#333"/>
<rect x="471.65" y="576" width="16.85" height="7.6" fill="#fff" stroke="#1a1a1a" stroke-width="0.85"/>
<rect x="479.45" y="579.3" width="1.25" height="1.3" fill="#333"/>
<rect x="437.95" y="583.6" width="16.85" height="7.6" fill="#fff" stroke="#1a1a1a" stroke-width="0.85"/>
<rect x="442.38" y="586.9" width="1.25" height="1.3" fill="#333"/>
<rect x="444.62" y="586.9" width="1.25" height="1.3" fill="#333"/>
<rect x="446.88" y="586.9" width="1.25" height="1.3" fill="#333"/>
<rect x="449.12" y="586.9" width="1.25" height="1.3" fill="#333"/>
<rect x="454.8" y="583.6" width="16.85" height="7.6" fill="#fff" stroke="#1a1a1a" stroke-width="0.85"/>
<text x="463.22" y="589.2" font-size="6" text-anchor="middle" fill="#222" stroke="#222" stroke-width="0.15">n.s</text>
<rect x="471.65" y="583.6" width="16.85" height="7.6" fill="#fff" stroke="#1a1a1a" stroke-width="0.85"/>
<text x="480.07" y="589.2" font-size="6" text-anchor="middle" fill="#222" stroke="#222" stroke-width="0.15">n.s</text>
<rect x="454.8" y="591.2" width="16.85" height="7.6" fill="#fff" stroke="#1a1a1a" stroke-width="0.85"/>
<rect x="459.22" y="594.5" width="1.25" height="1.3" fill="#333"/>
<rect x="461.47" y="594.5" width="1.25" height="1.3" fill="#333"/>
<rect x="463.72" y="594.5" width="1.25" height="1.3" fill="#333"/>
<rect x="465.97" y="594.5" width="1.25" height="1.3" fill="#333"/>
<rect x="471.65" y="591.2" width="16.85" height="7.6" fill="#fff" stroke="#1a1a1a" stroke-width="0.85"/>
<rect x="476.07" y="594.5" width="1.25" height="1.3" fill="#333"/>
<rect x="478.32" y="594.5" width="1.25" height="1.3" fill="#333"/>
<rect x="480.57" y="594.5" width="1.25" height="1.3" fill="#333"/>
<rect x="482.82" y="594.5" width="1.25" height="1.3" fill="#333"/>
<rect x="471.65" y="598.8" width="16.85" height="7.7" fill="#fff" stroke="#1a1a1a" stroke-width="0.85"/>
<text x="480.07" y="604.4" font-size="6" text-anchor="middle" fill="#222" stroke="#222" stroke-width="0.15">n.s</text>
<rect x="0.5" y="0.5" width="519" height="615" fill="none" stroke="#111" stroke-width="1"/>
</svg></body></html>
